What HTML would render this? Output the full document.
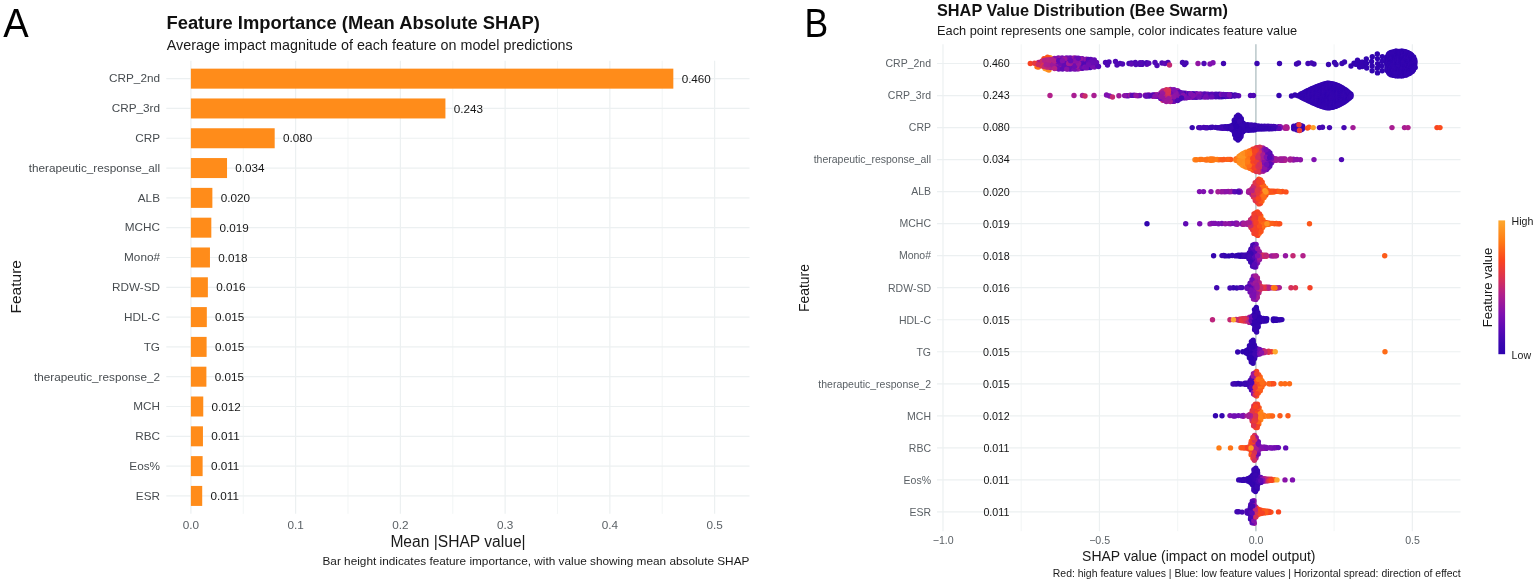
<!DOCTYPE html>
<html lang="en"><head><meta charset="utf-8"><title>SHAP feature importance</title>
<style>
html,body{margin:0;padding:0;background:#fff;}
body{width:1535px;height:583px;overflow:hidden;}
svg{display:block;font-family:"Liberation Sans", sans-serif;filter:blur(0.5px);}
</style></head><body>
<svg width="1535" height="583" viewBox="0 0 1535 583">
<rect width="1535" height="583" fill="#ffffff"/>
<g id="panelA">
<line x1="190.90" y1="60.77" x2="190.90" y2="513.80" stroke="#ecf0f1" stroke-width="1.2"/>
<line x1="243.27" y1="60.77" x2="243.27" y2="513.80" stroke="#ecf0f1" stroke-width="0.7"/>
<line x1="295.64" y1="60.77" x2="295.64" y2="513.80" stroke="#ecf0f1" stroke-width="1.2"/>
<line x1="348.01" y1="60.77" x2="348.01" y2="513.80" stroke="#ecf0f1" stroke-width="0.7"/>
<line x1="400.38" y1="60.77" x2="400.38" y2="513.80" stroke="#ecf0f1" stroke-width="1.2"/>
<line x1="452.75" y1="60.77" x2="452.75" y2="513.80" stroke="#ecf0f1" stroke-width="0.7"/>
<line x1="505.12" y1="60.77" x2="505.12" y2="513.80" stroke="#ecf0f1" stroke-width="1.2"/>
<line x1="557.49" y1="60.77" x2="557.49" y2="513.80" stroke="#ecf0f1" stroke-width="0.7"/>
<line x1="609.86" y1="60.77" x2="609.86" y2="513.80" stroke="#ecf0f1" stroke-width="1.2"/>
<line x1="662.23" y1="60.77" x2="662.23" y2="513.80" stroke="#ecf0f1" stroke-width="0.7"/>
<line x1="714.60" y1="60.77" x2="714.60" y2="513.80" stroke="#ecf0f1" stroke-width="1.2"/>
<line x1="166.3" y1="78.65" x2="749.5" y2="78.65" stroke="#ecf0f1" stroke-width="1.2"/>
<line x1="166.3" y1="108.46" x2="749.5" y2="108.46" stroke="#ecf0f1" stroke-width="1.2"/>
<line x1="166.3" y1="138.26" x2="749.5" y2="138.26" stroke="#ecf0f1" stroke-width="1.2"/>
<line x1="166.3" y1="168.06" x2="749.5" y2="168.06" stroke="#ecf0f1" stroke-width="1.2"/>
<line x1="166.3" y1="197.87" x2="749.5" y2="197.87" stroke="#ecf0f1" stroke-width="1.2"/>
<line x1="166.3" y1="227.68" x2="749.5" y2="227.68" stroke="#ecf0f1" stroke-width="1.2"/>
<line x1="166.3" y1="257.48" x2="749.5" y2="257.48" stroke="#ecf0f1" stroke-width="1.2"/>
<line x1="166.3" y1="287.28" x2="749.5" y2="287.28" stroke="#ecf0f1" stroke-width="1.2"/>
<line x1="166.3" y1="317.09" x2="749.5" y2="317.09" stroke="#ecf0f1" stroke-width="1.2"/>
<line x1="166.3" y1="346.89" x2="749.5" y2="346.89" stroke="#ecf0f1" stroke-width="1.2"/>
<line x1="166.3" y1="376.70" x2="749.5" y2="376.70" stroke="#ecf0f1" stroke-width="1.2"/>
<line x1="166.3" y1="406.50" x2="749.5" y2="406.50" stroke="#ecf0f1" stroke-width="1.2"/>
<line x1="166.3" y1="436.31" x2="749.5" y2="436.31" stroke="#ecf0f1" stroke-width="1.2"/>
<line x1="166.3" y1="466.12" x2="749.5" y2="466.12" stroke="#ecf0f1" stroke-width="1.2"/>
<line x1="166.3" y1="495.92" x2="749.5" y2="495.92" stroke="#ecf0f1" stroke-width="1.2"/>
<rect x="190.90" y="68.65" width="482.43" height="20.0" fill="#ff8c1a"/>
<text x="681.63" y="82.75" font-size="11.7" fill="#151515" text-anchor="start" font-weight="normal" >0.460</text>
<text x="160.0" y="82.45" font-size="11.75" fill="#474c50" text-anchor="end" font-weight="normal" >CRP_2nd</text>
<rect x="190.90" y="98.46" width="254.52" height="20.0" fill="#ff8c1a"/>
<text x="453.72" y="112.56" font-size="11.7" fill="#151515" text-anchor="start" font-weight="normal" >0.243</text>
<text x="160.0" y="112.26" font-size="11.75" fill="#474c50" text-anchor="end" font-weight="normal" >CRP_3rd</text>
<rect x="190.90" y="128.26" width="83.79" height="20.0" fill="#ff8c1a"/>
<text x="282.99" y="142.36" font-size="11.7" fill="#151515" text-anchor="start" font-weight="normal" >0.080</text>
<text x="160.0" y="142.06" font-size="11.75" fill="#474c50" text-anchor="end" font-weight="normal" >CRP</text>
<rect x="190.90" y="158.06" width="36.14" height="20.0" fill="#ff8c1a"/>
<text x="235.34" y="172.16" font-size="11.7" fill="#151515" text-anchor="start" font-weight="normal" >0.034</text>
<text x="160.0" y="171.87" font-size="11.75" fill="#474c50" text-anchor="end" font-weight="normal" >therapeutic_response_all</text>
<rect x="190.90" y="187.87" width="21.47" height="20.0" fill="#ff8c1a"/>
<text x="220.67" y="201.97" font-size="11.7" fill="#151515" text-anchor="start" font-weight="normal" >0.020</text>
<text x="160.0" y="201.67" font-size="11.75" fill="#474c50" text-anchor="end" font-weight="normal" >ALB</text>
<rect x="190.90" y="217.68" width="20.42" height="20.0" fill="#ff8c1a"/>
<text x="219.62" y="231.78" font-size="11.7" fill="#151515" text-anchor="start" font-weight="normal" >0.019</text>
<text x="160.0" y="231.48" font-size="11.75" fill="#474c50" text-anchor="end" font-weight="normal" >MCHC</text>
<rect x="190.90" y="247.48" width="19.06" height="20.0" fill="#ff8c1a"/>
<text x="218.26" y="261.58" font-size="11.7" fill="#151515" text-anchor="start" font-weight="normal" >0.018</text>
<text x="160.0" y="261.28" font-size="11.75" fill="#474c50" text-anchor="end" font-weight="normal" >Mono#</text>
<rect x="190.90" y="277.28" width="16.97" height="20.0" fill="#ff8c1a"/>
<text x="216.17" y="291.38" font-size="11.7" fill="#151515" text-anchor="start" font-weight="normal" >0.016</text>
<text x="160.0" y="291.08" font-size="11.75" fill="#474c50" text-anchor="end" font-weight="normal" >RDW-SD</text>
<rect x="190.90" y="307.09" width="15.92" height="20.0" fill="#ff8c1a"/>
<text x="215.12" y="321.19" font-size="11.7" fill="#151515" text-anchor="start" font-weight="normal" >0.015</text>
<text x="160.0" y="320.89" font-size="11.75" fill="#474c50" text-anchor="end" font-weight="normal" >HDL-C</text>
<rect x="190.90" y="336.89" width="15.71" height="20.0" fill="#ff8c1a"/>
<text x="214.91" y="351.00" font-size="11.7" fill="#151515" text-anchor="start" font-weight="normal" >0.015</text>
<text x="160.0" y="350.69" font-size="11.75" fill="#474c50" text-anchor="end" font-weight="normal" >TG</text>
<rect x="190.90" y="366.70" width="15.50" height="20.0" fill="#ff8c1a"/>
<text x="214.70" y="380.80" font-size="11.7" fill="#151515" text-anchor="start" font-weight="normal" >0.015</text>
<text x="160.0" y="380.50" font-size="11.75" fill="#474c50" text-anchor="end" font-weight="normal" >therapeutic_response_2</text>
<rect x="190.90" y="396.50" width="12.36" height="20.0" fill="#ff8c1a"/>
<text x="211.56" y="410.61" font-size="11.7" fill="#151515" text-anchor="start" font-weight="normal" >0.012</text>
<text x="160.0" y="410.31" font-size="11.75" fill="#474c50" text-anchor="end" font-weight="normal" >MCH</text>
<rect x="190.90" y="426.31" width="12.05" height="20.0" fill="#ff8c1a"/>
<text x="211.25" y="440.41" font-size="11.7" fill="#151515" text-anchor="start" font-weight="normal" >0.011</text>
<text x="160.0" y="440.11" font-size="11.75" fill="#474c50" text-anchor="end" font-weight="normal" >RBC</text>
<rect x="190.90" y="456.12" width="11.73" height="20.0" fill="#ff8c1a"/>
<text x="210.93" y="470.22" font-size="11.7" fill="#151515" text-anchor="start" font-weight="normal" >0.011</text>
<text x="160.0" y="469.92" font-size="11.75" fill="#474c50" text-anchor="end" font-weight="normal" >Eos%</text>
<rect x="190.90" y="485.92" width="11.31" height="20.0" fill="#ff8c1a"/>
<text x="210.51" y="500.02" font-size="11.7" fill="#151515" text-anchor="start" font-weight="normal" >0.011</text>
<text x="160.0" y="499.72" font-size="11.75" fill="#474c50" text-anchor="end" font-weight="normal" >ESR</text>
<text x="190.90" y="528.6" font-size="11.75" fill="#5b6166" text-anchor="middle" font-weight="normal" >0.0</text>
<text x="295.64" y="528.6" font-size="11.75" fill="#5b6166" text-anchor="middle" font-weight="normal" >0.1</text>
<text x="400.38" y="528.6" font-size="11.75" fill="#5b6166" text-anchor="middle" font-weight="normal" >0.2</text>
<text x="505.12" y="528.6" font-size="11.75" fill="#5b6166" text-anchor="middle" font-weight="normal" >0.3</text>
<text x="609.86" y="528.6" font-size="11.75" fill="#5b6166" text-anchor="middle" font-weight="normal" >0.4</text>
<text x="714.60" y="528.6" font-size="11.75" fill="#5b6166" text-anchor="middle" font-weight="normal" >0.5</text>
<text x="458.0" y="546.5" font-size="15.6" fill="#1a1a1a" text-anchor="middle" font-weight="normal" >Mean |SHAP value|</text>
<text x="749.4" y="564.8" font-size="11.8" fill="#1a1a1a" text-anchor="end" font-weight="normal" >Bar height indicates feature importance, with value showing mean absolute SHAP</text>
<text x="166.5" y="28.6" font-size="18.35" fill="#111" text-anchor="start" font-weight="bold" >Feature Importance (Mean Absolute SHAP)</text>
<text x="166.8" y="50.4" font-size="14.33" fill="#1a1a1a" text-anchor="start" font-weight="normal" >Average impact magnitude of each feature on model predictions</text>
<text transform="translate(21.4,286.8) rotate(-90)" font-size="15.5" fill="#1a1a1a" text-anchor="middle">Feature</text>
<text transform="translate(3.3,36.7) scale(0.92,1)" font-size="41.5" fill="#000">A</text>
</g>
<g id="panelB">
<line x1="943.00" y1="44.28" x2="943.00" y2="531.14" stroke="#ecf0f1" stroke-width="1.2"/>
<line x1="1021.23" y1="44.28" x2="1021.23" y2="531.14" stroke="#ecf0f1" stroke-width="0.7"/>
<line x1="1099.45" y1="44.28" x2="1099.45" y2="531.14" stroke="#ecf0f1" stroke-width="1.2"/>
<line x1="1177.68" y1="44.28" x2="1177.68" y2="531.14" stroke="#ecf0f1" stroke-width="0.7"/>
<line x1="1255.90" y1="44.28" x2="1255.90" y2="531.14" stroke="#ecf0f1" stroke-width="1.2"/>
<line x1="1334.12" y1="44.28" x2="1334.12" y2="531.14" stroke="#ecf0f1" stroke-width="0.7"/>
<line x1="1412.35" y1="44.28" x2="1412.35" y2="531.14" stroke="#ecf0f1" stroke-width="1.2"/>
<line x1="937" y1="63.50" x2="1460.5" y2="63.50" stroke="#ecf0f1" stroke-width="1.2"/>
<line x1="937" y1="95.53" x2="1460.5" y2="95.53" stroke="#ecf0f1" stroke-width="1.2"/>
<line x1="937" y1="127.56" x2="1460.5" y2="127.56" stroke="#ecf0f1" stroke-width="1.2"/>
<line x1="937" y1="159.59" x2="1460.5" y2="159.59" stroke="#ecf0f1" stroke-width="1.2"/>
<line x1="937" y1="191.62" x2="1460.5" y2="191.62" stroke="#ecf0f1" stroke-width="1.2"/>
<line x1="937" y1="223.65" x2="1460.5" y2="223.65" stroke="#ecf0f1" stroke-width="1.2"/>
<line x1="937" y1="255.68" x2="1460.5" y2="255.68" stroke="#ecf0f1" stroke-width="1.2"/>
<line x1="937" y1="287.71" x2="1460.5" y2="287.71" stroke="#ecf0f1" stroke-width="1.2"/>
<line x1="937" y1="319.74" x2="1460.5" y2="319.74" stroke="#ecf0f1" stroke-width="1.2"/>
<line x1="937" y1="351.77" x2="1460.5" y2="351.77" stroke="#ecf0f1" stroke-width="1.2"/>
<line x1="937" y1="383.80" x2="1460.5" y2="383.80" stroke="#ecf0f1" stroke-width="1.2"/>
<line x1="937" y1="415.83" x2="1460.5" y2="415.83" stroke="#ecf0f1" stroke-width="1.2"/>
<line x1="937" y1="447.86" x2="1460.5" y2="447.86" stroke="#ecf0f1" stroke-width="1.2"/>
<line x1="937" y1="479.89" x2="1460.5" y2="479.89" stroke="#ecf0f1" stroke-width="1.2"/>
<line x1="937" y1="511.92" x2="1460.5" y2="511.92" stroke="#ecf0f1" stroke-width="1.2"/>
<line x1="1255.90" y1="44.28" x2="1255.90" y2="531.14" stroke="#adbcc0" stroke-width="1.15"/>
<text x="931.0" y="67.30" font-size="10.5" fill="#5b6166" text-anchor="end" font-weight="normal" >CRP_2nd</text>
<text x="996.4" y="67.40" font-size="10.7" fill="#151515" text-anchor="middle" font-weight="normal" >0.460</text>
<text x="931.0" y="99.33" font-size="10.5" fill="#5b6166" text-anchor="end" font-weight="normal" >CRP_3rd</text>
<text x="996.4" y="99.43" font-size="10.7" fill="#151515" text-anchor="middle" font-weight="normal" >0.243</text>
<text x="931.0" y="131.36" font-size="10.5" fill="#5b6166" text-anchor="end" font-weight="normal" >CRP</text>
<text x="996.4" y="131.46" font-size="10.7" fill="#151515" text-anchor="middle" font-weight="normal" >0.080</text>
<text x="931.0" y="163.39" font-size="10.5" fill="#5b6166" text-anchor="end" font-weight="normal" >therapeutic_response_all</text>
<text x="996.4" y="163.49" font-size="10.7" fill="#151515" text-anchor="middle" font-weight="normal" >0.034</text>
<text x="931.0" y="195.42" font-size="10.5" fill="#5b6166" text-anchor="end" font-weight="normal" >ALB</text>
<text x="996.4" y="195.52" font-size="10.7" fill="#151515" text-anchor="middle" font-weight="normal" >0.020</text>
<text x="931.0" y="227.45" font-size="10.5" fill="#5b6166" text-anchor="end" font-weight="normal" >MCHC</text>
<text x="996.4" y="227.55" font-size="10.7" fill="#151515" text-anchor="middle" font-weight="normal" >0.019</text>
<text x="931.0" y="259.48" font-size="10.5" fill="#5b6166" text-anchor="end" font-weight="normal" >Mono#</text>
<text x="996.4" y="259.58" font-size="10.7" fill="#151515" text-anchor="middle" font-weight="normal" >0.018</text>
<text x="931.0" y="291.51" font-size="10.5" fill="#5b6166" text-anchor="end" font-weight="normal" >RDW-SD</text>
<text x="996.4" y="291.61" font-size="10.7" fill="#151515" text-anchor="middle" font-weight="normal" >0.016</text>
<text x="931.0" y="323.54" font-size="10.5" fill="#5b6166" text-anchor="end" font-weight="normal" >HDL-C</text>
<text x="996.4" y="323.64" font-size="10.7" fill="#151515" text-anchor="middle" font-weight="normal" >0.015</text>
<text x="931.0" y="355.57" font-size="10.5" fill="#5b6166" text-anchor="end" font-weight="normal" >TG</text>
<text x="996.4" y="355.67" font-size="10.7" fill="#151515" text-anchor="middle" font-weight="normal" >0.015</text>
<text x="931.0" y="387.60" font-size="10.5" fill="#5b6166" text-anchor="end" font-weight="normal" >therapeutic_response_2</text>
<text x="996.4" y="387.70" font-size="10.7" fill="#151515" text-anchor="middle" font-weight="normal" >0.015</text>
<text x="931.0" y="419.63" font-size="10.5" fill="#5b6166" text-anchor="end" font-weight="normal" >MCH</text>
<text x="996.4" y="419.73" font-size="10.7" fill="#151515" text-anchor="middle" font-weight="normal" >0.012</text>
<text x="931.0" y="451.66" font-size="10.5" fill="#5b6166" text-anchor="end" font-weight="normal" >RBC</text>
<text x="996.4" y="451.76" font-size="10.7" fill="#151515" text-anchor="middle" font-weight="normal" >0.011</text>
<text x="931.0" y="483.69" font-size="10.5" fill="#5b6166" text-anchor="end" font-weight="normal" >Eos%</text>
<text x="996.4" y="483.79" font-size="10.7" fill="#151515" text-anchor="middle" font-weight="normal" >0.011</text>
<text x="931.0" y="515.72" font-size="10.5" fill="#5b6166" text-anchor="end" font-weight="normal" >ESR</text>
<text x="996.4" y="515.82" font-size="10.7" fill="#151515" text-anchor="middle" font-weight="normal" >0.011</text>
<text x="943.20" y="544.4" font-size="10.6" fill="#5b6166" text-anchor="middle" font-weight="normal" >−1.0</text>
<text x="1099.65" y="544.4" font-size="10.6" fill="#5b6166" text-anchor="middle" font-weight="normal" >−0.5</text>
<text x="1256.10" y="544.4" font-size="10.6" fill="#5b6166" text-anchor="middle" font-weight="normal" >0.0</text>
<text x="1412.55" y="544.4" font-size="10.6" fill="#5b6166" text-anchor="middle" font-weight="normal" >0.5</text>
<text x="1198.8" y="560.5" font-size="13.98" fill="#1a1a1a" text-anchor="middle" font-weight="normal" >SHAP value (impact on model output)</text>
<text x="1460.7" y="577.1" font-size="10.45" fill="#1a1a1a" text-anchor="end" font-weight="normal" >Red: high feature values | Blue: low feature values | Horizontal spread: direction of effect</text>
<text x="937" y="16.4" font-size="16.3" fill="#111" text-anchor="start" font-weight="bold" >SHAP Value Distribution (Bee Swarm)</text>
<text x="937" y="35.4" font-size="12.79" fill="#1a1a1a" text-anchor="start" font-weight="normal" >Each point represents one sample, color indicates feature value</text>
<text transform="translate(809.2,288.0) rotate(-90)" font-size="13.9" fill="#1a1a1a" text-anchor="middle">Feature</text>
<text transform="translate(804.6,36.5) scale(0.855,1)" font-size="41.5" fill="#000">B</text>
<circle cx="1030.3" cy="63.5" r="2.7" fill="#f84322"/>
<circle cx="1037.0" cy="66.7" r="2.7" fill="#fe6b17"/>
<circle cx="1038.5" cy="67.1" r="2.7" fill="#fe7215"/>
<circle cx="1045.0" cy="68.5" r="2.7" fill="#fe9a26"/>
<circle cx="1047.5" cy="69.5" r="2.7" fill="#fe9a26"/>
<circle cx="1050.0" cy="57.7" r="2.7" fill="#fe8b1e"/>
<circle cx="1052.5" cy="59.0" r="2.7" fill="#fe9121"/>
<circle cx="1053.5" cy="62.5" r="2.7" fill="#fe8b1e"/>
<circle cx="1053.0" cy="66.0" r="2.7" fill="#fe861b"/>
<circle cx="1049.0" cy="70.1" r="2.7" fill="#fe8b1e"/>
<circle cx="1044.0" cy="58.7" r="2.7" fill="#fa441e"/>
<circle cx="1047.5" cy="57.1" r="2.7" fill="#fc571a"/>
<circle cx="1068.4" cy="58.1" r="2.7" fill="#760eb1"/>
<circle cx="1076.8" cy="68.9" r="2.7" fill="#750eb1"/>
<circle cx="1082.4" cy="58.7" r="2.7" fill="#6e0db2"/>
<circle cx="1090.8" cy="59.4" r="2.7" fill="#680cb3"/>
<circle cx="1072.4" cy="63.5" r="2.7" fill="#6a0cb3"/>
<circle cx="1074.7" cy="63.5" r="2.7" fill="#9517a0"/>
<circle cx="1050.4" cy="62.1" r="2.7" fill="#d63057"/>
<circle cx="1038.5" cy="62.4" r="2.7" fill="#c22774"/>
<circle cx="1050.3" cy="64.9" r="2.7" fill="#b1208b"/>
<circle cx="1080.7" cy="61.0" r="2.7" fill="#8813aa"/>
<circle cx="1058.3" cy="58.0" r="2.7" fill="#790fb1"/>
<circle cx="1050.7" cy="59.4" r="2.7" fill="#c6296e"/>
<circle cx="1070.5" cy="69.1" r="2.7" fill="#600ab4"/>
<circle cx="1058.5" cy="63.5" r="2.7" fill="#8311ad"/>
<circle cx="1078.6" cy="68.7" r="2.7" fill="#8e15a5"/>
<circle cx="1046.6" cy="59.9" r="2.7" fill="#b72283"/>
<circle cx="1044.3" cy="62.5" r="2.7" fill="#a91d91"/>
<circle cx="1054.5" cy="58.5" r="2.7" fill="#9115a3"/>
<circle cx="1078.3" cy="60.9" r="2.7" fill="#670cb3"/>
<circle cx="1056.6" cy="61.2" r="2.7" fill="#690cb3"/>
<circle cx="1052.7" cy="62.2" r="2.7" fill="#ac1e8f"/>
<circle cx="1050.7" cy="67.6" r="2.7" fill="#9f1a98"/>
<circle cx="1076.8" cy="63.5" r="2.7" fill="#7a0fb1"/>
<circle cx="1080.7" cy="68.4" r="2.7" fill="#97179f"/>
<circle cx="1094.5" cy="67.0" r="2.7" fill="#730eb2"/>
<circle cx="1062.5" cy="66.3" r="2.7" fill="#8813aa"/>
<circle cx="1060.4" cy="58.4" r="2.7" fill="#9a189d"/>
<circle cx="1072.7" cy="68.5" r="2.7" fill="#750eb1"/>
<circle cx="1082.8" cy="61.1" r="2.7" fill="#8311ae"/>
<circle cx="1034.5" cy="63.3" r="2.7" fill="#e7393d"/>
<circle cx="1084.4" cy="62.3" r="2.7" fill="#740eb1"/>
<circle cx="1072.6" cy="61.0" r="2.7" fill="#700db2"/>
<circle cx="1040.3" cy="63.5" r="2.7" fill="#be257a"/>
<circle cx="1060.3" cy="66.0" r="2.7" fill="#7f10b0"/>
<circle cx="1074.8" cy="60.7" r="2.7" fill="#98189e"/>
<circle cx="1040.5" cy="62.1" r="2.7" fill="#a61c93"/>
<circle cx="1066.2" cy="60.7" r="2.7" fill="#5f0ab4"/>
<circle cx="1066.3" cy="63.5" r="2.7" fill="#650bb3"/>
<circle cx="1074.5" cy="69.1" r="2.7" fill="#760eb1"/>
<circle cx="1054.5" cy="63.5" r="2.7" fill="#9f1a98"/>
<circle cx="1056.5" cy="63.5" r="2.7" fill="#720eb2"/>
<circle cx="1078.7" cy="66.1" r="2.7" fill="#790fb1"/>
<circle cx="1056.4" cy="58.9" r="2.7" fill="#8110af"/>
<circle cx="1082.7" cy="68.3" r="2.7" fill="#5d0ab4"/>
<circle cx="1072.7" cy="66.0" r="2.7" fill="#8211ae"/>
<circle cx="1080.5" cy="63.5" r="2.7" fill="#620bb4"/>
<circle cx="1090.2" cy="64.9" r="2.7" fill="#640bb4"/>
<circle cx="1082.3" cy="65.9" r="2.7" fill="#8f15a4"/>
<circle cx="1094.7" cy="64.7" r="2.7" fill="#630bb4"/>
<circle cx="1060.6" cy="68.6" r="2.7" fill="#700db2"/>
<circle cx="1084.8" cy="59.9" r="2.7" fill="#7c0fb1"/>
<circle cx="1072.8" cy="58.5" r="2.7" fill="#98189e"/>
<circle cx="1094.3" cy="60.0" r="2.7" fill="#660bb3"/>
<circle cx="1068.5" cy="66.2" r="2.7" fill="#7f10b0"/>
<circle cx="1080.7" cy="66.0" r="2.7" fill="#6c0db2"/>
<circle cx="1046.6" cy="67.1" r="2.7" fill="#bb247e"/>
<circle cx="1040.7" cy="64.9" r="2.7" fill="#aa1d90"/>
<circle cx="1042.3" cy="60.9" r="2.7" fill="#cb2b67"/>
<circle cx="1068.3" cy="68.9" r="2.7" fill="#650bb3"/>
<circle cx="1046.5" cy="62.3" r="2.7" fill="#a21b96"/>
<circle cx="1076.8" cy="66.2" r="2.7" fill="#9e1a99"/>
<circle cx="1070.4" cy="57.9" r="2.7" fill="#700db2"/>
<circle cx="1042.8" cy="63.5" r="2.7" fill="#c82a6b"/>
<circle cx="1042.4" cy="66.1" r="2.7" fill="#e03548"/>
<circle cx="1056.3" cy="65.8" r="2.7" fill="#6b0cb3"/>
<circle cx="1058.7" cy="66.3" r="2.7" fill="#9517a0"/>
<circle cx="1062.2" cy="58.0" r="2.7" fill="#7b0fb1"/>
<circle cx="1070.5" cy="66.3" r="2.7" fill="#680cb3"/>
<circle cx="1086.5" cy="61.3" r="2.7" fill="#8712ab"/>
<circle cx="1064.2" cy="68.1" r="2.7" fill="#6d0db2"/>
<circle cx="1096.5" cy="64.6" r="2.7" fill="#600ab4"/>
<circle cx="1074.3" cy="57.9" r="2.7" fill="#9517a0"/>
<circle cx="1038.2" cy="64.6" r="2.7" fill="#cb2b66"/>
<circle cx="1080.6" cy="58.6" r="2.7" fill="#9316a2"/>
<circle cx="1044.4" cy="64.5" r="2.7" fill="#d83155"/>
<circle cx="1086.5" cy="59.1" r="2.7" fill="#8b13a8"/>
<circle cx="1060.8" cy="61.0" r="2.7" fill="#690cb3"/>
<circle cx="1088.7" cy="67.5" r="2.7" fill="#660bb3"/>
<circle cx="1092.4" cy="64.5" r="2.7" fill="#660bb3"/>
<circle cx="1058.7" cy="69.0" r="2.7" fill="#710db2"/>
<circle cx="1062.8" cy="63.5" r="2.7" fill="#8d14a6"/>
<circle cx="1068.4" cy="60.8" r="2.7" fill="#670cb3"/>
<circle cx="1064.7" cy="61.2" r="2.7" fill="#790fb1"/>
<circle cx="1082.3" cy="63.5" r="2.7" fill="#5b0ab5"/>
<circle cx="1094.3" cy="62.3" r="2.7" fill="#5409b4"/>
<circle cx="1048.5" cy="67.0" r="2.7" fill="#bd257b"/>
<circle cx="1066.4" cy="66.3" r="2.7" fill="#600ab4"/>
<circle cx="1086.7" cy="63.5" r="2.7" fill="#5b09b5"/>
<circle cx="1044.3" cy="66.6" r="2.7" fill="#c82a6b"/>
<circle cx="1052.6" cy="67.4" r="2.7" fill="#ad1f8e"/>
<circle cx="1066.3" cy="57.9" r="2.7" fill="#750eb1"/>
<circle cx="1088.5" cy="59.5" r="2.7" fill="#5309b4"/>
<circle cx="1054.2" cy="66.0" r="2.7" fill="#a11b97"/>
<circle cx="1048.4" cy="62.3" r="2.7" fill="#cf2d62"/>
<circle cx="1060.3" cy="63.5" r="2.7" fill="#6e0db2"/>
<circle cx="1076.2" cy="58.1" r="2.7" fill="#6f0db2"/>
<circle cx="1074.6" cy="66.3" r="2.7" fill="#6e0db2"/>
<circle cx="1078.6" cy="63.5" r="2.7" fill="#9517a0"/>
<circle cx="1048.6" cy="64.7" r="2.7" fill="#aa1d90"/>
<circle cx="1086.4" cy="65.7" r="2.7" fill="#600ab4"/>
<circle cx="1056.7" cy="68.1" r="2.7" fill="#700db2"/>
<circle cx="1084.3" cy="64.7" r="2.7" fill="#5109b4"/>
<circle cx="1052.7" cy="64.8" r="2.7" fill="#9b199c"/>
<circle cx="1096.5" cy="62.4" r="2.7" fill="#670cb3"/>
<circle cx="1064.7" cy="58.9" r="2.7" fill="#99189d"/>
<circle cx="1054.7" cy="61.0" r="2.7" fill="#b2208a"/>
<circle cx="1076.4" cy="60.8" r="2.7" fill="#8a13a8"/>
<circle cx="1044.7" cy="60.4" r="2.7" fill="#b52186"/>
<circle cx="1058.7" cy="60.7" r="2.7" fill="#640bb3"/>
<circle cx="1064.4" cy="63.5" r="2.7" fill="#660bb3"/>
<circle cx="1062.4" cy="60.7" r="2.7" fill="#8411ad"/>
<circle cx="1046.2" cy="64.7" r="2.7" fill="#ac1e8f"/>
<circle cx="1062.6" cy="69.0" r="2.7" fill="#620bb4"/>
<circle cx="1048.6" cy="60.0" r="2.7" fill="#b82382"/>
<circle cx="1064.6" cy="65.8" r="2.7" fill="#630bb4"/>
<circle cx="1084.8" cy="67.1" r="2.7" fill="#7b0fb1"/>
<circle cx="1052.2" cy="59.6" r="2.7" fill="#b2208a"/>
<circle cx="1088.7" cy="62.2" r="2.7" fill="#610bb4"/>
<circle cx="1070.2" cy="63.5" r="2.7" fill="#9e1a99"/>
<circle cx="1092.3" cy="60.4" r="2.7" fill="#630bb4"/>
<circle cx="1054.6" cy="68.5" r="2.7" fill="#b52186"/>
<circle cx="1090.5" cy="62.1" r="2.7" fill="#690cb3"/>
<circle cx="1090.3" cy="67.6" r="2.7" fill="#4808b2"/>
<circle cx="1092.5" cy="66.6" r="2.7" fill="#780fb1"/>
<circle cx="1086.3" cy="67.9" r="2.7" fill="#740eb2"/>
<circle cx="1068.7" cy="63.5" r="2.7" fill="#a11b97"/>
<circle cx="1078.3" cy="58.3" r="2.7" fill="#680cb3"/>
<circle cx="1066.7" cy="69.1" r="2.7" fill="#8812aa"/>
<circle cx="1092.6" cy="62.5" r="2.7" fill="#680cb3"/>
<circle cx="1088.5" cy="64.8" r="2.7" fill="#700db2"/>
<circle cx="1070.7" cy="60.7" r="2.7" fill="#690cb3"/>
<circle cx="1098.5" cy="66.5" r="2.7" fill="#5809b5"/>
<circle cx="1105.5" cy="62.5" r="2.7" fill="#4f08b4"/>
<circle cx="1107.5" cy="65.0" r="2.7" fill="#4f08b4"/>
<circle cx="1109.0" cy="62.0" r="2.7" fill="#4f08b4"/>
<circle cx="1115.5" cy="61.5" r="2.7" fill="#4f08b4"/>
<circle cx="1117.0" cy="65.0" r="2.7" fill="#4f08b4"/>
<circle cx="1120.0" cy="63.5" r="2.7" fill="#4f08b4"/>
<circle cx="1122.5" cy="64.0" r="2.7" fill="#4f08b4"/>
<circle cx="1142.5" cy="62.6" r="2.7" fill="#4d08b3"/>
<circle cx="1142.0" cy="64.4" r="2.7" fill="#4b08b3"/>
<circle cx="1146.9" cy="64.2" r="2.7" fill="#640bb4"/>
<circle cx="1146.7" cy="62.8" r="2.7" fill="#4908b3"/>
<circle cx="1148.8" cy="63.2" r="2.7" fill="#5809b5"/>
<circle cx="1135.3" cy="62.5" r="2.7" fill="#5109b4"/>
<circle cx="1140.1" cy="62.6" r="2.7" fill="#5709b5"/>
<circle cx="1131.3" cy="62.9" r="2.7" fill="#4908b2"/>
<circle cx="1129.0" cy="63.5" r="2.7" fill="#4608b2"/>
<circle cx="1131.4" cy="64.1" r="2.7" fill="#5f0ab4"/>
<circle cx="1140.1" cy="64.4" r="2.7" fill="#5409b4"/>
<circle cx="1135.9" cy="64.5" r="2.7" fill="#5109b4"/>
<circle cx="1155.0" cy="62.5" r="2.7" fill="#4f08b4"/>
<circle cx="1157.0" cy="65.5" r="2.7" fill="#4f08b4"/>
<circle cx="1162.0" cy="63.0" r="2.7" fill="#4f08b4"/>
<circle cx="1165.0" cy="63.5" r="2.7" fill="#5f0ab4"/>
<circle cx="1168.0" cy="62.5" r="2.7" fill="#4f08b4"/>
<circle cx="1169.5" cy="65.0" r="2.7" fill="#c32873"/>
<circle cx="1182.5" cy="62.5" r="2.7" fill="#4608b2"/>
<circle cx="1184.5" cy="64.5" r="2.7" fill="#4608b2"/>
<circle cx="1186.0" cy="63.0" r="2.7" fill="#4608b2"/>
<circle cx="1198.0" cy="63.5" r="2.7" fill="#9115a3"/>
<circle cx="1204.0" cy="63.5" r="2.7" fill="#4f08b4"/>
<circle cx="1210.0" cy="64.0" r="2.7" fill="#8010b0"/>
<circle cx="1213.0" cy="62.7" r="2.7" fill="#8010b0"/>
<circle cx="1223.5" cy="63.5" r="2.7" fill="#4007b1"/>
<circle cx="1257.0" cy="63.5" r="2.7" fill="#3a07b0"/>
<circle cx="1279.5" cy="63.5" r="2.7" fill="#3a07b0"/>
<circle cx="1296.5" cy="64.0" r="2.7" fill="#4007b1"/>
<circle cx="1298.5" cy="63.0" r="2.7" fill="#4007b1"/>
<circle cx="1308.0" cy="63.5" r="2.7" fill="#4007b1"/>
<circle cx="1311.5" cy="63.0" r="2.7" fill="#4608b2"/>
<circle cx="1314.0" cy="64.0" r="2.7" fill="#4007b1"/>
<circle cx="1328.5" cy="64.5" r="2.7" fill="#3a07b0"/>
<circle cx="1334.5" cy="62.5" r="2.7" fill="#3a07b0"/>
<circle cx="1336.0" cy="64.5" r="2.7" fill="#3a07b0"/>
<circle cx="1342.0" cy="63.5" r="2.7" fill="#3a07b0"/>
<circle cx="1344.5" cy="62.0" r="2.7" fill="#3a07b0"/>
<circle cx="1351.0" cy="66.0" r="2.7" fill="#3605af"/>
<circle cx="1358.3" cy="64.7" r="2.7" fill="#3a07b0"/>
<circle cx="1360.3" cy="62.4" r="2.7" fill="#3907b0"/>
<circle cx="1362.7" cy="64.6" r="2.7" fill="#3706af"/>
<circle cx="1362.7" cy="62.4" r="2.7" fill="#3204af"/>
<circle cx="1354.0" cy="63.2" r="2.7" fill="#3304af"/>
<circle cx="1360.4" cy="64.6" r="2.7" fill="#3304af"/>
<circle cx="1358.1" cy="62.3" r="2.7" fill="#3405af"/>
<circle cx="1357.5" cy="60.3" r="2.7" fill="#3404af"/>
<circle cx="1359.6" cy="67.1" r="2.7" fill="#3404af"/>
<circle cx="1362.0" cy="62.3" r="2.7" fill="#3404af"/>
<circle cx="1362.4" cy="66.5" r="2.7" fill="#3404af"/>
<circle cx="1355.6" cy="64.3" r="2.7" fill="#3404af"/>
<circle cx="1366.3" cy="58.9" r="2.7" fill="#3204af"/>
<circle cx="1366.5" cy="63.4" r="2.7" fill="#3204af"/>
<circle cx="1366.7" cy="68.0" r="2.7" fill="#3204af"/>
<circle cx="1372.3" cy="56.7" r="2.7" fill="#3204af"/>
<circle cx="1371.6" cy="61.4" r="2.7" fill="#3204af"/>
<circle cx="1372.1" cy="65.9" r="2.7" fill="#3204af"/>
<circle cx="1372.1" cy="70.7" r="2.7" fill="#3204af"/>
<circle cx="1377.3" cy="54.0" r="2.7" fill="#3204af"/>
<circle cx="1377.4" cy="58.6" r="2.7" fill="#3204af"/>
<circle cx="1377.6" cy="63.6" r="2.7" fill="#3204af"/>
<circle cx="1377.3" cy="68.2" r="2.7" fill="#3204af"/>
<circle cx="1377.5" cy="72.9" r="2.7" fill="#3204af"/>
<circle cx="1382.3" cy="56.6" r="2.7" fill="#3204af"/>
<circle cx="1382.1" cy="61.3" r="2.7" fill="#3204af"/>
<circle cx="1381.6" cy="66.0" r="2.7" fill="#3204af"/>
<circle cx="1382.2" cy="70.7" r="2.7" fill="#3204af"/>
<circle cx="1387.2" cy="56.6" r="2.7" fill="#3003ae"/>
<circle cx="1386.6" cy="58.5" r="2.7" fill="#3404af"/>
<circle cx="1386.8" cy="60.5" r="2.7" fill="#3003ae"/>
<circle cx="1386.6" cy="62.5" r="2.7" fill="#3103ae"/>
<circle cx="1386.8" cy="64.5" r="2.7" fill="#3003ae"/>
<circle cx="1387.2" cy="66.4" r="2.7" fill="#3003ae"/>
<circle cx="1386.9" cy="68.4" r="2.7" fill="#3204af"/>
<circle cx="1387.1" cy="70.4" r="2.7" fill="#3103ae"/>
<circle cx="1388.5" cy="54.3" r="2.7" fill="#3204af"/>
<circle cx="1388.3" cy="56.6" r="2.7" fill="#3003ae"/>
<circle cx="1388.5" cy="58.4" r="2.7" fill="#3003ae"/>
<circle cx="1388.4" cy="60.4" r="2.7" fill="#3204af"/>
<circle cx="1388.2" cy="62.5" r="2.7" fill="#3304af"/>
<circle cx="1388.4" cy="64.5" r="2.7" fill="#3204af"/>
<circle cx="1388.3" cy="66.4" r="2.7" fill="#3003ae"/>
<circle cx="1388.1" cy="68.5" r="2.7" fill="#3304af"/>
<circle cx="1388.2" cy="70.6" r="2.7" fill="#3304af"/>
<circle cx="1388.6" cy="72.5" r="2.7" fill="#3103ae"/>
<circle cx="1389.5" cy="53.3" r="2.7" fill="#3103ae"/>
<circle cx="1389.4" cy="55.3" r="2.7" fill="#3404af"/>
<circle cx="1390.0" cy="57.3" r="2.7" fill="#3404af"/>
<circle cx="1390.0" cy="59.3" r="2.7" fill="#3003ae"/>
<circle cx="1389.8" cy="61.4" r="2.7" fill="#3103af"/>
<circle cx="1389.8" cy="63.5" r="2.7" fill="#3103ae"/>
<circle cx="1389.5" cy="65.6" r="2.7" fill="#3204af"/>
<circle cx="1389.9" cy="67.6" r="2.7" fill="#3003ae"/>
<circle cx="1390.0" cy="69.6" r="2.7" fill="#3103af"/>
<circle cx="1389.8" cy="71.7" r="2.7" fill="#3103af"/>
<circle cx="1389.5" cy="73.8" r="2.7" fill="#3103ae"/>
<circle cx="1391.0" cy="52.5" r="2.7" fill="#3404af"/>
<circle cx="1390.9" cy="54.5" r="2.7" fill="#3304af"/>
<circle cx="1391.0" cy="56.8" r="2.7" fill="#3103af"/>
<circle cx="1391.3" cy="59.0" r="2.7" fill="#3404af"/>
<circle cx="1391.3" cy="61.4" r="2.7" fill="#3103ae"/>
<circle cx="1390.8" cy="63.5" r="2.7" fill="#3204af"/>
<circle cx="1390.9" cy="65.6" r="2.7" fill="#3103af"/>
<circle cx="1391.0" cy="67.8" r="2.7" fill="#3304af"/>
<circle cx="1391.1" cy="70.2" r="2.7" fill="#3304af"/>
<circle cx="1391.0" cy="72.1" r="2.7" fill="#3204af"/>
<circle cx="1390.9" cy="74.7" r="2.7" fill="#3404af"/>
<circle cx="1392.4" cy="52.1" r="2.7" fill="#3003ae"/>
<circle cx="1392.7" cy="54.1" r="2.7" fill="#3404af"/>
<circle cx="1392.5" cy="56.1" r="2.7" fill="#3103af"/>
<circle cx="1392.4" cy="58.2" r="2.7" fill="#3304af"/>
<circle cx="1392.6" cy="60.4" r="2.7" fill="#3103ae"/>
<circle cx="1392.5" cy="62.5" r="2.7" fill="#3003ae"/>
<circle cx="1392.6" cy="64.6" r="2.7" fill="#3204af"/>
<circle cx="1392.7" cy="66.6" r="2.7" fill="#3203af"/>
<circle cx="1392.4" cy="68.6" r="2.7" fill="#3103af"/>
<circle cx="1392.5" cy="70.9" r="2.7" fill="#3003ae"/>
<circle cx="1392.5" cy="72.9" r="2.7" fill="#3103af"/>
<circle cx="1392.7" cy="75.1" r="2.7" fill="#3003ae"/>
<circle cx="1394.1" cy="51.7" r="2.7" fill="#3304af"/>
<circle cx="1393.7" cy="53.8" r="2.7" fill="#3304af"/>
<circle cx="1393.9" cy="56.0" r="2.7" fill="#3103af"/>
<circle cx="1394.0" cy="58.2" r="2.7" fill="#3304af"/>
<circle cx="1394.1" cy="60.2" r="2.7" fill="#3404af"/>
<circle cx="1393.8" cy="62.4" r="2.7" fill="#3103af"/>
<circle cx="1393.8" cy="64.6" r="2.7" fill="#3404af"/>
<circle cx="1393.7" cy="66.7" r="2.7" fill="#3304af"/>
<circle cx="1394.1" cy="68.7" r="2.7" fill="#3204af"/>
<circle cx="1393.6" cy="70.8" r="2.7" fill="#3404af"/>
<circle cx="1393.9" cy="73.1" r="2.7" fill="#3203af"/>
<circle cx="1394.1" cy="75.4" r="2.7" fill="#3003ae"/>
<circle cx="1395.6" cy="51.3" r="2.7" fill="#3304af"/>
<circle cx="1395.4" cy="53.9" r="2.7" fill="#3404af"/>
<circle cx="1395.1" cy="56.0" r="2.7" fill="#3003ae"/>
<circle cx="1395.1" cy="58.1" r="2.7" fill="#3003ae"/>
<circle cx="1395.4" cy="60.3" r="2.7" fill="#3204af"/>
<circle cx="1395.3" cy="62.4" r="2.7" fill="#3304af"/>
<circle cx="1395.1" cy="64.6" r="2.7" fill="#3404af"/>
<circle cx="1395.1" cy="66.8" r="2.7" fill="#3304af"/>
<circle cx="1395.0" cy="68.9" r="2.7" fill="#3404af"/>
<circle cx="1395.2" cy="71.2" r="2.7" fill="#3304af"/>
<circle cx="1395.1" cy="73.3" r="2.7" fill="#3204af"/>
<circle cx="1395.0" cy="75.5" r="2.7" fill="#3204af"/>
<circle cx="1396.4" cy="51.2" r="2.7" fill="#3304af"/>
<circle cx="1396.8" cy="53.4" r="2.7" fill="#3103ae"/>
<circle cx="1396.7" cy="55.7" r="2.7" fill="#3204af"/>
<circle cx="1396.8" cy="58.1" r="2.7" fill="#3103af"/>
<circle cx="1396.6" cy="60.1" r="2.7" fill="#3103ae"/>
<circle cx="1396.9" cy="62.4" r="2.7" fill="#3204af"/>
<circle cx="1396.5" cy="64.6" r="2.7" fill="#3003ae"/>
<circle cx="1396.7" cy="66.8" r="2.7" fill="#3404af"/>
<circle cx="1396.5" cy="69.0" r="2.7" fill="#3204af"/>
<circle cx="1396.9" cy="71.2" r="2.7" fill="#3404af"/>
<circle cx="1396.4" cy="73.4" r="2.7" fill="#3404af"/>
<circle cx="1396.4" cy="75.9" r="2.7" fill="#3204af"/>
<circle cx="1398.0" cy="51.5" r="2.7" fill="#3003ae"/>
<circle cx="1398.1" cy="53.7" r="2.7" fill="#3103ae"/>
<circle cx="1397.9" cy="55.6" r="2.7" fill="#3003ae"/>
<circle cx="1397.9" cy="58.0" r="2.7" fill="#3204af"/>
<circle cx="1398.1" cy="60.2" r="2.7" fill="#3304af"/>
<circle cx="1398.3" cy="62.4" r="2.7" fill="#3103af"/>
<circle cx="1397.9" cy="64.6" r="2.7" fill="#3003ae"/>
<circle cx="1398.1" cy="66.8" r="2.7" fill="#3204af"/>
<circle cx="1398.3" cy="69.1" r="2.7" fill="#3304af"/>
<circle cx="1398.0" cy="71.1" r="2.7" fill="#3003ae"/>
<circle cx="1398.2" cy="73.6" r="2.7" fill="#3204af"/>
<circle cx="1398.1" cy="75.8" r="2.7" fill="#3304af"/>
<circle cx="1399.5" cy="51.4" r="2.7" fill="#3103ae"/>
<circle cx="1399.6" cy="53.5" r="2.7" fill="#3103af"/>
<circle cx="1399.5" cy="55.9" r="2.7" fill="#3003ae"/>
<circle cx="1399.3" cy="57.8" r="2.7" fill="#3204af"/>
<circle cx="1399.4" cy="60.1" r="2.7" fill="#3404af"/>
<circle cx="1399.2" cy="62.4" r="2.7" fill="#3304af"/>
<circle cx="1399.8" cy="64.6" r="2.7" fill="#3304af"/>
<circle cx="1399.6" cy="66.8" r="2.7" fill="#3404af"/>
<circle cx="1399.2" cy="68.9" r="2.7" fill="#3003ae"/>
<circle cx="1399.6" cy="71.3" r="2.7" fill="#3304af"/>
<circle cx="1399.7" cy="73.3" r="2.7" fill="#3304af"/>
<circle cx="1399.3" cy="75.7" r="2.7" fill="#3003ae"/>
<circle cx="1401.2" cy="51.2" r="2.7" fill="#3304af"/>
<circle cx="1400.7" cy="53.4" r="2.7" fill="#3304af"/>
<circle cx="1400.9" cy="55.9" r="2.7" fill="#3204af"/>
<circle cx="1400.9" cy="57.9" r="2.7" fill="#3003ae"/>
<circle cx="1400.8" cy="60.2" r="2.7" fill="#3204af"/>
<circle cx="1400.9" cy="62.4" r="2.7" fill="#3103af"/>
<circle cx="1400.7" cy="64.6" r="2.7" fill="#3204af"/>
<circle cx="1400.7" cy="66.8" r="2.7" fill="#3404af"/>
<circle cx="1401.2" cy="69.1" r="2.7" fill="#3003ae"/>
<circle cx="1400.9" cy="71.1" r="2.7" fill="#3103ae"/>
<circle cx="1400.9" cy="73.3" r="2.7" fill="#3304af"/>
<circle cx="1401.1" cy="75.8" r="2.7" fill="#3103ae"/>
<circle cx="1402.2" cy="51.2" r="2.7" fill="#3103ae"/>
<circle cx="1402.3" cy="53.4" r="2.7" fill="#3103ae"/>
<circle cx="1402.2" cy="55.9" r="2.7" fill="#3003ae"/>
<circle cx="1402.0" cy="57.9" r="2.7" fill="#3103ae"/>
<circle cx="1402.3" cy="60.2" r="2.7" fill="#3003ae"/>
<circle cx="1402.3" cy="62.4" r="2.7" fill="#3003ae"/>
<circle cx="1402.5" cy="64.6" r="2.7" fill="#3203af"/>
<circle cx="1402.2" cy="66.7" r="2.7" fill="#3103ae"/>
<circle cx="1402.0" cy="69.0" r="2.7" fill="#3304af"/>
<circle cx="1402.1" cy="71.4" r="2.7" fill="#3204af"/>
<circle cx="1402.1" cy="73.4" r="2.7" fill="#3304af"/>
<circle cx="1402.4" cy="75.9" r="2.7" fill="#3204af"/>
<circle cx="1403.8" cy="51.4" r="2.7" fill="#3003ae"/>
<circle cx="1403.6" cy="53.5" r="2.7" fill="#3404af"/>
<circle cx="1403.4" cy="56.0" r="2.7" fill="#3404af"/>
<circle cx="1403.9" cy="58.1" r="2.7" fill="#3103af"/>
<circle cx="1403.6" cy="60.3" r="2.7" fill="#3003ae"/>
<circle cx="1403.4" cy="62.4" r="2.7" fill="#3204af"/>
<circle cx="1403.6" cy="64.6" r="2.7" fill="#3204af"/>
<circle cx="1403.5" cy="66.8" r="2.7" fill="#3204af"/>
<circle cx="1403.6" cy="69.0" r="2.7" fill="#3404af"/>
<circle cx="1403.8" cy="71.2" r="2.7" fill="#3003ae"/>
<circle cx="1403.8" cy="73.1" r="2.7" fill="#3103af"/>
<circle cx="1403.4" cy="75.3" r="2.7" fill="#3304af"/>
<circle cx="1405.2" cy="51.7" r="2.7" fill="#3103af"/>
<circle cx="1405.4" cy="53.9" r="2.7" fill="#3003ae"/>
<circle cx="1404.9" cy="55.9" r="2.7" fill="#3204af"/>
<circle cx="1405.0" cy="58.3" r="2.7" fill="#3003ae"/>
<circle cx="1404.8" cy="60.2" r="2.7" fill="#3304af"/>
<circle cx="1405.0" cy="62.4" r="2.7" fill="#3404af"/>
<circle cx="1405.2" cy="64.6" r="2.7" fill="#3103af"/>
<circle cx="1404.9" cy="66.7" r="2.7" fill="#3003ae"/>
<circle cx="1405.0" cy="68.8" r="2.7" fill="#3304af"/>
<circle cx="1405.3" cy="71.0" r="2.7" fill="#3304af"/>
<circle cx="1404.8" cy="72.9" r="2.7" fill="#3103ae"/>
<circle cx="1405.2" cy="75.1" r="2.7" fill="#3003ae"/>
<circle cx="1406.6" cy="52.3" r="2.7" fill="#3404af"/>
<circle cx="1406.6" cy="54.4" r="2.7" fill="#3204af"/>
<circle cx="1406.6" cy="56.2" r="2.7" fill="#3204af"/>
<circle cx="1406.5" cy="58.2" r="2.7" fill="#3404af"/>
<circle cx="1406.3" cy="60.4" r="2.7" fill="#3003ae"/>
<circle cx="1406.8" cy="62.5" r="2.7" fill="#3003ae"/>
<circle cx="1406.7" cy="64.5" r="2.7" fill="#3304af"/>
<circle cx="1406.6" cy="66.6" r="2.7" fill="#3103af"/>
<circle cx="1406.5" cy="68.6" r="2.7" fill="#3304af"/>
<circle cx="1406.6" cy="70.8" r="2.7" fill="#3103ae"/>
<circle cx="1406.4" cy="72.8" r="2.7" fill="#3204af"/>
<circle cx="1406.3" cy="75.1" r="2.7" fill="#3404af"/>
<circle cx="1407.9" cy="52.7" r="2.7" fill="#3204af"/>
<circle cx="1408.1" cy="55.0" r="2.7" fill="#3304af"/>
<circle cx="1407.8" cy="56.9" r="2.7" fill="#3103af"/>
<circle cx="1407.8" cy="59.2" r="2.7" fill="#3204af"/>
<circle cx="1408.0" cy="61.3" r="2.7" fill="#3003ae"/>
<circle cx="1408.2" cy="63.5" r="2.7" fill="#3304af"/>
<circle cx="1407.6" cy="65.6" r="2.7" fill="#3404af"/>
<circle cx="1408.0" cy="67.8" r="2.7" fill="#3003ae"/>
<circle cx="1407.6" cy="69.9" r="2.7" fill="#3304af"/>
<circle cx="1407.7" cy="72.3" r="2.7" fill="#3304af"/>
<circle cx="1407.8" cy="74.1" r="2.7" fill="#3304af"/>
<circle cx="1409.4" cy="53.5" r="2.7" fill="#3003ae"/>
<circle cx="1409.5" cy="55.4" r="2.7" fill="#3103ae"/>
<circle cx="1409.2" cy="57.5" r="2.7" fill="#3404af"/>
<circle cx="1409.3" cy="59.4" r="2.7" fill="#3404af"/>
<circle cx="1409.3" cy="61.5" r="2.7" fill="#3204af"/>
<circle cx="1409.1" cy="63.5" r="2.7" fill="#3003ae"/>
<circle cx="1409.2" cy="65.5" r="2.7" fill="#3103ae"/>
<circle cx="1409.2" cy="67.6" r="2.7" fill="#3304af"/>
<circle cx="1409.2" cy="69.5" r="2.7" fill="#3003ae"/>
<circle cx="1409.5" cy="71.4" r="2.7" fill="#3203af"/>
<circle cx="1409.3" cy="73.5" r="2.7" fill="#3404af"/>
<circle cx="1410.6" cy="54.3" r="2.7" fill="#3304af"/>
<circle cx="1410.8" cy="56.3" r="2.7" fill="#3103af"/>
<circle cx="1410.6" cy="58.3" r="2.7" fill="#3103ae"/>
<circle cx="1410.4" cy="60.4" r="2.7" fill="#3204af"/>
<circle cx="1411.0" cy="62.5" r="2.7" fill="#3204af"/>
<circle cx="1410.6" cy="64.5" r="2.7" fill="#3304af"/>
<circle cx="1411.0" cy="66.5" r="2.7" fill="#3304af"/>
<circle cx="1410.8" cy="68.7" r="2.7" fill="#3103ae"/>
<circle cx="1410.8" cy="70.7" r="2.7" fill="#3103af"/>
<circle cx="1410.4" cy="72.8" r="2.7" fill="#3204af"/>
<circle cx="1411.8" cy="55.2" r="2.7" fill="#3204af"/>
<circle cx="1412.0" cy="57.4" r="2.7" fill="#3204af"/>
<circle cx="1412.0" cy="59.4" r="2.7" fill="#3003ae"/>
<circle cx="1412.0" cy="61.5" r="2.7" fill="#3003ae"/>
<circle cx="1411.8" cy="63.5" r="2.7" fill="#3304af"/>
<circle cx="1412.1" cy="65.6" r="2.7" fill="#3003ae"/>
<circle cx="1412.2" cy="67.6" r="2.7" fill="#3304af"/>
<circle cx="1412.4" cy="69.7" r="2.7" fill="#3304af"/>
<circle cx="1412.3" cy="71.6" r="2.7" fill="#3204af"/>
<circle cx="1413.6" cy="57.0" r="2.7" fill="#3204af"/>
<circle cx="1413.3" cy="59.0" r="2.7" fill="#3003ae"/>
<circle cx="1413.2" cy="61.3" r="2.7" fill="#3003ae"/>
<circle cx="1413.7" cy="63.5" r="2.7" fill="#3204af"/>
<circle cx="1413.6" cy="65.7" r="2.7" fill="#3103af"/>
<circle cx="1413.5" cy="67.8" r="2.7" fill="#3204af"/>
<circle cx="1413.4" cy="70.0" r="2.7" fill="#3204af"/>
<circle cx="1414.6" cy="59.4" r="2.7" fill="#3404af"/>
<circle cx="1415.0" cy="61.4" r="2.7" fill="#3204af"/>
<circle cx="1414.8" cy="63.5" r="2.7" fill="#3404af"/>
<circle cx="1414.6" cy="65.5" r="2.7" fill="#3003ae"/>
<circle cx="1415.2" cy="67.6" r="2.7" fill="#3204af"/>
<circle cx="1050.0" cy="95.5" r="2.7" fill="#b2208a"/>
<circle cx="1074.0" cy="95.5" r="2.7" fill="#a81d92"/>
<circle cx="1082.5" cy="95.5" r="2.7" fill="#a81d92"/>
<circle cx="1085.0" cy="96.0" r="2.7" fill="#c92b69"/>
<circle cx="1094.0" cy="95.5" r="2.7" fill="#a81d92"/>
<circle cx="1106.5" cy="95.0" r="2.7" fill="#8010b0"/>
<circle cx="1109.5" cy="96.0" r="2.7" fill="#8010b0"/>
<circle cx="1112.5" cy="97.0" r="2.7" fill="#c32873"/>
<circle cx="1196.6" cy="93.8" r="2.7" fill="#5f0ab4"/>
<circle cx="1161.0" cy="92.6" r="2.7" fill="#ac1e8f"/>
<circle cx="1172.4" cy="94.4" r="2.7" fill="#97179e"/>
<circle cx="1189.0" cy="97.4" r="2.7" fill="#8110af"/>
<circle cx="1196.5" cy="95.5" r="2.7" fill="#780fb1"/>
<circle cx="1156.8" cy="96.4" r="2.7" fill="#680cb3"/>
<circle cx="1212.0" cy="95.5" r="2.7" fill="#700db2"/>
<circle cx="1152.8" cy="96.2" r="2.7" fill="#9517a0"/>
<circle cx="1173.9" cy="101.4" r="2.7" fill="#8b14a7"/>
<circle cx="1174.0" cy="94.4" r="2.7" fill="#720eb2"/>
<circle cx="1164.7" cy="95.5" r="2.7" fill="#9115a3"/>
<circle cx="1174.2" cy="92.0" r="2.7" fill="#7c0fb0"/>
<circle cx="1231.1" cy="94.8" r="2.7" fill="#4408b2"/>
<circle cx="1162.8" cy="100.2" r="2.7" fill="#c92a69"/>
<circle cx="1170.5" cy="91.9" r="2.7" fill="#a21b96"/>
<circle cx="1164.6" cy="90.7" r="2.7" fill="#b42187"/>
<circle cx="1149.1" cy="95.0" r="2.7" fill="#9a189c"/>
<circle cx="1225.5" cy="96.5" r="2.7" fill="#3e07b1"/>
<circle cx="1162.5" cy="95.5" r="2.7" fill="#9d199a"/>
<circle cx="1128.4" cy="95.8" r="2.7" fill="#5809b5"/>
<circle cx="1200.3" cy="97.1" r="2.7" fill="#3f07b1"/>
<circle cx="1198.5" cy="95.5" r="2.7" fill="#610ab4"/>
<circle cx="1160.7" cy="98.4" r="2.7" fill="#6e0db2"/>
<circle cx="1185.6" cy="97.9" r="2.7" fill="#720eb2"/>
<circle cx="1231.0" cy="96.3" r="2.7" fill="#3e07b1"/>
<circle cx="1212.1" cy="94.2" r="2.7" fill="#700db2"/>
<circle cx="1157.1" cy="94.7" r="2.7" fill="#8d14a6"/>
<circle cx="1154.8" cy="94.8" r="2.7" fill="#9f1a99"/>
<circle cx="1213.9" cy="96.6" r="2.7" fill="#710db2"/>
<circle cx="1187.1" cy="93.6" r="2.7" fill="#4e08b3"/>
<circle cx="1145.3" cy="95.1" r="2.7" fill="#8f15a5"/>
<circle cx="1234.9" cy="95.0" r="2.7" fill="#3806b0"/>
<circle cx="1202.6" cy="94.4" r="2.7" fill="#6c0cb3"/>
<circle cx="1172.4" cy="96.7" r="2.7" fill="#6f0db2"/>
<circle cx="1192.8" cy="97.3" r="2.7" fill="#5008b4"/>
<circle cx="1187.1" cy="95.5" r="2.7" fill="#610bb4"/>
<circle cx="1164.5" cy="100.3" r="2.7" fill="#9216a2"/>
<circle cx="1221.5" cy="96.7" r="2.7" fill="#4b08b3"/>
<circle cx="1137.9" cy="95.8" r="2.7" fill="#8f15a5"/>
<circle cx="1160.9" cy="94.6" r="2.7" fill="#6a0cb3"/>
<circle cx="1228.9" cy="96.3" r="2.7" fill="#730eb2"/>
<circle cx="1204.7" cy="95.5" r="2.7" fill="#8311ae"/>
<circle cx="1214.2" cy="94.5" r="2.7" fill="#670cb3"/>
<circle cx="1170.4" cy="99.1" r="2.7" fill="#b1208b"/>
<circle cx="1168.1" cy="100.7" r="2.7" fill="#d73057"/>
<circle cx="1177.7" cy="93.1" r="2.7" fill="#9015a4"/>
<circle cx="1177.9" cy="98.0" r="2.7" fill="#5409b4"/>
<circle cx="1208.0" cy="97.0" r="2.7" fill="#690cb3"/>
<circle cx="1170.0" cy="94.3" r="2.7" fill="#8f15a4"/>
<circle cx="1162.9" cy="97.8" r="2.7" fill="#8411ad"/>
<circle cx="1175.9" cy="90.9" r="2.7" fill="#610bb4"/>
<circle cx="1185.5" cy="95.5" r="2.7" fill="#730eb2"/>
<circle cx="1126.5" cy="95.8" r="2.7" fill="#6a0cb3"/>
<circle cx="1179.5" cy="94.4" r="2.7" fill="#8b14a7"/>
<circle cx="1176.0" cy="95.5" r="2.7" fill="#8512ac"/>
<circle cx="1172.2" cy="101.2" r="2.7" fill="#670cb3"/>
<circle cx="1177.6" cy="90.6" r="2.7" fill="#9015a4"/>
<circle cx="1172.2" cy="98.9" r="2.7" fill="#9c199b"/>
<circle cx="1219.4" cy="96.7" r="2.7" fill="#5c0ab5"/>
<circle cx="1196.7" cy="97.2" r="2.7" fill="#5409b4"/>
<circle cx="1183.6" cy="97.8" r="2.7" fill="#6f0db2"/>
<circle cx="1139.8" cy="95.5" r="2.7" fill="#750eb1"/>
<circle cx="1166.4" cy="96.7" r="2.7" fill="#af1f8c"/>
<circle cx="1170.4" cy="89.5" r="2.7" fill="#9d199a"/>
<circle cx="1189.1" cy="95.5" r="2.7" fill="#760eb1"/>
<circle cx="1219.5" cy="94.3" r="2.7" fill="#4e08b3"/>
<circle cx="1202.5" cy="96.7" r="2.7" fill="#4107b1"/>
<circle cx="1185.5" cy="93.2" r="2.7" fill="#8311ae"/>
<circle cx="1179.7" cy="99.0" r="2.7" fill="#4508b2"/>
<circle cx="1118.9" cy="95.8" r="2.7" fill="#a21b96"/>
<circle cx="1147.1" cy="96.0" r="2.7" fill="#5309b4"/>
<circle cx="1204.7" cy="97.1" r="2.7" fill="#8211af"/>
<circle cx="1179.6" cy="92.1" r="2.7" fill="#5809b5"/>
<circle cx="1194.7" cy="95.5" r="2.7" fill="#5609b5"/>
<circle cx="1178.1" cy="95.5" r="2.7" fill="#5109b4"/>
<circle cx="1176.2" cy="97.8" r="2.7" fill="#8512ac"/>
<circle cx="1179.6" cy="96.7" r="2.7" fill="#8913a9"/>
<circle cx="1195.1" cy="97.2" r="2.7" fill="#5e0ab4"/>
<circle cx="1191.3" cy="97.1" r="2.7" fill="#8311ad"/>
<circle cx="1217.9" cy="96.6" r="2.7" fill="#3e07b1"/>
<circle cx="1217.8" cy="94.5" r="2.7" fill="#3a07b0"/>
<circle cx="1181.4" cy="95.5" r="2.7" fill="#9015a4"/>
<circle cx="1227.4" cy="94.6" r="2.7" fill="#3f07b1"/>
<circle cx="1208.3" cy="95.5" r="2.7" fill="#740eb1"/>
<circle cx="1166.3" cy="94.3" r="2.7" fill="#bb247e"/>
<circle cx="1166.6" cy="99.1" r="2.7" fill="#9c199b"/>
<circle cx="1216.0" cy="94.3" r="2.7" fill="#4e08b3"/>
<circle cx="1191.1" cy="95.5" r="2.7" fill="#710db2"/>
<circle cx="1149.4" cy="96.0" r="2.7" fill="#5008b4"/>
<circle cx="1206.1" cy="94.2" r="2.7" fill="#7e10b0"/>
<circle cx="1183.6" cy="93.3" r="2.7" fill="#4308b2"/>
<circle cx="1223.2" cy="96.6" r="2.7" fill="#3806b0"/>
<circle cx="1168.3" cy="94.5" r="2.7" fill="#ba237f"/>
<circle cx="1225.4" cy="94.6" r="2.7" fill="#5a09b5"/>
<circle cx="1164.5" cy="97.9" r="2.7" fill="#96179f"/>
<circle cx="1173.9" cy="99.0" r="2.7" fill="#6a0cb3"/>
<circle cx="1234.6" cy="96.1" r="2.7" fill="#4b08b3"/>
<circle cx="1170.0" cy="96.7" r="2.7" fill="#c02677"/>
<circle cx="1238.6" cy="95.8" r="2.7" fill="#5f0ab4"/>
<circle cx="1168.1" cy="96.6" r="2.7" fill="#cd2c65"/>
<circle cx="1195.0" cy="93.9" r="2.7" fill="#8612ac"/>
<circle cx="1166.6" cy="92.0" r="2.7" fill="#c6296f"/>
<circle cx="1134.1" cy="95.3" r="2.7" fill="#6d0db2"/>
<circle cx="1200.5" cy="95.5" r="2.7" fill="#5509b5"/>
<circle cx="1164.4" cy="93.1" r="2.7" fill="#ca2b69"/>
<circle cx="1172.0" cy="89.9" r="2.7" fill="#8712ab"/>
<circle cx="1204.3" cy="94.0" r="2.7" fill="#5509b5"/>
<circle cx="1172.1" cy="92.1" r="2.7" fill="#720eb2"/>
<circle cx="1227.1" cy="96.4" r="2.7" fill="#5609b5"/>
<circle cx="1162.8" cy="90.9" r="2.7" fill="#b42187"/>
<circle cx="1192.9" cy="93.7" r="2.7" fill="#3e07b1"/>
<circle cx="1176.0" cy="100.2" r="2.7" fill="#670cb3"/>
<circle cx="1176.1" cy="93.2" r="2.7" fill="#8d14a6"/>
<circle cx="1193.2" cy="95.5" r="2.7" fill="#8311ad"/>
<circle cx="1174.0" cy="89.7" r="2.7" fill="#8211af"/>
<circle cx="1208.0" cy="94.1" r="2.7" fill="#670cb3"/>
<circle cx="1221.4" cy="94.4" r="2.7" fill="#790fb1"/>
<circle cx="1215.9" cy="96.8" r="2.7" fill="#4b08b3"/>
<circle cx="1200.7" cy="93.9" r="2.7" fill="#690cb3"/>
<circle cx="1147.4" cy="95.1" r="2.7" fill="#5809b5"/>
<circle cx="1168.4" cy="92.4" r="2.7" fill="#d83155"/>
<circle cx="1152.8" cy="94.9" r="2.7" fill="#5609b5"/>
<circle cx="1181.8" cy="93.0" r="2.7" fill="#640bb3"/>
<circle cx="1170.2" cy="101.6" r="2.7" fill="#a91d91"/>
<circle cx="1187.2" cy="97.5" r="2.7" fill="#760eb1"/>
<circle cx="1162.5" cy="93.2" r="2.7" fill="#9b199b"/>
<circle cx="1130.3" cy="95.3" r="2.7" fill="#98189d"/>
<circle cx="1166.4" cy="89.6" r="2.7" fill="#d12e5f"/>
<circle cx="1210.4" cy="96.6" r="2.7" fill="#6f0db2"/>
<circle cx="1210.3" cy="94.4" r="2.7" fill="#5409b4"/>
<circle cx="1160.9" cy="96.5" r="2.7" fill="#9517a0"/>
<circle cx="1183.3" cy="95.5" r="2.7" fill="#8411ad"/>
<circle cx="1145.7" cy="96.0" r="2.7" fill="#670cb3"/>
<circle cx="1132.2" cy="95.4" r="2.7" fill="#5c0ab5"/>
<circle cx="1136.0" cy="95.5" r="2.7" fill="#9115a3"/>
<circle cx="1189.4" cy="93.6" r="2.7" fill="#5109b4"/>
<circle cx="1168.6" cy="98.7" r="2.7" fill="#9e1a99"/>
<circle cx="1155.0" cy="96.3" r="2.7" fill="#8812aa"/>
<circle cx="1198.7" cy="94.2" r="2.7" fill="#8712ab"/>
<circle cx="1199.0" cy="96.8" r="2.7" fill="#720eb2"/>
<circle cx="1190.8" cy="93.9" r="2.7" fill="#8110b0"/>
<circle cx="1229.2" cy="94.7" r="2.7" fill="#790fb1"/>
<circle cx="1177.6" cy="100.5" r="2.7" fill="#5008b4"/>
<circle cx="1236.7" cy="95.5" r="2.7" fill="#5409b4"/>
<circle cx="1206.0" cy="96.8" r="2.7" fill="#740eb2"/>
<circle cx="1181.5" cy="98.0" r="2.7" fill="#4508b2"/>
<circle cx="1166.3" cy="101.5" r="2.7" fill="#9f1a98"/>
<circle cx="1124.6" cy="95.6" r="2.7" fill="#8a13a8"/>
<circle cx="1223.4" cy="94.5" r="2.7" fill="#620bb4"/>
<circle cx="1168.5" cy="90.3" r="2.7" fill="#d93154"/>
<circle cx="1211.8" cy="96.9" r="2.7" fill="#6a0cb3"/>
<circle cx="1174.0" cy="96.7" r="2.7" fill="#8f15a5"/>
<circle cx="1250.5" cy="95.5" r="2.7" fill="#4f08b4"/>
<circle cx="1253.5" cy="95.5" r="2.7" fill="#4f08b4"/>
<circle cx="1279.0" cy="95.5" r="2.7" fill="#3605af"/>
<circle cx="1291.5" cy="96.0" r="2.7" fill="#3605af"/>
<circle cx="1295.0" cy="95.0" r="2.7" fill="#3605af"/>
<circle cx="1298.0" cy="95.8" r="2.7" fill="#3605af"/>
<circle cx="1300.5" cy="94.3" r="2.7" fill="#3404af"/>
<circle cx="1300.5" cy="95.5" r="2.7" fill="#3304af"/>
<circle cx="1300.5" cy="96.8" r="2.7" fill="#3103af"/>
<circle cx="1301.9" cy="93.6" r="2.7" fill="#3405af"/>
<circle cx="1301.9" cy="95.5" r="2.7" fill="#3505af"/>
<circle cx="1301.9" cy="97.5" r="2.7" fill="#3505af"/>
<circle cx="1303.3" cy="92.9" r="2.7" fill="#3204af"/>
<circle cx="1303.3" cy="94.6" r="2.7" fill="#3203af"/>
<circle cx="1303.3" cy="96.4" r="2.7" fill="#3304af"/>
<circle cx="1303.3" cy="98.2" r="2.7" fill="#3204af"/>
<circle cx="1304.7" cy="92.2" r="2.7" fill="#3404af"/>
<circle cx="1304.7" cy="94.4" r="2.7" fill="#3304af"/>
<circle cx="1304.7" cy="96.6" r="2.7" fill="#3405af"/>
<circle cx="1304.7" cy="98.9" r="2.7" fill="#3505af"/>
<circle cx="1306.1" cy="91.5" r="2.7" fill="#3304af"/>
<circle cx="1306.1" cy="93.5" r="2.7" fill="#3405af"/>
<circle cx="1306.1" cy="95.5" r="2.7" fill="#3405af"/>
<circle cx="1306.1" cy="97.5" r="2.7" fill="#3204af"/>
<circle cx="1306.1" cy="99.6" r="2.7" fill="#3405af"/>
<circle cx="1307.5" cy="90.8" r="2.7" fill="#3204af"/>
<circle cx="1307.5" cy="92.7" r="2.7" fill="#3404af"/>
<circle cx="1307.5" cy="94.6" r="2.7" fill="#3304af"/>
<circle cx="1307.5" cy="96.5" r="2.7" fill="#3405af"/>
<circle cx="1307.5" cy="98.4" r="2.7" fill="#3505af"/>
<circle cx="1307.5" cy="100.3" r="2.7" fill="#3505af"/>
<circle cx="1308.9" cy="90.1" r="2.7" fill="#3103af"/>
<circle cx="1308.9" cy="92.3" r="2.7" fill="#3103af"/>
<circle cx="1308.9" cy="94.4" r="2.7" fill="#3103af"/>
<circle cx="1308.9" cy="96.6" r="2.7" fill="#3505af"/>
<circle cx="1308.9" cy="98.8" r="2.7" fill="#3405af"/>
<circle cx="1308.9" cy="100.9" r="2.7" fill="#3404af"/>
<circle cx="1310.3" cy="89.5" r="2.7" fill="#3304af"/>
<circle cx="1310.3" cy="91.5" r="2.7" fill="#3204af"/>
<circle cx="1310.3" cy="93.5" r="2.7" fill="#3404af"/>
<circle cx="1310.3" cy="95.5" r="2.7" fill="#3505af"/>
<circle cx="1310.3" cy="97.6" r="2.7" fill="#3505af"/>
<circle cx="1310.3" cy="99.6" r="2.7" fill="#3404af"/>
<circle cx="1310.3" cy="101.6" r="2.7" fill="#3204af"/>
<circle cx="1311.7" cy="88.8" r="2.7" fill="#3505af"/>
<circle cx="1311.7" cy="91.0" r="2.7" fill="#3405af"/>
<circle cx="1311.7" cy="93.3" r="2.7" fill="#3304af"/>
<circle cx="1311.7" cy="95.5" r="2.7" fill="#3204af"/>
<circle cx="1311.7" cy="97.8" r="2.7" fill="#3505af"/>
<circle cx="1311.7" cy="100.0" r="2.7" fill="#3203af"/>
<circle cx="1311.7" cy="102.3" r="2.7" fill="#3505af"/>
<circle cx="1313.1" cy="88.2" r="2.7" fill="#3204af"/>
<circle cx="1313.1" cy="90.3" r="2.7" fill="#3505af"/>
<circle cx="1313.1" cy="92.4" r="2.7" fill="#3304af"/>
<circle cx="1313.1" cy="94.5" r="2.7" fill="#3505af"/>
<circle cx="1313.1" cy="96.6" r="2.7" fill="#3304af"/>
<circle cx="1313.1" cy="98.7" r="2.7" fill="#3204af"/>
<circle cx="1313.1" cy="100.8" r="2.7" fill="#3405af"/>
<circle cx="1313.1" cy="102.9" r="2.7" fill="#3304af"/>
<circle cx="1314.5" cy="87.6" r="2.7" fill="#3204af"/>
<circle cx="1314.5" cy="89.8" r="2.7" fill="#3404af"/>
<circle cx="1314.5" cy="92.1" r="2.7" fill="#3404af"/>
<circle cx="1314.5" cy="94.4" r="2.7" fill="#3505af"/>
<circle cx="1314.5" cy="96.7" r="2.7" fill="#3404af"/>
<circle cx="1314.5" cy="98.9" r="2.7" fill="#3505af"/>
<circle cx="1314.5" cy="101.2" r="2.7" fill="#3405af"/>
<circle cx="1314.5" cy="103.5" r="2.7" fill="#3103af"/>
<circle cx="1315.9" cy="87.0" r="2.7" fill="#3204af"/>
<circle cx="1315.9" cy="89.1" r="2.7" fill="#3505af"/>
<circle cx="1315.9" cy="91.3" r="2.7" fill="#3404af"/>
<circle cx="1315.9" cy="93.4" r="2.7" fill="#3505af"/>
<circle cx="1315.9" cy="95.5" r="2.7" fill="#3204af"/>
<circle cx="1315.9" cy="97.7" r="2.7" fill="#3304af"/>
<circle cx="1315.9" cy="99.8" r="2.7" fill="#3304af"/>
<circle cx="1315.9" cy="101.9" r="2.7" fill="#3405af"/>
<circle cx="1315.9" cy="104.1" r="2.7" fill="#3204af"/>
<circle cx="1317.3" cy="86.4" r="2.7" fill="#3304af"/>
<circle cx="1317.3" cy="88.7" r="2.7" fill="#3405af"/>
<circle cx="1317.3" cy="91.0" r="2.7" fill="#3204af"/>
<circle cx="1317.3" cy="93.2" r="2.7" fill="#3204af"/>
<circle cx="1317.3" cy="95.5" r="2.7" fill="#3204af"/>
<circle cx="1317.3" cy="97.8" r="2.7" fill="#3505af"/>
<circle cx="1317.3" cy="100.1" r="2.7" fill="#3405af"/>
<circle cx="1317.3" cy="102.4" r="2.7" fill="#3505af"/>
<circle cx="1317.3" cy="104.7" r="2.7" fill="#3204af"/>
<circle cx="1318.7" cy="85.9" r="2.7" fill="#3204af"/>
<circle cx="1318.7" cy="88.0" r="2.7" fill="#3505af"/>
<circle cx="1318.7" cy="90.2" r="2.7" fill="#3505af"/>
<circle cx="1318.7" cy="92.3" r="2.7" fill="#3204af"/>
<circle cx="1318.7" cy="94.5" r="2.7" fill="#3505af"/>
<circle cx="1318.7" cy="96.6" r="2.7" fill="#3505af"/>
<circle cx="1318.7" cy="98.8" r="2.7" fill="#3304af"/>
<circle cx="1318.7" cy="100.9" r="2.7" fill="#3405af"/>
<circle cx="1318.7" cy="103.0" r="2.7" fill="#3304af"/>
<circle cx="1318.7" cy="105.2" r="2.7" fill="#3304af"/>
<circle cx="1320.1" cy="85.4" r="2.7" fill="#3304af"/>
<circle cx="1320.1" cy="87.6" r="2.7" fill="#3304af"/>
<circle cx="1320.1" cy="89.9" r="2.7" fill="#3304af"/>
<circle cx="1320.1" cy="92.1" r="2.7" fill="#3505af"/>
<circle cx="1320.1" cy="94.4" r="2.7" fill="#3405af"/>
<circle cx="1320.1" cy="96.7" r="2.7" fill="#3505af"/>
<circle cx="1320.1" cy="98.9" r="2.7" fill="#3204af"/>
<circle cx="1320.1" cy="101.2" r="2.7" fill="#3103af"/>
<circle cx="1320.1" cy="103.4" r="2.7" fill="#3304af"/>
<circle cx="1320.1" cy="105.7" r="2.7" fill="#3405af"/>
<circle cx="1321.5" cy="84.9" r="2.7" fill="#3505af"/>
<circle cx="1321.5" cy="87.0" r="2.7" fill="#3404af"/>
<circle cx="1321.5" cy="89.1" r="2.7" fill="#3103af"/>
<circle cx="1321.5" cy="91.3" r="2.7" fill="#3304af"/>
<circle cx="1321.5" cy="93.4" r="2.7" fill="#3304af"/>
<circle cx="1321.5" cy="95.5" r="2.7" fill="#3304af"/>
<circle cx="1321.5" cy="97.7" r="2.7" fill="#3304af"/>
<circle cx="1321.5" cy="99.8" r="2.7" fill="#3103af"/>
<circle cx="1321.5" cy="101.9" r="2.7" fill="#3304af"/>
<circle cx="1321.5" cy="104.1" r="2.7" fill="#3304af"/>
<circle cx="1321.5" cy="106.2" r="2.7" fill="#3204af"/>
<circle cx="1322.9" cy="84.4" r="2.7" fill="#3505af"/>
<circle cx="1322.9" cy="86.6" r="2.7" fill="#3204af"/>
<circle cx="1322.9" cy="88.9" r="2.7" fill="#3304af"/>
<circle cx="1322.9" cy="91.1" r="2.7" fill="#3204af"/>
<circle cx="1322.9" cy="93.3" r="2.7" fill="#3204af"/>
<circle cx="1322.9" cy="95.5" r="2.7" fill="#3103af"/>
<circle cx="1322.9" cy="97.8" r="2.7" fill="#3505af"/>
<circle cx="1322.9" cy="100.0" r="2.7" fill="#3204af"/>
<circle cx="1322.9" cy="102.2" r="2.7" fill="#3404af"/>
<circle cx="1322.9" cy="104.4" r="2.7" fill="#3304af"/>
<circle cx="1322.9" cy="106.7" r="2.7" fill="#3505af"/>
<circle cx="1324.3" cy="84.0" r="2.7" fill="#3505af"/>
<circle cx="1324.3" cy="86.1" r="2.7" fill="#3204af"/>
<circle cx="1324.3" cy="88.2" r="2.7" fill="#3505af"/>
<circle cx="1324.3" cy="90.3" r="2.7" fill="#3304af"/>
<circle cx="1324.3" cy="92.4" r="2.7" fill="#3505af"/>
<circle cx="1324.3" cy="94.5" r="2.7" fill="#3304af"/>
<circle cx="1324.3" cy="96.6" r="2.7" fill="#3304af"/>
<circle cx="1324.3" cy="98.7" r="2.7" fill="#3103af"/>
<circle cx="1324.3" cy="100.8" r="2.7" fill="#3204af"/>
<circle cx="1324.3" cy="102.9" r="2.7" fill="#3103af"/>
<circle cx="1324.3" cy="105.0" r="2.7" fill="#3204af"/>
<circle cx="1324.3" cy="107.1" r="2.7" fill="#3404af"/>
<circle cx="1325.7" cy="83.6" r="2.7" fill="#3103af"/>
<circle cx="1325.7" cy="85.7" r="2.7" fill="#3204af"/>
<circle cx="1325.7" cy="87.9" r="2.7" fill="#3505af"/>
<circle cx="1325.7" cy="90.1" r="2.7" fill="#3404af"/>
<circle cx="1325.7" cy="92.3" r="2.7" fill="#3404af"/>
<circle cx="1325.7" cy="94.4" r="2.7" fill="#3204af"/>
<circle cx="1325.7" cy="96.6" r="2.7" fill="#3505af"/>
<circle cx="1325.7" cy="98.8" r="2.7" fill="#3204af"/>
<circle cx="1325.7" cy="101.0" r="2.7" fill="#3103af"/>
<circle cx="1325.7" cy="103.1" r="2.7" fill="#3304af"/>
<circle cx="1325.7" cy="105.3" r="2.7" fill="#3404af"/>
<circle cx="1325.7" cy="107.5" r="2.7" fill="#3404af"/>
<circle cx="1327.1" cy="83.2" r="2.7" fill="#3203af"/>
<circle cx="1327.1" cy="85.5" r="2.7" fill="#3505af"/>
<circle cx="1327.1" cy="87.7" r="2.7" fill="#3304af"/>
<circle cx="1327.1" cy="89.9" r="2.7" fill="#3505af"/>
<circle cx="1327.1" cy="92.2" r="2.7" fill="#3304af"/>
<circle cx="1327.1" cy="94.4" r="2.7" fill="#3103af"/>
<circle cx="1327.1" cy="96.6" r="2.7" fill="#3103af"/>
<circle cx="1327.1" cy="98.9" r="2.7" fill="#3304af"/>
<circle cx="1327.1" cy="101.1" r="2.7" fill="#3405af"/>
<circle cx="1327.1" cy="103.4" r="2.7" fill="#3304af"/>
<circle cx="1327.1" cy="105.6" r="2.7" fill="#3505af"/>
<circle cx="1327.1" cy="107.8" r="2.7" fill="#3505af"/>
<circle cx="1328.5" cy="83.3" r="2.7" fill="#3505af"/>
<circle cx="1328.5" cy="85.5" r="2.7" fill="#3404af"/>
<circle cx="1328.5" cy="87.7" r="2.7" fill="#3505af"/>
<circle cx="1328.5" cy="90.0" r="2.7" fill="#3405af"/>
<circle cx="1328.5" cy="92.2" r="2.7" fill="#3103af"/>
<circle cx="1328.5" cy="94.4" r="2.7" fill="#3204af"/>
<circle cx="1328.5" cy="96.6" r="2.7" fill="#3204af"/>
<circle cx="1328.5" cy="98.9" r="2.7" fill="#3103af"/>
<circle cx="1328.5" cy="101.1" r="2.7" fill="#3505af"/>
<circle cx="1328.5" cy="103.3" r="2.7" fill="#3304af"/>
<circle cx="1328.5" cy="105.6" r="2.7" fill="#3204af"/>
<circle cx="1328.5" cy="107.8" r="2.7" fill="#3505af"/>
<circle cx="1329.9" cy="83.4" r="2.7" fill="#3304af"/>
<circle cx="1329.9" cy="85.6" r="2.7" fill="#3204af"/>
<circle cx="1329.9" cy="87.8" r="2.7" fill="#3405af"/>
<circle cx="1329.9" cy="90.0" r="2.7" fill="#3204af"/>
<circle cx="1329.9" cy="92.2" r="2.7" fill="#3505af"/>
<circle cx="1329.9" cy="94.4" r="2.7" fill="#3505af"/>
<circle cx="1329.9" cy="96.6" r="2.7" fill="#3103af"/>
<circle cx="1329.9" cy="98.8" r="2.7" fill="#3304af"/>
<circle cx="1329.9" cy="101.0" r="2.7" fill="#3103af"/>
<circle cx="1329.9" cy="103.2" r="2.7" fill="#3505af"/>
<circle cx="1329.9" cy="105.5" r="2.7" fill="#3204af"/>
<circle cx="1329.9" cy="107.7" r="2.7" fill="#3304af"/>
<circle cx="1331.3" cy="83.6" r="2.7" fill="#3405af"/>
<circle cx="1331.3" cy="85.8" r="2.7" fill="#3405af"/>
<circle cx="1331.3" cy="87.9" r="2.7" fill="#3304af"/>
<circle cx="1331.3" cy="90.1" r="2.7" fill="#3103af"/>
<circle cx="1331.3" cy="92.3" r="2.7" fill="#3204af"/>
<circle cx="1331.3" cy="94.4" r="2.7" fill="#3103af"/>
<circle cx="1331.3" cy="96.6" r="2.7" fill="#3204af"/>
<circle cx="1331.3" cy="98.8" r="2.7" fill="#3405af"/>
<circle cx="1331.3" cy="100.9" r="2.7" fill="#3404af"/>
<circle cx="1331.3" cy="103.1" r="2.7" fill="#3304af"/>
<circle cx="1331.3" cy="105.3" r="2.7" fill="#3404af"/>
<circle cx="1331.3" cy="107.4" r="2.7" fill="#3304af"/>
<circle cx="1332.7" cy="83.9" r="2.7" fill="#3304af"/>
<circle cx="1332.7" cy="86.0" r="2.7" fill="#3304af"/>
<circle cx="1332.7" cy="88.1" r="2.7" fill="#3304af"/>
<circle cx="1332.7" cy="90.2" r="2.7" fill="#3304af"/>
<circle cx="1332.7" cy="92.4" r="2.7" fill="#3304af"/>
<circle cx="1332.7" cy="94.5" r="2.7" fill="#3505af"/>
<circle cx="1332.7" cy="96.6" r="2.7" fill="#3505af"/>
<circle cx="1332.7" cy="98.7" r="2.7" fill="#3505af"/>
<circle cx="1332.7" cy="100.8" r="2.7" fill="#3304af"/>
<circle cx="1332.7" cy="102.9" r="2.7" fill="#3505af"/>
<circle cx="1332.7" cy="105.0" r="2.7" fill="#3505af"/>
<circle cx="1332.7" cy="107.2" r="2.7" fill="#3204af"/>
<circle cx="1334.1" cy="84.3" r="2.7" fill="#3505af"/>
<circle cx="1334.1" cy="86.5" r="2.7" fill="#3103af"/>
<circle cx="1334.1" cy="88.8" r="2.7" fill="#3404af"/>
<circle cx="1334.1" cy="91.0" r="2.7" fill="#3304af"/>
<circle cx="1334.1" cy="93.3" r="2.7" fill="#3405af"/>
<circle cx="1334.1" cy="95.5" r="2.7" fill="#3505af"/>
<circle cx="1334.1" cy="97.8" r="2.7" fill="#3505af"/>
<circle cx="1334.1" cy="100.0" r="2.7" fill="#3505af"/>
<circle cx="1334.1" cy="102.3" r="2.7" fill="#3304af"/>
<circle cx="1334.1" cy="104.5" r="2.7" fill="#3103af"/>
<circle cx="1334.1" cy="106.8" r="2.7" fill="#3103af"/>
<circle cx="1335.5" cy="84.7" r="2.7" fill="#3505af"/>
<circle cx="1335.5" cy="86.9" r="2.7" fill="#3204af"/>
<circle cx="1335.5" cy="89.0" r="2.7" fill="#3204af"/>
<circle cx="1335.5" cy="91.2" r="2.7" fill="#3203af"/>
<circle cx="1335.5" cy="93.4" r="2.7" fill="#3304af"/>
<circle cx="1335.5" cy="95.5" r="2.7" fill="#3204af"/>
<circle cx="1335.5" cy="97.7" r="2.7" fill="#3405af"/>
<circle cx="1335.5" cy="99.9" r="2.7" fill="#3204af"/>
<circle cx="1335.5" cy="102.0" r="2.7" fill="#3304af"/>
<circle cx="1335.5" cy="104.2" r="2.7" fill="#3505af"/>
<circle cx="1335.5" cy="106.4" r="2.7" fill="#3304af"/>
<circle cx="1336.9" cy="85.2" r="2.7" fill="#3204af"/>
<circle cx="1336.9" cy="87.5" r="2.7" fill="#3304af"/>
<circle cx="1336.9" cy="89.8" r="2.7" fill="#3204af"/>
<circle cx="1336.9" cy="92.1" r="2.7" fill="#3103af"/>
<circle cx="1336.9" cy="94.4" r="2.7" fill="#3404af"/>
<circle cx="1336.9" cy="96.7" r="2.7" fill="#3204af"/>
<circle cx="1336.9" cy="99.0" r="2.7" fill="#3505af"/>
<circle cx="1336.9" cy="101.3" r="2.7" fill="#3204af"/>
<circle cx="1336.9" cy="103.5" r="2.7" fill="#3103af"/>
<circle cx="1336.9" cy="105.8" r="2.7" fill="#3304af"/>
<circle cx="1338.3" cy="85.8" r="2.7" fill="#3304af"/>
<circle cx="1338.3" cy="88.0" r="2.7" fill="#3204af"/>
<circle cx="1338.3" cy="90.1" r="2.7" fill="#3304af"/>
<circle cx="1338.3" cy="92.3" r="2.7" fill="#3404af"/>
<circle cx="1338.3" cy="94.5" r="2.7" fill="#3505af"/>
<circle cx="1338.3" cy="96.6" r="2.7" fill="#3505af"/>
<circle cx="1338.3" cy="98.8" r="2.7" fill="#3404af"/>
<circle cx="1338.3" cy="100.9" r="2.7" fill="#3505af"/>
<circle cx="1338.3" cy="103.1" r="2.7" fill="#3203af"/>
<circle cx="1338.3" cy="105.2" r="2.7" fill="#3405af"/>
<circle cx="1339.7" cy="86.5" r="2.7" fill="#3505af"/>
<circle cx="1339.7" cy="88.7" r="2.7" fill="#3304af"/>
<circle cx="1339.7" cy="91.0" r="2.7" fill="#3204af"/>
<circle cx="1339.7" cy="93.3" r="2.7" fill="#3204af"/>
<circle cx="1339.7" cy="95.5" r="2.7" fill="#3204af"/>
<circle cx="1339.7" cy="97.8" r="2.7" fill="#3304af"/>
<circle cx="1339.7" cy="100.1" r="2.7" fill="#3304af"/>
<circle cx="1339.7" cy="102.3" r="2.7" fill="#3204af"/>
<circle cx="1339.7" cy="104.6" r="2.7" fill="#3505af"/>
<circle cx="1341.1" cy="87.2" r="2.7" fill="#3505af"/>
<circle cx="1341.1" cy="89.3" r="2.7" fill="#3204af"/>
<circle cx="1341.1" cy="91.4" r="2.7" fill="#3404af"/>
<circle cx="1341.1" cy="93.5" r="2.7" fill="#3304af"/>
<circle cx="1341.1" cy="95.5" r="2.7" fill="#3304af"/>
<circle cx="1341.1" cy="97.6" r="2.7" fill="#3304af"/>
<circle cx="1341.1" cy="99.7" r="2.7" fill="#3304af"/>
<circle cx="1341.1" cy="101.8" r="2.7" fill="#3505af"/>
<circle cx="1341.1" cy="103.8" r="2.7" fill="#3505af"/>
<circle cx="1342.5" cy="88.0" r="2.7" fill="#3204af"/>
<circle cx="1342.5" cy="90.2" r="2.7" fill="#3304af"/>
<circle cx="1342.5" cy="92.3" r="2.7" fill="#3103af"/>
<circle cx="1342.5" cy="94.5" r="2.7" fill="#3304af"/>
<circle cx="1342.5" cy="96.6" r="2.7" fill="#3204af"/>
<circle cx="1342.5" cy="98.7" r="2.7" fill="#3204af"/>
<circle cx="1342.5" cy="100.9" r="2.7" fill="#3505af"/>
<circle cx="1342.5" cy="103.0" r="2.7" fill="#3304af"/>
<circle cx="1343.9" cy="88.9" r="2.7" fill="#3204af"/>
<circle cx="1343.9" cy="91.1" r="2.7" fill="#3204af"/>
<circle cx="1343.9" cy="93.3" r="2.7" fill="#3404af"/>
<circle cx="1343.9" cy="95.5" r="2.7" fill="#3505af"/>
<circle cx="1343.9" cy="97.7" r="2.7" fill="#3505af"/>
<circle cx="1343.9" cy="100.0" r="2.7" fill="#3405af"/>
<circle cx="1343.9" cy="102.2" r="2.7" fill="#3405af"/>
<circle cx="1345.3" cy="89.8" r="2.7" fill="#3204af"/>
<circle cx="1345.3" cy="92.1" r="2.7" fill="#3204af"/>
<circle cx="1345.3" cy="94.4" r="2.7" fill="#3405af"/>
<circle cx="1345.3" cy="96.7" r="2.7" fill="#3404af"/>
<circle cx="1345.3" cy="98.9" r="2.7" fill="#3204af"/>
<circle cx="1345.3" cy="101.2" r="2.7" fill="#3204af"/>
<circle cx="1346.7" cy="90.8" r="2.7" fill="#3103af"/>
<circle cx="1346.7" cy="92.7" r="2.7" fill="#3405af"/>
<circle cx="1346.7" cy="94.6" r="2.7" fill="#3304af"/>
<circle cx="1346.7" cy="96.5" r="2.7" fill="#3505af"/>
<circle cx="1346.7" cy="98.3" r="2.7" fill="#3505af"/>
<circle cx="1346.7" cy="100.2" r="2.7" fill="#3304af"/>
<circle cx="1348.1" cy="91.9" r="2.7" fill="#3304af"/>
<circle cx="1348.1" cy="93.7" r="2.7" fill="#3204af"/>
<circle cx="1348.1" cy="95.5" r="2.7" fill="#3404af"/>
<circle cx="1348.1" cy="97.3" r="2.7" fill="#3505af"/>
<circle cx="1348.1" cy="99.1" r="2.7" fill="#3103af"/>
<circle cx="1349.5" cy="93.1" r="2.7" fill="#3304af"/>
<circle cx="1349.5" cy="94.7" r="2.7" fill="#3405af"/>
<circle cx="1349.5" cy="96.4" r="2.7" fill="#3203af"/>
<circle cx="1349.5" cy="98.0" r="2.7" fill="#3404af"/>
<circle cx="1350.9" cy="94.3" r="2.7" fill="#3204af"/>
<circle cx="1350.9" cy="95.5" r="2.7" fill="#3404af"/>
<circle cx="1350.9" cy="96.8" r="2.7" fill="#3505af"/>
<circle cx="1192.2" cy="127.6" r="2.7" fill="#3a07b0"/>
<circle cx="1249.8" cy="130.0" r="2.7" fill="#3103af"/>
<circle cx="1229.6" cy="128.6" r="2.7" fill="#3405af"/>
<circle cx="1266.8" cy="126.5" r="2.7" fill="#3d07b1"/>
<circle cx="1297.2" cy="129.9" r="2.7" fill="#3e07b1"/>
<circle cx="1234.2" cy="125.2" r="2.7" fill="#3003ae"/>
<circle cx="1207.2" cy="127.8" r="2.7" fill="#4007b1"/>
<circle cx="1235.8" cy="133.5" r="2.7" fill="#2f02ae"/>
<circle cx="1236.2" cy="121.6" r="2.7" fill="#3605af"/>
<circle cx="1301.0" cy="129.7" r="2.7" fill="#3907b0"/>
<circle cx="1212.3" cy="127.3" r="2.7" fill="#4007b1"/>
<circle cx="1261.5" cy="129.0" r="2.7" fill="#3c07b0"/>
<circle cx="1246.2" cy="127.6" r="2.7" fill="#3304af"/>
<circle cx="1210.6" cy="127.5" r="2.7" fill="#3c07b0"/>
<circle cx="1239.7" cy="116.5" r="2.7" fill="#2e02ae"/>
<circle cx="1241.4" cy="120.9" r="2.7" fill="#3103af"/>
<circle cx="1237.8" cy="122.6" r="2.7" fill="#3605af"/>
<circle cx="1264.9" cy="127.6" r="2.7" fill="#3505af"/>
<circle cx="1244.4" cy="130.4" r="2.7" fill="#3605af"/>
<circle cx="1239.3" cy="126.3" r="2.7" fill="#3706af"/>
<circle cx="1285.1" cy="128.3" r="2.7" fill="#a21b96"/>
<circle cx="1297.4" cy="125.2" r="2.7" fill="#3d07b1"/>
<circle cx="1297.4" cy="127.6" r="2.7" fill="#3907b0"/>
<circle cx="1271.8" cy="128.7" r="2.7" fill="#4608b2"/>
<circle cx="1241.5" cy="127.6" r="2.7" fill="#3204af"/>
<circle cx="1229.4" cy="126.5" r="2.7" fill="#3405af"/>
<circle cx="1298.9" cy="128.5" r="2.7" fill="#3605af"/>
<circle cx="1299.2" cy="130.3" r="2.7" fill="#3907b0"/>
<circle cx="1232.7" cy="127.6" r="2.7" fill="#3304af"/>
<circle cx="1241.4" cy="123.1" r="2.7" fill="#3304af"/>
<circle cx="1198.7" cy="127.6" r="2.7" fill="#4708b2"/>
<circle cx="1268.1" cy="126.3" r="2.7" fill="#3f07b1"/>
<circle cx="1241.1" cy="134.2" r="2.7" fill="#3605af"/>
<circle cx="1238.1" cy="120.1" r="2.7" fill="#3204af"/>
<circle cx="1243.2" cy="123.3" r="2.7" fill="#3003ae"/>
<circle cx="1278.6" cy="126.7" r="2.7" fill="#5509b4"/>
<circle cx="1275.2" cy="128.5" r="2.7" fill="#3a07b0"/>
<circle cx="1254.9" cy="127.6" r="2.7" fill="#3505af"/>
<circle cx="1298.8" cy="126.7" r="2.7" fill="#3706b0"/>
<circle cx="1242.9" cy="131.8" r="2.7" fill="#2f02ae"/>
<circle cx="1239.4" cy="131.3" r="2.7" fill="#3605af"/>
<circle cx="1237.8" cy="137.5" r="2.7" fill="#3103af"/>
<circle cx="1241.0" cy="136.4" r="2.7" fill="#3605af"/>
<circle cx="1300.6" cy="127.6" r="2.7" fill="#3d07b0"/>
<circle cx="1247.7" cy="124.8" r="2.7" fill="#3605af"/>
<circle cx="1219.1" cy="127.7" r="2.7" fill="#3e07b1"/>
<circle cx="1227.7" cy="128.6" r="2.7" fill="#3e07b1"/>
<circle cx="1273.7" cy="126.5" r="2.7" fill="#4107b1"/>
<circle cx="1270.0" cy="126.4" r="2.7" fill="#3806b0"/>
<circle cx="1220.9" cy="127.1" r="2.7" fill="#4007b1"/>
<circle cx="1239.4" cy="118.9" r="2.7" fill="#3003ae"/>
<circle cx="1263.3" cy="128.8" r="2.7" fill="#3b07b0"/>
<circle cx="1232.6" cy="125.1" r="2.7" fill="#3304af"/>
<circle cx="1203.8" cy="127.4" r="2.7" fill="#4808b2"/>
<circle cx="1236.0" cy="135.9" r="2.7" fill="#3003ae"/>
<circle cx="1247.9" cy="128.5" r="2.7" fill="#3404af"/>
<circle cx="1224.4" cy="126.9" r="2.7" fill="#3806b0"/>
<circle cx="1258.2" cy="126.0" r="2.7" fill="#3505af"/>
<circle cx="1253.1" cy="127.6" r="2.7" fill="#3806b0"/>
<circle cx="1280.4" cy="126.8" r="2.7" fill="#8712aa"/>
<circle cx="1226.0" cy="128.3" r="2.7" fill="#3b07b0"/>
<circle cx="1215.7" cy="127.4" r="2.7" fill="#4208b1"/>
<circle cx="1256.6" cy="127.6" r="2.7" fill="#3907b0"/>
<circle cx="1298.7" cy="124.9" r="2.7" fill="#4107b1"/>
<circle cx="1222.3" cy="127.0" r="2.7" fill="#3a07b0"/>
<circle cx="1242.7" cy="129.7" r="2.7" fill="#3204af"/>
<circle cx="1271.6" cy="126.4" r="2.7" fill="#4408b2"/>
<circle cx="1234.3" cy="127.6" r="2.7" fill="#3003ae"/>
<circle cx="1286.8" cy="126.9" r="2.7" fill="#a21b96"/>
<circle cx="1256.3" cy="129.1" r="2.7" fill="#3304af"/>
<circle cx="1280.1" cy="128.3" r="2.7" fill="#8010b0"/>
<circle cx="1235.8" cy="138.3" r="2.7" fill="#3706af"/>
<circle cx="1254.8" cy="125.2" r="2.7" fill="#3103ae"/>
<circle cx="1278.6" cy="128.4" r="2.7" fill="#5b0ab5"/>
<circle cx="1275.0" cy="126.6" r="2.7" fill="#4308b2"/>
<circle cx="1236.4" cy="116.8" r="2.7" fill="#3706af"/>
<circle cx="1244.4" cy="126.6" r="2.7" fill="#3605af"/>
<circle cx="1239.4" cy="123.9" r="2.7" fill="#3605af"/>
<circle cx="1244.5" cy="124.7" r="2.7" fill="#3706af"/>
<circle cx="1238.1" cy="115.1" r="2.7" fill="#3605af"/>
<circle cx="1244.5" cy="128.5" r="2.7" fill="#3404af"/>
<circle cx="1237.9" cy="130.1" r="2.7" fill="#3103ae"/>
<circle cx="1268.4" cy="128.8" r="2.7" fill="#4308b1"/>
<circle cx="1235.8" cy="119.2" r="2.7" fill="#3605af"/>
<circle cx="1234.3" cy="120.3" r="2.7" fill="#3605af"/>
<circle cx="1253.2" cy="129.7" r="2.7" fill="#3405af"/>
<circle cx="1256.4" cy="126.1" r="2.7" fill="#3605af"/>
<circle cx="1249.6" cy="127.6" r="2.7" fill="#3806b0"/>
<circle cx="1251.6" cy="126.7" r="2.7" fill="#3806b0"/>
<circle cx="1236.2" cy="124.0" r="2.7" fill="#3404af"/>
<circle cx="1239.2" cy="136.2" r="2.7" fill="#3304af"/>
<circle cx="1237.6" cy="117.6" r="2.7" fill="#3304af"/>
<circle cx="1241.3" cy="129.8" r="2.7" fill="#2f03ae"/>
<circle cx="1217.4" cy="127.8" r="2.7" fill="#3b07b0"/>
<circle cx="1222.4" cy="128.2" r="2.7" fill="#3e07b1"/>
<circle cx="1258.4" cy="127.6" r="2.7" fill="#3a07b0"/>
<circle cx="1231.2" cy="129.0" r="2.7" fill="#3706af"/>
<circle cx="1235.8" cy="131.1" r="2.7" fill="#3003ae"/>
<circle cx="1234.5" cy="122.7" r="2.7" fill="#2e02ae"/>
<circle cx="1230.9" cy="126.1" r="2.7" fill="#3505af"/>
<circle cx="1248.3" cy="126.6" r="2.7" fill="#3204af"/>
<circle cx="1264.8" cy="126.2" r="2.7" fill="#3e07b1"/>
<circle cx="1295.6" cy="127.6" r="2.7" fill="#3806b0"/>
<circle cx="1259.7" cy="126.4" r="2.7" fill="#3505af"/>
<circle cx="1200.4" cy="127.8" r="2.7" fill="#4a08b3"/>
<circle cx="1302.3" cy="129.0" r="2.7" fill="#3907b0"/>
<circle cx="1227.9" cy="126.6" r="2.7" fill="#3605af"/>
<circle cx="1241.0" cy="132.0" r="2.7" fill="#3304af"/>
<circle cx="1249.5" cy="125.2" r="2.7" fill="#3706af"/>
<circle cx="1246.2" cy="125.2" r="2.7" fill="#3203af"/>
<circle cx="1205.5" cy="127.7" r="2.7" fill="#4908b3"/>
<circle cx="1238.0" cy="125.1" r="2.7" fill="#3304af"/>
<circle cx="1251.6" cy="130.1" r="2.7" fill="#3204af"/>
<circle cx="1253.0" cy="125.5" r="2.7" fill="#3605af"/>
<circle cx="1285.6" cy="126.9" r="2.7" fill="#b1208b"/>
<circle cx="1234.7" cy="134.8" r="2.7" fill="#3204af"/>
<circle cx="1258.3" cy="129.1" r="2.7" fill="#3806b0"/>
<circle cx="1300.6" cy="125.4" r="2.7" fill="#4107b1"/>
<circle cx="1220.6" cy="128.1" r="2.7" fill="#4007b1"/>
<circle cx="1269.8" cy="128.7" r="2.7" fill="#3706b0"/>
<circle cx="1246.4" cy="129.9" r="2.7" fill="#3405af"/>
<circle cx="1224.0" cy="128.2" r="2.7" fill="#4408b2"/>
<circle cx="1293.7" cy="126.3" r="2.7" fill="#3c07b0"/>
<circle cx="1259.8" cy="128.7" r="2.7" fill="#3304af"/>
<circle cx="1225.7" cy="126.8" r="2.7" fill="#3906b0"/>
<circle cx="1232.5" cy="130.0" r="2.7" fill="#3605af"/>
<circle cx="1239.6" cy="138.6" r="2.7" fill="#3103af"/>
<circle cx="1243.0" cy="127.6" r="2.7" fill="#3204af"/>
<circle cx="1293.7" cy="128.8" r="2.7" fill="#3605af"/>
<circle cx="1239.3" cy="133.7" r="2.7" fill="#2f02ae"/>
<circle cx="1295.8" cy="129.1" r="2.7" fill="#4308b1"/>
<circle cx="1261.5" cy="126.1" r="2.7" fill="#3404af"/>
<circle cx="1241.3" cy="118.7" r="2.7" fill="#3304af"/>
<circle cx="1302.6" cy="126.1" r="2.7" fill="#3b07b0"/>
<circle cx="1263.6" cy="126.4" r="2.7" fill="#3907b0"/>
<circle cx="1239.5" cy="121.4" r="2.7" fill="#3706af"/>
<circle cx="1237.8" cy="132.6" r="2.7" fill="#3405af"/>
<circle cx="1273.3" cy="128.6" r="2.7" fill="#3c07b0"/>
<circle cx="1266.8" cy="128.6" r="2.7" fill="#3505af"/>
<circle cx="1243.0" cy="125.4" r="2.7" fill="#3404af"/>
<circle cx="1237.6" cy="135.0" r="2.7" fill="#3103af"/>
<circle cx="1251.1" cy="128.4" r="2.7" fill="#3204af"/>
<circle cx="1254.5" cy="129.9" r="2.7" fill="#3103af"/>
<circle cx="1238.0" cy="140.0" r="2.7" fill="#3103ae"/>
<circle cx="1248.2" cy="130.3" r="2.7" fill="#3304af"/>
<circle cx="1251.3" cy="125.0" r="2.7" fill="#3806b0"/>
<circle cx="1235.9" cy="128.8" r="2.7" fill="#2f02ae"/>
<circle cx="1302.3" cy="127.6" r="2.7" fill="#3a07b0"/>
<circle cx="1265.0" cy="128.9" r="2.7" fill="#3505af"/>
<circle cx="1261.7" cy="127.6" r="2.7" fill="#3505af"/>
<circle cx="1295.8" cy="126.1" r="2.7" fill="#3a07b0"/>
<circle cx="1234.5" cy="130.0" r="2.7" fill="#3003ae"/>
<circle cx="1287.0" cy="128.2" r="2.7" fill="#ad1e8e"/>
<circle cx="1241.5" cy="125.4" r="2.7" fill="#3405af"/>
<circle cx="1237.7" cy="127.6" r="2.7" fill="#3505af"/>
<circle cx="1231.2" cy="127.6" r="2.7" fill="#3806b0"/>
<circle cx="1234.4" cy="132.4" r="2.7" fill="#3203af"/>
<circle cx="1239.4" cy="128.8" r="2.7" fill="#3103ae"/>
<circle cx="1236.3" cy="126.4" r="2.7" fill="#2e02ae"/>
<circle cx="1299.0" cy="124.7" r="2.7" fill="#eb3c36"/>
<circle cx="1299.5" cy="130.5" r="2.7" fill="#eb3c36"/>
<circle cx="1307.5" cy="128.1" r="2.7" fill="#fb4c1d"/>
<circle cx="1309.0" cy="127.1" r="2.7" fill="#fc571a"/>
<circle cx="1313.2" cy="127.6" r="2.7" fill="#fd9f29"/>
<circle cx="1319.5" cy="127.6" r="2.7" fill="#4608b2"/>
<circle cx="1322.5" cy="127.3" r="2.7" fill="#4608b2"/>
<circle cx="1329.5" cy="127.6" r="2.7" fill="#4608b2"/>
<circle cx="1344.0" cy="127.6" r="2.7" fill="#4608b2"/>
<circle cx="1353.0" cy="127.6" r="2.7" fill="#a11b97"/>
<circle cx="1392.0" cy="127.6" r="2.7" fill="#a81d92"/>
<circle cx="1404.5" cy="127.6" r="2.7" fill="#a81d92"/>
<circle cx="1408.0" cy="127.6" r="2.7" fill="#af1f8d"/>
<circle cx="1437.0" cy="127.6" r="2.7" fill="#fa441e"/>
<circle cx="1440.0" cy="127.6" r="2.7" fill="#fb4c1d"/>
<circle cx="1241.1" cy="159.6" r="2.7" fill="#fe8b1e"/>
<circle cx="1259.7" cy="169.5" r="2.7" fill="#c12776"/>
<circle cx="1257.6" cy="159.6" r="2.7" fill="#d22f5d"/>
<circle cx="1252.8" cy="149.1" r="2.7" fill="#f54126"/>
<circle cx="1261.2" cy="170.8" r="2.7" fill="#b72284"/>
<circle cx="1256.0" cy="164.4" r="2.7" fill="#e43841"/>
<circle cx="1245.8" cy="152.1" r="2.7" fill="#fe8a1d"/>
<circle cx="1254.3" cy="170.2" r="2.7" fill="#ee3d32"/>
<circle cx="1273.2" cy="158.3" r="2.7" fill="#98189e"/>
<circle cx="1245.7" cy="157.1" r="2.7" fill="#fe8a1d"/>
<circle cx="1211.8" cy="160.2" r="2.7" fill="#ff7d15"/>
<circle cx="1251.1" cy="164.0" r="2.7" fill="#fc5a1a"/>
<circle cx="1249.5" cy="163.3" r="2.7" fill="#fe6d16"/>
<circle cx="1259.8" cy="154.6" r="2.7" fill="#d42f5b"/>
<circle cx="1247.8" cy="157.2" r="2.7" fill="#ff841a"/>
<circle cx="1271.4" cy="156.3" r="2.7" fill="#7e10b0"/>
<circle cx="1261.1" cy="150.9" r="2.7" fill="#b32089"/>
<circle cx="1245.7" cy="162.1" r="2.7" fill="#fe9322"/>
<circle cx="1247.5" cy="166.9" r="2.7" fill="#fe7116"/>
<circle cx="1254.7" cy="163.1" r="2.7" fill="#e93b39"/>
<circle cx="1269.6" cy="159.6" r="2.7" fill="#610bb4"/>
<circle cx="1256.3" cy="147.6" r="2.7" fill="#e6383f"/>
<circle cx="1267.9" cy="156.1" r="2.7" fill="#630bb4"/>
<circle cx="1264.9" cy="165.3" r="2.7" fill="#8b13a8"/>
<circle cx="1253.0" cy="151.4" r="2.7" fill="#f84322"/>
<circle cx="1272.9" cy="160.8" r="2.7" fill="#a11a97"/>
<circle cx="1229.0" cy="159.4" r="2.7" fill="#fc581a"/>
<circle cx="1268.2" cy="167.7" r="2.7" fill="#760eb1"/>
<circle cx="1252.5" cy="167.8" r="2.7" fill="#fa461e"/>
<circle cx="1242.5" cy="165.3" r="2.7" fill="#fe9624"/>
<circle cx="1266.5" cy="159.6" r="2.7" fill="#6c0cb3"/>
<circle cx="1262.9" cy="147.9" r="2.7" fill="#a31b95"/>
<circle cx="1242.8" cy="160.7" r="2.7" fill="#fe8a1d"/>
<circle cx="1261.4" cy="148.4" r="2.7" fill="#aa1e90"/>
<circle cx="1242.5" cy="158.4" r="2.7" fill="#fe871b"/>
<circle cx="1251.3" cy="152.9" r="2.7" fill="#fb4a1d"/>
<circle cx="1259.5" cy="172.0" r="2.7" fill="#c42870"/>
<circle cx="1259.3" cy="149.7" r="2.7" fill="#c82a6c"/>
<circle cx="1246.3" cy="154.6" r="2.7" fill="#ff8218"/>
<circle cx="1270.0" cy="155.2" r="2.7" fill="#6a0cb3"/>
<circle cx="1264.6" cy="158.4" r="2.7" fill="#8512ac"/>
<circle cx="1258.2" cy="150.2" r="2.7" fill="#e03549"/>
<circle cx="1283.6" cy="159.0" r="2.7" fill="#a81d91"/>
<circle cx="1259.5" cy="162.1" r="2.7" fill="#cb2b67"/>
<circle cx="1266.6" cy="169.5" r="2.7" fill="#6b0cb3"/>
<circle cx="1236.0" cy="159.0" r="2.7" fill="#fc5d19"/>
<circle cx="1269.9" cy="153.0" r="2.7" fill="#5509b4"/>
<circle cx="1263.3" cy="166.6" r="2.7" fill="#a61c93"/>
<circle cx="1249.6" cy="160.8" r="2.7" fill="#fc5c1a"/>
<circle cx="1258.1" cy="147.8" r="2.7" fill="#d32f5c"/>
<circle cx="1262.9" cy="168.9" r="2.7" fill="#a81d91"/>
<circle cx="1254.3" cy="165.5" r="2.7" fill="#ef3e2f"/>
<circle cx="1256.4" cy="152.4" r="2.7" fill="#e83a3b"/>
<circle cx="1230.7" cy="159.5" r="2.7" fill="#fc561b"/>
<circle cx="1257.7" cy="169.0" r="2.7" fill="#e43743"/>
<circle cx="1256.3" cy="169.2" r="2.7" fill="#de344b"/>
<circle cx="1237.5" cy="158.4" r="2.7" fill="#fe7016"/>
<circle cx="1261.4" cy="168.3" r="2.7" fill="#b1208b"/>
<circle cx="1257.9" cy="164.3" r="2.7" fill="#d73156"/>
<circle cx="1238.9" cy="158.6" r="2.7" fill="#fe9423"/>
<circle cx="1275.2" cy="158.9" r="2.7" fill="#9517a0"/>
<circle cx="1240.7" cy="161.8" r="2.7" fill="#fe9322"/>
<circle cx="1213.6" cy="160.1" r="2.7" fill="#ff8219"/>
<circle cx="1268.2" cy="163.1" r="2.7" fill="#730eb2"/>
<circle cx="1269.7" cy="166.2" r="2.7" fill="#660cb3"/>
<circle cx="1293.4" cy="160.0" r="2.7" fill="#8d14a6"/>
<circle cx="1241.1" cy="164.0" r="2.7" fill="#fe9a26"/>
<circle cx="1256.3" cy="166.8" r="2.7" fill="#f03e2f"/>
<circle cx="1264.6" cy="153.9" r="2.7" fill="#8712aa"/>
<circle cx="1261.3" cy="153.4" r="2.7" fill="#b92381"/>
<circle cx="1263.2" cy="164.3" r="2.7" fill="#ab1e8f"/>
<circle cx="1266.6" cy="167.0" r="2.7" fill="#750eb1"/>
<circle cx="1276.4" cy="160.3" r="2.7" fill="#af1f8d"/>
<circle cx="1244.3" cy="161.7" r="2.7" fill="#ff851a"/>
<circle cx="1212.1" cy="159.0" r="2.7" fill="#ff7515"/>
<circle cx="1263.1" cy="171.3" r="2.7" fill="#a21b96"/>
<circle cx="1244.2" cy="163.9" r="2.7" fill="#fe8f20"/>
<circle cx="1259.8" cy="159.6" r="2.7" fill="#d12e5f"/>
<circle cx="1257.9" cy="171.3" r="2.7" fill="#e03548"/>
<circle cx="1256.1" cy="159.6" r="2.7" fill="#ec3c34"/>
<circle cx="1259.8" cy="147.2" r="2.7" fill="#d83155"/>
<circle cx="1227.3" cy="159.4" r="2.7" fill="#fd6318"/>
<circle cx="1251.0" cy="150.7" r="2.7" fill="#fb531b"/>
<circle cx="1261.2" cy="160.8" r="2.7" fill="#aa1d90"/>
<circle cx="1265.0" cy="156.1" r="2.7" fill="#8c14a7"/>
<circle cx="1195.0" cy="159.7" r="2.7" fill="#ff8219"/>
<circle cx="1262.9" cy="161.9" r="2.7" fill="#9c199b"/>
<circle cx="1268.0" cy="160.8" r="2.7" fill="#610bb4"/>
<circle cx="1270.0" cy="161.8" r="2.7" fill="#640bb4"/>
<circle cx="1293.4" cy="159.1" r="2.7" fill="#8c14a7"/>
<circle cx="1275.0" cy="160.3" r="2.7" fill="#a71c93"/>
<circle cx="1218.8" cy="159.7" r="2.7" fill="#fd6318"/>
<circle cx="1210.2" cy="160.2" r="2.7" fill="#ff7615"/>
<circle cx="1264.6" cy="169.9" r="2.7" fill="#8311ae"/>
<circle cx="1261.3" cy="163.3" r="2.7" fill="#c42871"/>
<circle cx="1261.2" cy="155.9" r="2.7" fill="#b32089"/>
<circle cx="1254.7" cy="160.8" r="2.7" fill="#eb3b37"/>
<circle cx="1263.1" cy="159.6" r="2.7" fill="#a51c94"/>
<circle cx="1271.4" cy="160.7" r="2.7" fill="#6d0db2"/>
<circle cx="1266.3" cy="152.2" r="2.7" fill="#7d0fb0"/>
<circle cx="1251.2" cy="159.6" r="2.7" fill="#fc541b"/>
<circle cx="1240.7" cy="155.2" r="2.7" fill="#fe881c"/>
<circle cx="1261.0" cy="165.8" r="2.7" fill="#ad1e8e"/>
<circle cx="1268.2" cy="165.4" r="2.7" fill="#610bb4"/>
<circle cx="1223.9" cy="159.5" r="2.7" fill="#fc5a1a"/>
<circle cx="1290.1" cy="160.1" r="2.7" fill="#a81d92"/>
<circle cx="1264.6" cy="151.6" r="2.7" fill="#8010b0"/>
<circle cx="1283.3" cy="160.2" r="2.7" fill="#a81d91"/>
<circle cx="1252.6" cy="153.7" r="2.7" fill="#fa491d"/>
<circle cx="1256.5" cy="154.8" r="2.7" fill="#ee3d31"/>
<circle cx="1239.0" cy="156.5" r="2.7" fill="#fe8b1e"/>
<circle cx="1240.6" cy="157.4" r="2.7" fill="#fe9624"/>
<circle cx="1251.1" cy="161.8" r="2.7" fill="#fc561b"/>
<circle cx="1205.2" cy="159.8" r="2.7" fill="#fe6c17"/>
<circle cx="1244.4" cy="157.4" r="2.7" fill="#fe9624"/>
<circle cx="1263.0" cy="150.2" r="2.7" fill="#ae1f8d"/>
<circle cx="1264.6" cy="149.3" r="2.7" fill="#8d14a6"/>
<circle cx="1254.4" cy="156.0" r="2.7" fill="#eb3c36"/>
<circle cx="1252.5" cy="165.4" r="2.7" fill="#fa451e"/>
<circle cx="1281.8" cy="160.2" r="2.7" fill="#9c199b"/>
<circle cx="1280.1" cy="160.2" r="2.7" fill="#a61c93"/>
<circle cx="1266.2" cy="162.1" r="2.7" fill="#790fb1"/>
<circle cx="1285.1" cy="159.0" r="2.7" fill="#99189d"/>
<circle cx="1263.3" cy="152.6" r="2.7" fill="#9517a0"/>
<circle cx="1245.8" cy="159.6" r="2.7" fill="#fe9021"/>
<circle cx="1253.0" cy="170.1" r="2.7" fill="#fb491d"/>
<circle cx="1271.6" cy="162.8" r="2.7" fill="#750eb1"/>
<circle cx="1244.6" cy="159.6" r="2.7" fill="#fe8d1f"/>
<circle cx="1237.5" cy="160.8" r="2.7" fill="#ff7a14"/>
<circle cx="1268.3" cy="151.4" r="2.7" fill="#630bb4"/>
<circle cx="1259.5" cy="167.0" r="2.7" fill="#d63058"/>
<circle cx="1261.0" cy="158.3" r="2.7" fill="#b92381"/>
<circle cx="1250.9" cy="168.5" r="2.7" fill="#fd6418"/>
<circle cx="1264.5" cy="163.0" r="2.7" fill="#7f10b0"/>
<circle cx="1200.1" cy="159.5" r="2.7" fill="#fe7016"/>
<circle cx="1242.5" cy="163.0" r="2.7" fill="#fe9020"/>
<circle cx="1239.5" cy="162.7" r="2.7" fill="#fe8e1f"/>
<circle cx="1280.0" cy="158.9" r="2.7" fill="#a51c94"/>
<circle cx="1264.5" cy="160.7" r="2.7" fill="#8813aa"/>
<circle cx="1242.8" cy="156.2" r="2.7" fill="#fe9423"/>
<circle cx="1268.2" cy="158.4" r="2.7" fill="#620bb4"/>
<circle cx="1244.0" cy="166.0" r="2.7" fill="#fe9121"/>
<circle cx="1257.9" cy="154.9" r="2.7" fill="#e33744"/>
<circle cx="1214.0" cy="159.1" r="2.7" fill="#fe7515"/>
<circle cx="1254.8" cy="158.4" r="2.7" fill="#f34029"/>
<circle cx="1246.0" cy="167.0" r="2.7" fill="#fe861b"/>
<circle cx="1217.1" cy="159.5" r="2.7" fill="#ff7b14"/>
<circle cx="1295.3" cy="159.6" r="2.7" fill="#8f15a4"/>
<circle cx="1258.1" cy="161.9" r="2.7" fill="#d4305a"/>
<circle cx="1252.7" cy="156.1" r="2.7" fill="#fa481d"/>
<circle cx="1244.4" cy="155.3" r="2.7" fill="#fe9423"/>
<circle cx="1249.6" cy="155.9" r="2.7" fill="#ff7814"/>
<circle cx="1259.3" cy="157.1" r="2.7" fill="#c32872"/>
<circle cx="1196.7" cy="159.7" r="2.7" fill="#ff7814"/>
<circle cx="1252.8" cy="163.1" r="2.7" fill="#fb4b1d"/>
<circle cx="1235.9" cy="160.2" r="2.7" fill="#ff7914"/>
<circle cx="1251.1" cy="157.4" r="2.7" fill="#fb4b1d"/>
<circle cx="1273.1" cy="159.6" r="2.7" fill="#9417a1"/>
<circle cx="1242.4" cy="153.9" r="2.7" fill="#fe9523"/>
<circle cx="1249.7" cy="168.3" r="2.7" fill="#fd6917"/>
<circle cx="1259.4" cy="152.2" r="2.7" fill="#cc2c66"/>
<circle cx="1244.0" cy="153.2" r="2.7" fill="#fe8e20"/>
<circle cx="1263.2" cy="157.3" r="2.7" fill="#a91d91"/>
<circle cx="1247.6" cy="154.7" r="2.7" fill="#ff7b15"/>
<circle cx="1290.3" cy="159.0" r="2.7" fill="#a21b96"/>
<circle cx="1251.0" cy="166.3" r="2.7" fill="#fb4c1c"/>
<circle cx="1250.9" cy="155.1" r="2.7" fill="#fc5e19"/>
<circle cx="1266.4" cy="154.6" r="2.7" fill="#8211ae"/>
<circle cx="1256.3" cy="171.6" r="2.7" fill="#df354a"/>
<circle cx="1252.8" cy="160.8" r="2.7" fill="#f54126"/>
<circle cx="1246.2" cy="164.6" r="2.7" fill="#fe9221"/>
<circle cx="1254.3" cy="153.7" r="2.7" fill="#f84321"/>
<circle cx="1247.7" cy="164.5" r="2.7" fill="#ff7914"/>
<circle cx="1249.3" cy="150.9" r="2.7" fill="#fd6917"/>
<circle cx="1257.8" cy="152.5" r="2.7" fill="#d53059"/>
<circle cx="1249.3" cy="165.8" r="2.7" fill="#fe6c17"/>
<circle cx="1207.2" cy="159.1" r="2.7" fill="#ff7c15"/>
<circle cx="1249.7" cy="158.3" r="2.7" fill="#fe6d16"/>
<circle cx="1300.4" cy="159.8" r="2.7" fill="#8c14a7"/>
<circle cx="1247.9" cy="159.6" r="2.7" fill="#fe7315"/>
<circle cx="1264.7" cy="167.6" r="2.7" fill="#8e14a5"/>
<circle cx="1276.4" cy="158.9" r="2.7" fill="#9e1a99"/>
<circle cx="1270.1" cy="164.0" r="2.7" fill="#5809b5"/>
<circle cx="1256.3" cy="162.0" r="2.7" fill="#ed3d32"/>
<circle cx="1254.2" cy="167.9" r="2.7" fill="#f44028"/>
<circle cx="1263.0" cy="154.9" r="2.7" fill="#a91d91"/>
<circle cx="1247.6" cy="162.0" r="2.7" fill="#ff7b15"/>
<circle cx="1220.5" cy="159.6" r="2.7" fill="#fd6817"/>
<circle cx="1297.0" cy="159.5" r="2.7" fill="#8d14a6"/>
<circle cx="1268.0" cy="153.8" r="2.7" fill="#5d0ab4"/>
<circle cx="1256.0" cy="157.2" r="2.7" fill="#ec3c35"/>
<circle cx="1266.3" cy="157.1" r="2.7" fill="#8211ae"/>
<circle cx="1222.2" cy="159.8" r="2.7" fill="#fc5a1a"/>
<circle cx="1201.8" cy="159.4" r="2.7" fill="#fe7315"/>
<circle cx="1271.4" cy="158.5" r="2.7" fill="#6e0db2"/>
<circle cx="1266.7" cy="164.5" r="2.7" fill="#730eb2"/>
<circle cx="1239.3" cy="160.6" r="2.7" fill="#fe8d1f"/>
<circle cx="1206.9" cy="160.1" r="2.7" fill="#fe7116"/>
<circle cx="1252.8" cy="158.4" r="2.7" fill="#f74223"/>
<circle cx="1285.1" cy="160.2" r="2.7" fill="#ab1e8f"/>
<circle cx="1258.0" cy="166.6" r="2.7" fill="#da3252"/>
<circle cx="1256.4" cy="150.0" r="2.7" fill="#e93b39"/>
<circle cx="1254.7" cy="148.9" r="2.7" fill="#ea3b38"/>
<circle cx="1266.1" cy="149.7" r="2.7" fill="#720db2"/>
<circle cx="1247.7" cy="152.3" r="2.7" fill="#ff7b14"/>
<circle cx="1259.4" cy="164.5" r="2.7" fill="#d53059"/>
<circle cx="1257.9" cy="157.2" r="2.7" fill="#d32f5c"/>
<circle cx="1249.7" cy="153.4" r="2.7" fill="#ff7615"/>
<circle cx="1269.7" cy="157.4" r="2.7" fill="#5609b5"/>
<circle cx="1281.8" cy="159.0" r="2.7" fill="#9e1a99"/>
<circle cx="1254.8" cy="151.3" r="2.7" fill="#f64224"/>
<circle cx="1210.2" cy="159.0" r="2.7" fill="#ff7814"/>
<circle cx="1314.0" cy="159.6" r="2.7" fill="#8010b0"/>
<circle cx="1341.5" cy="159.6" r="2.7" fill="#4f08b4"/>
<circle cx="1199.5" cy="191.6" r="2.7" fill="#8010b0"/>
<circle cx="1203.5" cy="191.6" r="2.7" fill="#8010b0"/>
<circle cx="1211.0" cy="191.6" r="2.7" fill="#8712ab"/>
<circle cx="1255.5" cy="189.4" r="2.7" fill="#d83154"/>
<circle cx="1258.9" cy="191.6" r="2.7" fill="#f2402b"/>
<circle cx="1260.6" cy="187.0" r="2.7" fill="#fc5b1a"/>
<circle cx="1240.3" cy="192.1" r="2.7" fill="#8b14a8"/>
<circle cx="1255.3" cy="193.8" r="2.7" fill="#e13646"/>
<circle cx="1233.3" cy="191.6" r="2.7" fill="#9517a0"/>
<circle cx="1255.3" cy="200.5" r="2.7" fill="#d93154"/>
<circle cx="1260.8" cy="196.3" r="2.7" fill="#f74223"/>
<circle cx="1263.9" cy="190.4" r="2.7" fill="#fc5c1a"/>
<circle cx="1257.3" cy="202.2" r="2.7" fill="#e43842"/>
<circle cx="1252.1" cy="192.6" r="2.7" fill="#bd257b"/>
<circle cx="1259.0" cy="194.1" r="2.7" fill="#f74322"/>
<circle cx="1255.3" cy="196.1" r="2.7" fill="#d93253"/>
<circle cx="1238.4" cy="191.2" r="2.7" fill="#4408b2"/>
<circle cx="1258.9" cy="186.7" r="2.7" fill="#f74223"/>
<circle cx="1253.7" cy="190.5" r="2.7" fill="#c02676"/>
<circle cx="1250.2" cy="190.6" r="2.7" fill="#c42870"/>
<circle cx="1252.0" cy="188.7" r="2.7" fill="#cb2b67"/>
<circle cx="1257.0" cy="188.1" r="2.7" fill="#db3350"/>
<circle cx="1221.4" cy="191.8" r="2.7" fill="#9015a4"/>
<circle cx="1257.0" cy="185.7" r="2.7" fill="#ea3b38"/>
<circle cx="1258.8" cy="179.3" r="2.7" fill="#fa451e"/>
<circle cx="1255.1" cy="191.6" r="2.7" fill="#da3251"/>
<circle cx="1228.2" cy="191.5" r="2.7" fill="#a21b96"/>
<circle cx="1253.5" cy="197.1" r="2.7" fill="#da3252"/>
<circle cx="1255.6" cy="185.0" r="2.7" fill="#d32f5c"/>
<circle cx="1265.6" cy="190.4" r="2.7" fill="#fe7116"/>
<circle cx="1257.3" cy="195.2" r="2.7" fill="#ec3c34"/>
<circle cx="1258.6" cy="201.5" r="2.7" fill="#e7393e"/>
<circle cx="1272.2" cy="192.1" r="2.7" fill="#fe6a17"/>
<circle cx="1260.5" cy="203.2" r="2.7" fill="#fa481d"/>
<circle cx="1274.0" cy="191.2" r="2.7" fill="#fd6418"/>
<circle cx="1262.1" cy="194.0" r="2.7" fill="#fc591a"/>
<circle cx="1231.6" cy="191.5" r="2.7" fill="#8813aa"/>
<circle cx="1277.5" cy="191.3" r="2.7" fill="#fd6817"/>
<circle cx="1267.4" cy="192.8" r="2.7" fill="#fc571b"/>
<circle cx="1282.6" cy="191.5" r="2.7" fill="#fd6418"/>
<circle cx="1263.8" cy="192.8" r="2.7" fill="#fe6e16"/>
<circle cx="1255.4" cy="187.2" r="2.7" fill="#e33743"/>
<circle cx="1274.0" cy="192.1" r="2.7" fill="#fe6d16"/>
<circle cx="1269.0" cy="192.2" r="2.7" fill="#fd6917"/>
<circle cx="1252.0" cy="194.5" r="2.7" fill="#b92381"/>
<circle cx="1260.4" cy="198.6" r="2.7" fill="#f84321"/>
<circle cx="1224.8" cy="191.7" r="2.7" fill="#8e15a5"/>
<circle cx="1260.6" cy="180.0" r="2.7" fill="#fb501c"/>
<circle cx="1265.7" cy="195.2" r="2.7" fill="#fb511c"/>
<circle cx="1262.0" cy="201.1" r="2.7" fill="#fe6a17"/>
<circle cx="1239.8" cy="191.1" r="2.7" fill="#7c0fb0"/>
<circle cx="1253.6" cy="186.2" r="2.7" fill="#cb2b67"/>
<circle cx="1218.0" cy="191.7" r="2.7" fill="#a41c94"/>
<circle cx="1229.9" cy="191.8" r="2.7" fill="#9517a0"/>
<circle cx="1263.6" cy="185.7" r="2.7" fill="#fc5c1a"/>
<circle cx="1272.2" cy="191.1" r="2.7" fill="#fb501c"/>
<circle cx="1261.9" cy="191.6" r="2.7" fill="#fc5c1a"/>
<circle cx="1269.0" cy="191.1" r="2.7" fill="#fe6e16"/>
<circle cx="1262.1" cy="198.8" r="2.7" fill="#fd6618"/>
<circle cx="1265.6" cy="188.0" r="2.7" fill="#fe7415"/>
<circle cx="1262.1" cy="189.2" r="2.7" fill="#fb4f1c"/>
<circle cx="1258.6" cy="196.5" r="2.7" fill="#ea3b38"/>
<circle cx="1280.9" cy="191.7" r="2.7" fill="#fb4a1d"/>
<circle cx="1259.0" cy="203.9" r="2.7" fill="#f2402a"/>
<circle cx="1258.8" cy="184.2" r="2.7" fill="#f94320"/>
<circle cx="1260.5" cy="193.9" r="2.7" fill="#f03f2e"/>
<circle cx="1260.6" cy="184.7" r="2.7" fill="#fa451e"/>
<circle cx="1250.4" cy="192.6" r="2.7" fill="#b2208a"/>
<circle cx="1262.1" cy="184.5" r="2.7" fill="#fd6817"/>
<circle cx="1262.4" cy="186.9" r="2.7" fill="#fd6817"/>
<circle cx="1257.4" cy="183.4" r="2.7" fill="#eb3c36"/>
<circle cx="1255.5" cy="198.3" r="2.7" fill="#e43743"/>
<circle cx="1262.2" cy="196.4" r="2.7" fill="#fc5d19"/>
<circle cx="1270.6" cy="191.1" r="2.7" fill="#fc551b"/>
<circle cx="1270.9" cy="192.1" r="2.7" fill="#fb531b"/>
<circle cx="1260.3" cy="191.6" r="2.7" fill="#f84321"/>
<circle cx="1223.1" cy="191.6" r="2.7" fill="#9517a0"/>
<circle cx="1256.8" cy="197.5" r="2.7" fill="#e83a3b"/>
<circle cx="1260.7" cy="189.3" r="2.7" fill="#fc561b"/>
<circle cx="1275.8" cy="191.4" r="2.7" fill="#fb4b1d"/>
<circle cx="1235.0" cy="191.8" r="2.7" fill="#5809b5"/>
<circle cx="1263.9" cy="188.0" r="2.7" fill="#fd5f19"/>
<circle cx="1260.4" cy="200.9" r="2.7" fill="#fc561b"/>
<circle cx="1253.6" cy="194.9" r="2.7" fill="#c92a6a"/>
<circle cx="1248.6" cy="192.2" r="2.7" fill="#98189d"/>
<circle cx="1257.1" cy="199.9" r="2.7" fill="#e53840"/>
<circle cx="1286.0" cy="191.9" r="2.7" fill="#fb4f1c"/>
<circle cx="1248.8" cy="191.0" r="2.7" fill="#a71c92"/>
<circle cx="1258.7" cy="189.2" r="2.7" fill="#e5383f"/>
<circle cx="1265.3" cy="192.8" r="2.7" fill="#fd6019"/>
<circle cx="1257.1" cy="192.8" r="2.7" fill="#e6393f"/>
<circle cx="1258.5" cy="199.0" r="2.7" fill="#f94320"/>
<circle cx="1253.4" cy="188.4" r="2.7" fill="#c5296f"/>
<circle cx="1279.2" cy="191.5" r="2.7" fill="#fc5c19"/>
<circle cx="1260.5" cy="182.4" r="2.7" fill="#f23f2c"/>
<circle cx="1253.5" cy="192.7" r="2.7" fill="#d63057"/>
<circle cx="1238.6" cy="192.1" r="2.7" fill="#4c08b3"/>
<circle cx="1267.5" cy="190.5" r="2.7" fill="#fb521b"/>
<circle cx="1262.2" cy="182.1" r="2.7" fill="#fa491d"/>
<circle cx="1264.1" cy="197.6" r="2.7" fill="#fd6618"/>
<circle cx="1255.2" cy="182.7" r="2.7" fill="#df354a"/>
<circle cx="1257.4" cy="181.0" r="2.7" fill="#de344b"/>
<circle cx="1263.8" cy="195.2" r="2.7" fill="#fe6b17"/>
<circle cx="1252.2" cy="190.6" r="2.7" fill="#b62285"/>
<circle cx="1258.8" cy="181.8" r="2.7" fill="#f13f2d"/>
<circle cx="1257.3" cy="190.4" r="2.7" fill="#e33743"/>
<circle cx="1226.5" cy="191.6" r="2.7" fill="#8b13a8"/>
<circle cx="1265.0" cy="190.6" r="2.7" fill="#fe9a26"/>
<circle cx="1266.0" cy="192.1" r="2.7" fill="#fe9121"/>
<circle cx="1147.0" cy="223.7" r="2.7" fill="#3204af"/>
<circle cx="1185.7" cy="223.7" r="2.7" fill="#5f0ab4"/>
<circle cx="1199.7" cy="223.7" r="2.7" fill="#790fb1"/>
<circle cx="1257.8" cy="214.2" r="2.7" fill="#fb4c1c"/>
<circle cx="1260.9" cy="227.0" r="2.7" fill="#fa471d"/>
<circle cx="1252.7" cy="222.4" r="2.7" fill="#d02e5f"/>
<circle cx="1262.9" cy="219.9" r="2.7" fill="#fd6717"/>
<circle cx="1221.9" cy="223.5" r="2.7" fill="#760eb1"/>
<circle cx="1252.3" cy="227.3" r="2.7" fill="#e83a3b"/>
<circle cx="1261.0" cy="229.2" r="2.7" fill="#fd6418"/>
<circle cx="1255.7" cy="215.4" r="2.7" fill="#e83a3b"/>
<circle cx="1254.4" cy="221.2" r="2.7" fill="#ea3b39"/>
<circle cx="1257.5" cy="228.4" r="2.7" fill="#fb4e1c"/>
<circle cx="1257.3" cy="216.6" r="2.7" fill="#f84322"/>
<circle cx="1252.6" cy="217.6" r="2.7" fill="#d42f5a"/>
<circle cx="1256.1" cy="227.2" r="2.7" fill="#f44127"/>
<circle cx="1237.0" cy="223.1" r="2.7" fill="#8913a9"/>
<circle cx="1242.4" cy="224.2" r="2.7" fill="#97179f"/>
<circle cx="1257.3" cy="218.9" r="2.7" fill="#ee3e31"/>
<circle cx="1215.1" cy="223.4" r="2.7" fill="#8010b0"/>
<circle cx="1255.8" cy="224.8" r="2.7" fill="#f74223"/>
<circle cx="1257.5" cy="211.9" r="2.7" fill="#fa451e"/>
<circle cx="1230.4" cy="223.8" r="2.7" fill="#7c0fb1"/>
<circle cx="1267.8" cy="223.1" r="2.7" fill="#fd6817"/>
<circle cx="1247.2" cy="224.3" r="2.7" fill="#9d199a"/>
<circle cx="1235.7" cy="224.1" r="2.7" fill="#780fb1"/>
<circle cx="1269.2" cy="223.2" r="2.7" fill="#fc561b"/>
<circle cx="1276.3" cy="223.5" r="2.7" fill="#fc581a"/>
<circle cx="1250.6" cy="219.8" r="2.7" fill="#c02676"/>
<circle cx="1261.2" cy="224.8" r="2.7" fill="#fb4d1c"/>
<circle cx="1211.7" cy="223.4" r="2.7" fill="#730eb2"/>
<circle cx="1210.0" cy="223.9" r="2.7" fill="#8c14a7"/>
<circle cx="1259.3" cy="230.9" r="2.7" fill="#fc5e19"/>
<circle cx="1242.6" cy="223.1" r="2.7" fill="#8110af"/>
<circle cx="1243.9" cy="223.1" r="2.7" fill="#a21b96"/>
<circle cx="1259.2" cy="223.7" r="2.7" fill="#f84321"/>
<circle cx="1247.3" cy="223.0" r="2.7" fill="#a21b96"/>
<circle cx="1259.4" cy="216.4" r="2.7" fill="#f44128"/>
<circle cx="1254.2" cy="223.7" r="2.7" fill="#ef3e2f"/>
<circle cx="1269.3" cy="224.1" r="2.7" fill="#fe6e16"/>
<circle cx="1257.7" cy="235.4" r="2.7" fill="#f74224"/>
<circle cx="1255.9" cy="220.1" r="2.7" fill="#fa441e"/>
<circle cx="1218.5" cy="223.7" r="2.7" fill="#7d10b0"/>
<circle cx="1262.4" cy="222.4" r="2.7" fill="#fd6618"/>
<circle cx="1274.6" cy="223.7" r="2.7" fill="#fb501c"/>
<circle cx="1255.8" cy="213.0" r="2.7" fill="#f84321"/>
<circle cx="1257.5" cy="226.0" r="2.7" fill="#f13f2d"/>
<circle cx="1260.8" cy="215.9" r="2.7" fill="#fd6318"/>
<circle cx="1257.7" cy="223.7" r="2.7" fill="#f74223"/>
<circle cx="1232.1" cy="223.4" r="2.7" fill="#7d0fb0"/>
<circle cx="1213.4" cy="223.4" r="2.7" fill="#8110b0"/>
<circle cx="1257.4" cy="233.1" r="2.7" fill="#f2402a"/>
<circle cx="1235.5" cy="223.2" r="2.7" fill="#7f10b0"/>
<circle cx="1254.2" cy="230.9" r="2.7" fill="#f2402b"/>
<circle cx="1251.0" cy="227.5" r="2.7" fill="#d73156"/>
<circle cx="1252.6" cy="229.7" r="2.7" fill="#e33743"/>
<circle cx="1252.6" cy="220.0" r="2.7" fill="#e5383f"/>
<circle cx="1259.3" cy="233.3" r="2.7" fill="#fc5f19"/>
<circle cx="1259.5" cy="218.8" r="2.7" fill="#f74322"/>
<circle cx="1264.5" cy="222.2" r="2.7" fill="#fc5d19"/>
<circle cx="1266.4" cy="222.8" r="2.7" fill="#fb4f1c"/>
<circle cx="1252.6" cy="224.9" r="2.7" fill="#d93253"/>
<circle cx="1255.8" cy="231.9" r="2.7" fill="#e5383f"/>
<circle cx="1251.1" cy="223.7" r="2.7" fill="#d32f5b"/>
<circle cx="1262.6" cy="227.4" r="2.7" fill="#fd6717"/>
<circle cx="1259.5" cy="228.5" r="2.7" fill="#fa481d"/>
<circle cx="1260.7" cy="220.3" r="2.7" fill="#fb4a1d"/>
<circle cx="1254.0" cy="213.9" r="2.7" fill="#ef3e2f"/>
<circle cx="1237.4" cy="224.2" r="2.7" fill="#8d14a6"/>
<circle cx="1256.0" cy="234.3" r="2.7" fill="#f84321"/>
<circle cx="1257.8" cy="221.3" r="2.7" fill="#f64224"/>
<circle cx="1272.9" cy="223.4" r="2.7" fill="#fc561b"/>
<circle cx="1264.6" cy="225.1" r="2.7" fill="#fd6219"/>
<circle cx="1257.7" cy="230.7" r="2.7" fill="#f3402a"/>
<circle cx="1261.0" cy="231.4" r="2.7" fill="#fb521b"/>
<circle cx="1254.5" cy="216.4" r="2.7" fill="#f13f2c"/>
<circle cx="1250.7" cy="221.7" r="2.7" fill="#d93253"/>
<circle cx="1278.0" cy="223.9" r="2.7" fill="#fc5b1a"/>
<circle cx="1256.2" cy="229.6" r="2.7" fill="#f84322"/>
<circle cx="1254.4" cy="226.1" r="2.7" fill="#f03f2e"/>
<circle cx="1261.3" cy="222.5" r="2.7" fill="#fc551b"/>
<circle cx="1279.7" cy="223.8" r="2.7" fill="#fb4f1c"/>
<circle cx="1262.7" cy="224.9" r="2.7" fill="#fe7315"/>
<circle cx="1249.0" cy="224.7" r="2.7" fill="#a91d91"/>
<circle cx="1264.4" cy="223.7" r="2.7" fill="#fd6817"/>
<circle cx="1254.1" cy="228.5" r="2.7" fill="#f3402a"/>
<circle cx="1271.2" cy="223.4" r="2.7" fill="#fc5f19"/>
<circle cx="1228.7" cy="223.6" r="2.7" fill="#8e14a5"/>
<circle cx="1259.2" cy="221.2" r="2.7" fill="#fc5e19"/>
<circle cx="1250.8" cy="225.6" r="2.7" fill="#ca2b69"/>
<circle cx="1244.0" cy="224.2" r="2.7" fill="#a51c94"/>
<circle cx="1255.9" cy="217.7" r="2.7" fill="#e93b39"/>
<circle cx="1259.5" cy="226.1" r="2.7" fill="#fb501c"/>
<circle cx="1225.3" cy="223.7" r="2.7" fill="#9015a4"/>
<circle cx="1259.5" cy="214.0" r="2.7" fill="#f64225"/>
<circle cx="1260.8" cy="218.1" r="2.7" fill="#fc581a"/>
<circle cx="1249.2" cy="222.6" r="2.7" fill="#aa1d90"/>
<circle cx="1254.0" cy="233.4" r="2.7" fill="#f3402a"/>
<circle cx="1254.3" cy="218.8" r="2.7" fill="#ef3e2f"/>
<circle cx="1266.3" cy="224.5" r="2.7" fill="#fd6717"/>
<circle cx="1256.0" cy="222.5" r="2.7" fill="#f54126"/>
<circle cx="1268.0" cy="224.2" r="2.7" fill="#fd6717"/>
<circle cx="1267.0" cy="223.7" r="2.7" fill="#fe9121"/>
<circle cx="1309.5" cy="223.7" r="2.7" fill="#fc571a"/>
<circle cx="1213.6" cy="255.7" r="2.7" fill="#3404af"/>
<circle cx="1235.6" cy="255.9" r="2.7" fill="#3907b0"/>
<circle cx="1256.1" cy="256.9" r="2.7" fill="#720db2"/>
<circle cx="1257.9" cy="258.0" r="2.7" fill="#97179e"/>
<circle cx="1248.9" cy="258.7" r="2.7" fill="#4007b1"/>
<circle cx="1255.9" cy="259.4" r="2.7" fill="#6a0cb3"/>
<circle cx="1257.6" cy="262.7" r="2.7" fill="#8411ad"/>
<circle cx="1244.1" cy="255.1" r="2.7" fill="#3906b0"/>
<circle cx="1264.3" cy="255.1" r="2.7" fill="#d22e5e"/>
<circle cx="1252.6" cy="266.2" r="2.7" fill="#4a08b3"/>
<circle cx="1256.1" cy="264.4" r="2.7" fill="#6d0db2"/>
<circle cx="1261.1" cy="254.9" r="2.7" fill="#a81d92"/>
<circle cx="1260.9" cy="256.5" r="2.7" fill="#bc247d"/>
<circle cx="1256.0" cy="254.4" r="2.7" fill="#710db2"/>
<circle cx="1252.6" cy="261.5" r="2.7" fill="#5109b4"/>
<circle cx="1238.8" cy="255.2" r="2.7" fill="#3103ae"/>
<circle cx="1252.5" cy="263.9" r="2.7" fill="#5008b4"/>
<circle cx="1256.1" cy="252.0" r="2.7" fill="#780fb1"/>
<circle cx="1250.9" cy="249.3" r="2.7" fill="#3d07b0"/>
<circle cx="1273.0" cy="255.9" r="2.7" fill="#a81d92"/>
<circle cx="1257.9" cy="260.3" r="2.7" fill="#8813aa"/>
<circle cx="1249.4" cy="252.7" r="2.7" fill="#3d07b1"/>
<circle cx="1255.8" cy="261.9" r="2.7" fill="#770eb1"/>
<circle cx="1254.1" cy="261.9" r="2.7" fill="#650bb3"/>
<circle cx="1250.8" cy="257.8" r="2.7" fill="#5109b4"/>
<circle cx="1252.9" cy="254.5" r="2.7" fill="#4908b3"/>
<circle cx="1247.3" cy="255.0" r="2.7" fill="#4808b2"/>
<circle cx="1254.1" cy="249.5" r="2.7" fill="#5209b4"/>
<circle cx="1254.4" cy="259.4" r="2.7" fill="#660bb3"/>
<circle cx="1257.6" cy="251.0" r="2.7" fill="#9416a1"/>
<circle cx="1259.3" cy="251.8" r="2.7" fill="#a51c94"/>
<circle cx="1254.5" cy="254.4" r="2.7" fill="#4e08b3"/>
<circle cx="1251.2" cy="251.4" r="2.7" fill="#5109b4"/>
<circle cx="1257.7" cy="253.4" r="2.7" fill="#7a0fb1"/>
<circle cx="1259.7" cy="253.8" r="2.7" fill="#9517a0"/>
<circle cx="1249.2" cy="254.7" r="2.7" fill="#4d08b3"/>
<circle cx="1252.5" cy="249.8" r="2.7" fill="#4007b1"/>
<circle cx="1240.6" cy="256.2" r="2.7" fill="#3907b0"/>
<circle cx="1252.4" cy="252.2" r="2.7" fill="#4908b2"/>
<circle cx="1254.5" cy="256.9" r="2.7" fill="#670cb3"/>
<circle cx="1242.3" cy="255.1" r="2.7" fill="#4007b1"/>
<circle cx="1254.1" cy="247.0" r="2.7" fill="#610bb4"/>
<circle cx="1276.4" cy="255.8" r="2.7" fill="#a61c93"/>
<circle cx="1259.5" cy="259.5" r="2.7" fill="#9416a1"/>
<circle cx="1223.7" cy="255.5" r="2.7" fill="#3907b0"/>
<circle cx="1255.7" cy="266.9" r="2.7" fill="#760eb1"/>
<circle cx="1241.0" cy="255.2" r="2.7" fill="#3505af"/>
<circle cx="1256.0" cy="249.5" r="2.7" fill="#7b0fb1"/>
<circle cx="1245.5" cy="256.3" r="2.7" fill="#3103ae"/>
<circle cx="1250.9" cy="255.7" r="2.7" fill="#4d08b3"/>
<circle cx="1252.3" cy="259.2" r="2.7" fill="#4808b2"/>
<circle cx="1254.5" cy="244.5" r="2.7" fill="#610bb4"/>
<circle cx="1252.7" cy="256.9" r="2.7" fill="#5709b5"/>
<circle cx="1264.7" cy="256.2" r="2.7" fill="#db3251"/>
<circle cx="1254.5" cy="251.9" r="2.7" fill="#5008b4"/>
<circle cx="1254.5" cy="266.9" r="2.7" fill="#4e08b3"/>
<circle cx="1244.3" cy="256.2" r="2.7" fill="#3405af"/>
<circle cx="1263.1" cy="256.3" r="2.7" fill="#b92381"/>
<circle cx="1262.5" cy="255.1" r="2.7" fill="#d12e5f"/>
<circle cx="1228.8" cy="255.9" r="2.7" fill="#2f03ae"/>
<circle cx="1259.4" cy="257.6" r="2.7" fill="#a91d91"/>
<circle cx="1225.4" cy="255.9" r="2.7" fill="#3304af"/>
<circle cx="1259.3" cy="255.7" r="2.7" fill="#aa1d90"/>
<circle cx="1271.3" cy="255.9" r="2.7" fill="#9f1a98"/>
<circle cx="1250.9" cy="253.6" r="2.7" fill="#3b07b0"/>
<circle cx="1242.5" cy="256.2" r="2.7" fill="#3c07b0"/>
<circle cx="1252.5" cy="247.5" r="2.7" fill="#5a09b5"/>
<circle cx="1232.2" cy="255.5" r="2.7" fill="#3505af"/>
<circle cx="1250.9" cy="259.9" r="2.7" fill="#4a08b3"/>
<circle cx="1256.1" cy="244.5" r="2.7" fill="#730eb2"/>
<circle cx="1222.0" cy="255.6" r="2.7" fill="#3c07b0"/>
<circle cx="1250.7" cy="262.0" r="2.7" fill="#3a07b0"/>
<circle cx="1266.4" cy="256.2" r="2.7" fill="#ce2d62"/>
<circle cx="1238.9" cy="256.1" r="2.7" fill="#3003ae"/>
<circle cx="1254.5" cy="264.4" r="2.7" fill="#5609b5"/>
<circle cx="1257.6" cy="255.7" r="2.7" fill="#8110af"/>
<circle cx="1245.8" cy="255.1" r="2.7" fill="#4208b1"/>
<circle cx="1247.3" cy="256.3" r="2.7" fill="#3a07b0"/>
<circle cx="1266.2" cy="255.2" r="2.7" fill="#c02677"/>
<circle cx="1274.7" cy="255.9" r="2.7" fill="#ad1e8e"/>
<circle cx="1252.8" cy="245.1" r="2.7" fill="#4508b2"/>
<circle cx="1255.7" cy="247.0" r="2.7" fill="#6a0cb3"/>
<circle cx="1249.3" cy="256.7" r="2.7" fill="#4208b1"/>
<circle cx="1257.6" cy="248.7" r="2.7" fill="#9316a1"/>
<circle cx="1237.3" cy="255.5" r="2.7" fill="#3204af"/>
<circle cx="1285.5" cy="255.7" r="2.7" fill="#9416a1"/>
<circle cx="1293.0" cy="255.7" r="2.7" fill="#c32873"/>
<circle cx="1303.0" cy="255.7" r="2.7" fill="#b2208a"/>
<circle cx="1384.7" cy="255.7" r="2.7" fill="#fc5b1a"/>
<circle cx="1216.7" cy="287.7" r="2.7" fill="#4007b1"/>
<circle cx="1255.7" cy="285.4" r="2.7" fill="#9c199a"/>
<circle cx="1265.6" cy="288.2" r="2.7" fill="#dc334f"/>
<circle cx="1253.5" cy="276.3" r="2.7" fill="#8913a9"/>
<circle cx="1277.6" cy="287.9" r="2.7" fill="#a91d91"/>
<circle cx="1255.6" cy="292.4" r="2.7" fill="#8a13a8"/>
<circle cx="1250.1" cy="283.3" r="2.7" fill="#5e0ab4"/>
<circle cx="1252.4" cy="288.9" r="2.7" fill="#7f10b0"/>
<circle cx="1252.3" cy="293.5" r="2.7" fill="#8211ae"/>
<circle cx="1263.9" cy="288.3" r="2.7" fill="#d63057"/>
<circle cx="1267.3" cy="288.2" r="2.7" fill="#dd344d"/>
<circle cx="1253.6" cy="285.4" r="2.7" fill="#8211ae"/>
<circle cx="1257.2" cy="295.1" r="2.7" fill="#ac1e8f"/>
<circle cx="1252.1" cy="291.2" r="2.7" fill="#7e10b0"/>
<circle cx="1259.2" cy="282.6" r="2.7" fill="#bc257c"/>
<circle cx="1268.9" cy="288.2" r="2.7" fill="#ad1f8d"/>
<circle cx="1257.4" cy="277.9" r="2.7" fill="#a91d91"/>
<circle cx="1255.8" cy="290.1" r="2.7" fill="#99189d"/>
<circle cx="1248.9" cy="288.6" r="2.7" fill="#6a0cb3"/>
<circle cx="1255.8" cy="294.7" r="2.7" fill="#8e15a5"/>
<circle cx="1236.8" cy="288.0" r="2.7" fill="#3a07b0"/>
<circle cx="1255.5" cy="287.7" r="2.7" fill="#8913a9"/>
<circle cx="1275.9" cy="288.0" r="2.7" fill="#9416a1"/>
<circle cx="1250.1" cy="285.5" r="2.7" fill="#750eb1"/>
<circle cx="1259.1" cy="290.8" r="2.7" fill="#ca2b69"/>
<circle cx="1258.9" cy="292.8" r="2.7" fill="#b82382"/>
<circle cx="1255.8" cy="299.4" r="2.7" fill="#8812aa"/>
<circle cx="1258.8" cy="286.7" r="2.7" fill="#c42870"/>
<circle cx="1255.5" cy="278.3" r="2.7" fill="#9f1a99"/>
<circle cx="1251.8" cy="284.3" r="2.7" fill="#760eb1"/>
<circle cx="1279.3" cy="287.6" r="2.7" fill="#a91d91"/>
<circle cx="1233.4" cy="287.8" r="2.7" fill="#3806b0"/>
<circle cx="1270.8" cy="287.6" r="2.7" fill="#a31b95"/>
<circle cx="1253.7" cy="280.9" r="2.7" fill="#9216a2"/>
<circle cx="1250.1" cy="292.1" r="2.7" fill="#720eb2"/>
<circle cx="1255.4" cy="297.1" r="2.7" fill="#9015a4"/>
<circle cx="1257.3" cy="297.5" r="2.7" fill="#a51c94"/>
<circle cx="1253.5" cy="299.1" r="2.7" fill="#8d14a6"/>
<circle cx="1257.3" cy="282.8" r="2.7" fill="#98189d"/>
<circle cx="1257.3" cy="290.2" r="2.7" fill="#a61c93"/>
<circle cx="1260.4" cy="289.3" r="2.7" fill="#d22f5d"/>
<circle cx="1252.0" cy="295.7" r="2.7" fill="#8411ad"/>
<circle cx="1252.3" cy="282.0" r="2.7" fill="#8612ac"/>
<circle cx="1259.1" cy="284.7" r="2.7" fill="#b62285"/>
<circle cx="1256.9" cy="292.6" r="2.7" fill="#96179f"/>
<circle cx="1253.7" cy="278.6" r="2.7" fill="#8913a9"/>
<circle cx="1251.9" cy="286.6" r="2.7" fill="#6f0db2"/>
<circle cx="1241.9" cy="287.6" r="2.7" fill="#4208b1"/>
<circle cx="1272.5" cy="287.9" r="2.7" fill="#b82381"/>
<circle cx="1265.9" cy="287.2" r="2.7" fill="#db3251"/>
<circle cx="1267.1" cy="287.2" r="2.7" fill="#c92b69"/>
<circle cx="1253.5" cy="290.0" r="2.7" fill="#9316a1"/>
<circle cx="1253.5" cy="287.7" r="2.7" fill="#7c0fb0"/>
<circle cx="1262.0" cy="288.3" r="2.7" fill="#d32f5c"/>
<circle cx="1250.5" cy="287.7" r="2.7" fill="#620bb4"/>
<circle cx="1269.0" cy="287.3" r="2.7" fill="#b32188"/>
<circle cx="1260.4" cy="286.1" r="2.7" fill="#d42f5b"/>
<circle cx="1248.7" cy="286.8" r="2.7" fill="#5809b5"/>
<circle cx="1253.5" cy="283.2" r="2.7" fill="#9115a3"/>
<circle cx="1247.2" cy="287.1" r="2.7" fill="#4d08b3"/>
<circle cx="1253.8" cy="296.8" r="2.7" fill="#7e10b0"/>
<circle cx="1257.3" cy="280.3" r="2.7" fill="#aa1d90"/>
<circle cx="1255.6" cy="280.7" r="2.7" fill="#9a189c"/>
<circle cx="1253.8" cy="292.3" r="2.7" fill="#8211ae"/>
<circle cx="1264.1" cy="287.1" r="2.7" fill="#de344c"/>
<circle cx="1252.0" cy="279.7" r="2.7" fill="#6e0db2"/>
<circle cx="1262.4" cy="287.1" r="2.7" fill="#e83a3c"/>
<circle cx="1258.7" cy="288.7" r="2.7" fill="#ce2d63"/>
<circle cx="1260.8" cy="287.7" r="2.7" fill="#ca2b68"/>
<circle cx="1240.2" cy="287.6" r="2.7" fill="#4908b3"/>
<circle cx="1255.3" cy="283.0" r="2.7" fill="#9e1a99"/>
<circle cx="1253.5" cy="294.5" r="2.7" fill="#7b0fb1"/>
<circle cx="1256.9" cy="285.3" r="2.7" fill="#96179f"/>
<circle cx="1257.1" cy="287.7" r="2.7" fill="#96179f"/>
<circle cx="1250.6" cy="289.9" r="2.7" fill="#780fb1"/>
<circle cx="1246.9" cy="288.3" r="2.7" fill="#650bb3"/>
<circle cx="1230.0" cy="288.0" r="2.7" fill="#4308b2"/>
<circle cx="1255.8" cy="276.0" r="2.7" fill="#a41b95"/>
<circle cx="1273.5" cy="287.7" r="2.7" fill="#ff7d16"/>
<circle cx="1275.0" cy="288.0" r="2.7" fill="#fe7215"/>
<circle cx="1291.0" cy="287.7" r="2.7" fill="#d32f5b"/>
<circle cx="1295.5" cy="287.7" r="2.7" fill="#dc334e"/>
<circle cx="1310.0" cy="287.7" r="2.7" fill="#f54126"/>
<circle cx="1212.5" cy="319.7" r="2.7" fill="#bc247c"/>
<circle cx="1230.0" cy="319.7" r="2.7" fill="#c32873"/>
<circle cx="1281.9" cy="319.6" r="2.7" fill="#3304af"/>
<circle cx="1256.3" cy="307.5" r="2.7" fill="#2e02ae"/>
<circle cx="1258.1" cy="322.1" r="2.7" fill="#3404af"/>
<circle cx="1254.9" cy="325.4" r="2.7" fill="#3404af"/>
<circle cx="1256.6" cy="332.0" r="2.7" fill="#3606af"/>
<circle cx="1251.2" cy="322.4" r="2.7" fill="#690cb3"/>
<circle cx="1248.2" cy="318.4" r="2.7" fill="#bd257a"/>
<circle cx="1256.1" cy="312.4" r="2.7" fill="#3003ae"/>
<circle cx="1259.9" cy="322.1" r="2.7" fill="#3405af"/>
<circle cx="1249.9" cy="318.9" r="2.7" fill="#9e1a99"/>
<circle cx="1259.9" cy="317.4" r="2.7" fill="#3505af"/>
<circle cx="1254.9" cy="327.6" r="2.7" fill="#3706af"/>
<circle cx="1258.2" cy="326.8" r="2.7" fill="#3204af"/>
<circle cx="1252.9" cy="321.6" r="2.7" fill="#3204af"/>
<circle cx="1256.4" cy="324.6" r="2.7" fill="#2f02ae"/>
<circle cx="1275.0" cy="319.1" r="2.7" fill="#3304af"/>
<circle cx="1243.0" cy="318.8" r="2.7" fill="#dc334f"/>
<circle cx="1252.7" cy="315.9" r="2.7" fill="#3103af"/>
<circle cx="1273.4" cy="319.0" r="2.7" fill="#2e02ae"/>
<circle cx="1254.5" cy="314.1" r="2.7" fill="#3304af"/>
<circle cx="1266.8" cy="318.7" r="2.7" fill="#2e02ae"/>
<circle cx="1246.0" cy="318.4" r="2.7" fill="#cb2b67"/>
<circle cx="1256.3" cy="314.8" r="2.7" fill="#3706af"/>
<circle cx="1254.5" cy="309.6" r="2.7" fill="#2f02ae"/>
<circle cx="1256.6" cy="309.9" r="2.7" fill="#2f02ae"/>
<circle cx="1257.9" cy="319.7" r="2.7" fill="#3103af"/>
<circle cx="1249.4" cy="322.4" r="2.7" fill="#a51c94"/>
<circle cx="1253.0" cy="323.5" r="2.7" fill="#3405af"/>
<circle cx="1239.5" cy="319.2" r="2.7" fill="#dc334f"/>
<circle cx="1264.7" cy="318.6" r="2.7" fill="#3405af"/>
<circle cx="1280.2" cy="319.8" r="2.7" fill="#3304af"/>
<circle cx="1254.7" cy="323.1" r="2.7" fill="#3203af"/>
<circle cx="1256.2" cy="327.1" r="2.7" fill="#3404af"/>
<circle cx="1264.8" cy="320.9" r="2.7" fill="#3304af"/>
<circle cx="1256.6" cy="317.3" r="2.7" fill="#3204af"/>
<circle cx="1257.8" cy="324.5" r="2.7" fill="#3405af"/>
<circle cx="1261.7" cy="320.9" r="2.7" fill="#3003ae"/>
<circle cx="1252.7" cy="319.7" r="2.7" fill="#3304af"/>
<circle cx="1249.9" cy="320.6" r="2.7" fill="#a01a97"/>
<circle cx="1278.5" cy="319.9" r="2.7" fill="#3405af"/>
<circle cx="1263.0" cy="319.7" r="2.7" fill="#3103af"/>
<circle cx="1254.4" cy="318.6" r="2.7" fill="#3003ae"/>
<circle cx="1241.2" cy="319.0" r="2.7" fill="#dc334f"/>
<circle cx="1251.1" cy="318.9" r="2.7" fill="#6f0db2"/>
<circle cx="1255.0" cy="311.9" r="2.7" fill="#2f03ae"/>
<circle cx="1244.7" cy="320.9" r="2.7" fill="#d22f5d"/>
<circle cx="1246.0" cy="321.1" r="2.7" fill="#d93253"/>
<circle cx="1256.5" cy="329.6" r="2.7" fill="#3505af"/>
<circle cx="1263.2" cy="318.5" r="2.7" fill="#3605af"/>
<circle cx="1243.0" cy="320.7" r="2.7" fill="#d93154"/>
<circle cx="1258.1" cy="315.0" r="2.7" fill="#2f03ae"/>
<circle cx="1273.4" cy="320.5" r="2.7" fill="#3505af"/>
<circle cx="1261.3" cy="318.6" r="2.7" fill="#3605af"/>
<circle cx="1257.8" cy="312.6" r="2.7" fill="#3605af"/>
<circle cx="1256.6" cy="322.2" r="2.7" fill="#3404af"/>
<circle cx="1249.6" cy="317.1" r="2.7" fill="#9e1a99"/>
<circle cx="1276.5" cy="319.2" r="2.7" fill="#3304af"/>
<circle cx="1248.0" cy="319.7" r="2.7" fill="#b62285"/>
<circle cx="1246.2" cy="319.7" r="2.7" fill="#cd2c64"/>
<circle cx="1263.5" cy="321.0" r="2.7" fill="#3605af"/>
<circle cx="1248.2" cy="321.1" r="2.7" fill="#ba247f"/>
<circle cx="1256.4" cy="319.7" r="2.7" fill="#3505af"/>
<circle cx="1275.1" cy="320.4" r="2.7" fill="#2e02ae"/>
<circle cx="1251.2" cy="320.6" r="2.7" fill="#630bb4"/>
<circle cx="1236.0" cy="319.5" r="2.7" fill="#c02677"/>
<circle cx="1276.6" cy="320.3" r="2.7" fill="#3003ae"/>
<circle cx="1239.2" cy="320.3" r="2.7" fill="#db3350"/>
<circle cx="1254.5" cy="320.9" r="2.7" fill="#3304af"/>
<circle cx="1258.2" cy="317.4" r="2.7" fill="#3003ae"/>
<circle cx="1266.4" cy="320.8" r="2.7" fill="#2f03ae"/>
<circle cx="1237.7" cy="319.7" r="2.7" fill="#c92a6a"/>
<circle cx="1252.8" cy="317.8" r="2.7" fill="#3505af"/>
<circle cx="1241.3" cy="320.5" r="2.7" fill="#e83a3c"/>
<circle cx="1259.5" cy="319.7" r="2.7" fill="#3204af"/>
<circle cx="1244.3" cy="318.6" r="2.7" fill="#dc334f"/>
<circle cx="1251.6" cy="317.1" r="2.7" fill="#640bb3"/>
<circle cx="1254.7" cy="316.4" r="2.7" fill="#3605af"/>
<circle cx="1254.6" cy="329.8" r="2.7" fill="#3605af"/>
<circle cx="1233.5" cy="319.7" r="2.7" fill="#fda82e"/>
<circle cx="1251.2" cy="346.1" r="2.7" fill="#3304af"/>
<circle cx="1258.1" cy="354.1" r="2.7" fill="#5d0ab4"/>
<circle cx="1249.4" cy="357.7" r="2.7" fill="#3304af"/>
<circle cx="1263.3" cy="350.8" r="2.7" fill="#ab1e8f"/>
<circle cx="1252.9" cy="351.8" r="2.7" fill="#3103ae"/>
<circle cx="1252.9" cy="356.4" r="2.7" fill="#3103ae"/>
<circle cx="1249.5" cy="355.3" r="2.7" fill="#2e02ae"/>
<circle cx="1253.3" cy="358.7" r="2.7" fill="#3505af"/>
<circle cx="1254.6" cy="351.8" r="2.7" fill="#3605af"/>
<circle cx="1256.7" cy="348.6" r="2.7" fill="#4308b1"/>
<circle cx="1268.5" cy="352.2" r="2.7" fill="#e13647"/>
<circle cx="1258.3" cy="349.4" r="2.7" fill="#5909b5"/>
<circle cx="1254.7" cy="356.2" r="2.7" fill="#3605af"/>
<circle cx="1253.1" cy="361.0" r="2.7" fill="#2e02ae"/>
<circle cx="1248.0" cy="353.9" r="2.7" fill="#2e02ae"/>
<circle cx="1249.5" cy="353.0" r="2.7" fill="#3204af"/>
<circle cx="1260.1" cy="351.8" r="2.7" fill="#6f0db2"/>
<circle cx="1249.7" cy="348.2" r="2.7" fill="#3204af"/>
<circle cx="1249.8" cy="350.6" r="2.7" fill="#2e02ae"/>
<circle cx="1247.9" cy="349.6" r="2.7" fill="#3103af"/>
<circle cx="1248.0" cy="351.8" r="2.7" fill="#2e02ae"/>
<circle cx="1242.8" cy="351.8" r="2.7" fill="#2e02ae"/>
<circle cx="1271.7" cy="351.7" r="2.7" fill="#f44028"/>
<circle cx="1253.0" cy="363.3" r="2.7" fill="#3204af"/>
<circle cx="1254.4" cy="345.1" r="2.7" fill="#4208b1"/>
<circle cx="1253.1" cy="349.5" r="2.7" fill="#2e02ae"/>
<circle cx="1256.3" cy="350.7" r="2.7" fill="#5008b4"/>
<circle cx="1254.9" cy="347.3" r="2.7" fill="#3605af"/>
<circle cx="1251.4" cy="341.6" r="2.7" fill="#3505af"/>
<circle cx="1251.1" cy="359.7" r="2.7" fill="#3103af"/>
<circle cx="1253.1" cy="354.1" r="2.7" fill="#3304af"/>
<circle cx="1261.5" cy="350.8" r="2.7" fill="#98189e"/>
<circle cx="1256.2" cy="352.8" r="2.7" fill="#4408b2"/>
<circle cx="1249.5" cy="345.8" r="2.7" fill="#3204af"/>
<circle cx="1251.3" cy="352.9" r="2.7" fill="#2e02ae"/>
<circle cx="1253.2" cy="342.5" r="2.7" fill="#2e02ae"/>
<circle cx="1252.7" cy="344.8" r="2.7" fill="#3003ae"/>
<circle cx="1268.6" cy="351.3" r="2.7" fill="#de344b"/>
<circle cx="1254.6" cy="358.4" r="2.7" fill="#3605af"/>
<circle cx="1251.6" cy="355.1" r="2.7" fill="#3405af"/>
<circle cx="1253.1" cy="340.2" r="2.7" fill="#3103af"/>
<circle cx="1251.1" cy="350.6" r="2.7" fill="#2e02ae"/>
<circle cx="1256.1" cy="355.0" r="2.7" fill="#4508b2"/>
<circle cx="1263.0" cy="352.7" r="2.7" fill="#a11a97"/>
<circle cx="1251.3" cy="357.4" r="2.7" fill="#2e02ae"/>
<circle cx="1257.9" cy="351.8" r="2.7" fill="#650bb3"/>
<circle cx="1246.2" cy="350.6" r="2.7" fill="#2e02ae"/>
<circle cx="1254.9" cy="354.0" r="2.7" fill="#3e07b1"/>
<circle cx="1251.0" cy="348.4" r="2.7" fill="#3204af"/>
<circle cx="1259.6" cy="349.4" r="2.7" fill="#720db2"/>
<circle cx="1259.7" cy="354.1" r="2.7" fill="#7b0fb1"/>
<circle cx="1264.8" cy="352.5" r="2.7" fill="#b82381"/>
<circle cx="1251.3" cy="361.9" r="2.7" fill="#3003ae"/>
<circle cx="1254.7" cy="349.6" r="2.7" fill="#3b07b0"/>
<circle cx="1251.5" cy="343.9" r="2.7" fill="#2f03ae"/>
<circle cx="1264.7" cy="351.1" r="2.7" fill="#c42871"/>
<circle cx="1237.7" cy="352.0" r="2.7" fill="#3404af"/>
<circle cx="1261.6" cy="352.7" r="2.7" fill="#8a13a8"/>
<circle cx="1246.3" cy="352.9" r="2.7" fill="#2f02ae"/>
<circle cx="1253.0" cy="347.1" r="2.7" fill="#2f02ae"/>
<circle cx="1275.2" cy="351.8" r="2.7" fill="#fda82e"/>
<circle cx="1385.0" cy="351.8" r="2.7" fill="#fe6b17"/>
<circle cx="1261.9" cy="384.9" r="2.7" fill="#fc5f19"/>
<circle cx="1258.5" cy="381.5" r="2.7" fill="#fd6318"/>
<circle cx="1256.9" cy="378.9" r="2.7" fill="#f64224"/>
<circle cx="1255.2" cy="372.6" r="2.7" fill="#de344b"/>
<circle cx="1256.6" cy="371.5" r="2.7" fill="#f44127"/>
<circle cx="1249.7" cy="384.9" r="2.7" fill="#5109b4"/>
<circle cx="1253.7" cy="389.4" r="2.7" fill="#9316a1"/>
<circle cx="1251.7" cy="385.0" r="2.7" fill="#3b07b0"/>
<circle cx="1257.0" cy="386.3" r="2.7" fill="#fc581a"/>
<circle cx="1238.1" cy="383.5" r="2.7" fill="#3304af"/>
<circle cx="1258.5" cy="376.9" r="2.7" fill="#fd6618"/>
<circle cx="1249.7" cy="382.7" r="2.7" fill="#4208b1"/>
<circle cx="1261.9" cy="387.0" r="2.7" fill="#fd6618"/>
<circle cx="1256.6" cy="396.1" r="2.7" fill="#fc571a"/>
<circle cx="1261.9" cy="380.6" r="2.7" fill="#fe7415"/>
<circle cx="1256.6" cy="376.4" r="2.7" fill="#fb501c"/>
<circle cx="1253.5" cy="384.9" r="2.7" fill="#8511ad"/>
<circle cx="1245.0" cy="383.3" r="2.7" fill="#3906b0"/>
<circle cx="1236.4" cy="384.0" r="2.7" fill="#3d07b1"/>
<circle cx="1253.5" cy="382.7" r="2.7" fill="#8712aa"/>
<circle cx="1250.3" cy="380.5" r="2.7" fill="#4f08b4"/>
<circle cx="1241.5" cy="383.9" r="2.7" fill="#3a07b0"/>
<circle cx="1249.8" cy="387.1" r="2.7" fill="#3b07b0"/>
<circle cx="1246.5" cy="384.3" r="2.7" fill="#3a07b0"/>
<circle cx="1248.4" cy="383.2" r="2.7" fill="#3b07b0"/>
<circle cx="1258.3" cy="393.0" r="2.7" fill="#fc581a"/>
<circle cx="1263.6" cy="383.3" r="2.7" fill="#fc5b1a"/>
<circle cx="1256.8" cy="391.2" r="2.7" fill="#f64224"/>
<circle cx="1260.2" cy="388.4" r="2.7" fill="#fc5b1a"/>
<circle cx="1253.3" cy="380.4" r="2.7" fill="#a11b97"/>
<circle cx="1248.5" cy="384.4" r="2.7" fill="#4208b1"/>
<circle cx="1239.8" cy="384.0" r="2.7" fill="#3204af"/>
<circle cx="1254.8" cy="385.0" r="2.7" fill="#d53059"/>
<circle cx="1256.6" cy="388.7" r="2.7" fill="#fb541b"/>
<circle cx="1256.5" cy="383.8" r="2.7" fill="#fb531b"/>
<circle cx="1270.4" cy="383.9" r="2.7" fill="#fc561b"/>
<circle cx="1260.3" cy="379.2" r="2.7" fill="#ff7c15"/>
<circle cx="1253.5" cy="378.2" r="2.7" fill="#8411ad"/>
<circle cx="1252.0" cy="377.7" r="2.7" fill="#4e08b3"/>
<circle cx="1251.5" cy="389.9" r="2.7" fill="#4308b1"/>
<circle cx="1260.2" cy="376.9" r="2.7" fill="#fd6618"/>
<circle cx="1258.6" cy="374.6" r="2.7" fill="#fb541b"/>
<circle cx="1255.2" cy="392.5" r="2.7" fill="#da3252"/>
<circle cx="1272.1" cy="383.8" r="2.7" fill="#f84321"/>
<circle cx="1254.9" cy="377.6" r="2.7" fill="#d42f5b"/>
<circle cx="1255.2" cy="380.1" r="2.7" fill="#ea3b37"/>
<circle cx="1253.4" cy="373.7" r="2.7" fill="#9b199c"/>
<circle cx="1258.7" cy="388.4" r="2.7" fill="#fd6518"/>
<circle cx="1255.3" cy="375.1" r="2.7" fill="#eb3c36"/>
<circle cx="1260.0" cy="381.5" r="2.7" fill="#ff7714"/>
<circle cx="1251.9" cy="380.1" r="2.7" fill="#4e08b3"/>
<circle cx="1253.6" cy="393.9" r="2.7" fill="#8211ae"/>
<circle cx="1260.3" cy="390.7" r="2.7" fill="#fc5b1a"/>
<circle cx="1253.7" cy="391.6" r="2.7" fill="#9216a2"/>
<circle cx="1258.7" cy="386.1" r="2.7" fill="#fe7116"/>
<circle cx="1260.1" cy="386.1" r="2.7" fill="#fe6e16"/>
<circle cx="1255.3" cy="390.0" r="2.7" fill="#e6393e"/>
<circle cx="1234.7" cy="383.8" r="2.7" fill="#3706b0"/>
<circle cx="1260.1" cy="383.8" r="2.7" fill="#fd6718"/>
<circle cx="1258.4" cy="390.7" r="2.7" fill="#fc5c1a"/>
<circle cx="1258.5" cy="383.8" r="2.7" fill="#fb501c"/>
<circle cx="1246.8" cy="383.3" r="2.7" fill="#4107b1"/>
<circle cx="1244.9" cy="384.3" r="2.7" fill="#3a07b0"/>
<circle cx="1254.9" cy="382.6" r="2.7" fill="#e33744"/>
<circle cx="1253.2" cy="376.0" r="2.7" fill="#9c199a"/>
<circle cx="1263.5" cy="384.3" r="2.7" fill="#fd6119"/>
<circle cx="1268.7" cy="383.7" r="2.7" fill="#fd6418"/>
<circle cx="1256.8" cy="374.0" r="2.7" fill="#f13f2c"/>
<circle cx="1253.4" cy="387.2" r="2.7" fill="#8d14a6"/>
<circle cx="1255.1" cy="395.0" r="2.7" fill="#d83155"/>
<circle cx="1273.8" cy="383.8" r="2.7" fill="#fb4f1c"/>
<circle cx="1256.6" cy="381.3" r="2.7" fill="#fb4e1c"/>
<circle cx="1251.7" cy="382.6" r="2.7" fill="#4808b2"/>
<circle cx="1233.0" cy="384.0" r="2.7" fill="#4208b1"/>
<circle cx="1262.1" cy="382.7" r="2.7" fill="#fe6b17"/>
<circle cx="1251.5" cy="387.5" r="2.7" fill="#5809b5"/>
<circle cx="1255.1" cy="387.5" r="2.7" fill="#eb3c36"/>
<circle cx="1258.3" cy="379.2" r="2.7" fill="#fe7016"/>
<circle cx="1257.0" cy="393.6" r="2.7" fill="#f64224"/>
<circle cx="1281.0" cy="383.8" r="2.7" fill="#fe6b17"/>
<circle cx="1285.0" cy="383.8" r="2.7" fill="#fe6b17"/>
<circle cx="1289.5" cy="383.8" r="2.7" fill="#fe6b17"/>
<circle cx="1215.5" cy="415.8" r="2.7" fill="#3404af"/>
<circle cx="1222.0" cy="415.8" r="2.7" fill="#3605af"/>
<circle cx="1253.9" cy="415.8" r="2.7" fill="#e03548"/>
<circle cx="1230.0" cy="415.6" r="2.7" fill="#7d0fb0"/>
<circle cx="1257.5" cy="404.2" r="2.7" fill="#fa441e"/>
<circle cx="1260.8" cy="415.8" r="2.7" fill="#fd6a17"/>
<circle cx="1257.0" cy="418.2" r="2.7" fill="#f74224"/>
<circle cx="1253.9" cy="413.4" r="2.7" fill="#d5305a"/>
<circle cx="1250.1" cy="414.5" r="2.7" fill="#c6296e"/>
<circle cx="1258.8" cy="424.1" r="2.7" fill="#fd6917"/>
<circle cx="1259.0" cy="419.4" r="2.7" fill="#fd6718"/>
<circle cx="1235.1" cy="416.0" r="2.7" fill="#6b0cb3"/>
<circle cx="1259.1" cy="412.3" r="2.7" fill="#fb531b"/>
<circle cx="1258.6" cy="409.9" r="2.7" fill="#fc551b"/>
<circle cx="1255.8" cy="427.5" r="2.7" fill="#f54126"/>
<circle cx="1233.4" cy="416.0" r="2.7" fill="#720eb2"/>
<circle cx="1257.2" cy="422.8" r="2.7" fill="#fc561b"/>
<circle cx="1255.7" cy="422.8" r="2.7" fill="#e6393f"/>
<circle cx="1243.4" cy="415.4" r="2.7" fill="#8311ae"/>
<circle cx="1255.3" cy="413.5" r="2.7" fill="#ef3e2f"/>
<circle cx="1254.1" cy="418.3" r="2.7" fill="#e6393e"/>
<circle cx="1267.4" cy="416.1" r="2.7" fill="#fd6418"/>
<circle cx="1252.2" cy="420.9" r="2.7" fill="#da3251"/>
<circle cx="1257.4" cy="420.5" r="2.7" fill="#fa491d"/>
<circle cx="1250.6" cy="417.1" r="2.7" fill="#cb2b67"/>
<circle cx="1253.8" cy="405.9" r="2.7" fill="#d42f5a"/>
<circle cx="1248.7" cy="416.4" r="2.7" fill="#a91d91"/>
<circle cx="1260.7" cy="419.8" r="2.7" fill="#ff841a"/>
<circle cx="1255.4" cy="404.2" r="2.7" fill="#ea3b38"/>
<circle cx="1252.3" cy="416.8" r="2.7" fill="#c12775"/>
<circle cx="1258.9" cy="414.7" r="2.7" fill="#fd6019"/>
<circle cx="1260.7" cy="411.8" r="2.7" fill="#ff851a"/>
<circle cx="1257.2" cy="413.5" r="2.7" fill="#fb4e1c"/>
<circle cx="1255.5" cy="425.1" r="2.7" fill="#ec3c35"/>
<circle cx="1253.7" cy="423.3" r="2.7" fill="#e6393e"/>
<circle cx="1257.4" cy="425.2" r="2.7" fill="#ee3d32"/>
<circle cx="1263.7" cy="415.3" r="2.7" fill="#fd6418"/>
<circle cx="1258.9" cy="417.0" r="2.7" fill="#fe6d16"/>
<circle cx="1262.5" cy="415.1" r="2.7" fill="#ff8319"/>
<circle cx="1252.1" cy="418.9" r="2.7" fill="#c12775"/>
<circle cx="1252.2" cy="410.8" r="2.7" fill="#d22e5d"/>
<circle cx="1264.2" cy="416.4" r="2.7" fill="#ff851a"/>
<circle cx="1257.2" cy="427.5" r="2.7" fill="#f64224"/>
<circle cx="1255.3" cy="408.9" r="2.7" fill="#f64224"/>
<circle cx="1257.1" cy="411.2" r="2.7" fill="#f44127"/>
<circle cx="1252.3" cy="414.8" r="2.7" fill="#d63058"/>
<circle cx="1258.8" cy="421.7" r="2.7" fill="#fd6718"/>
<circle cx="1238.5" cy="415.6" r="2.7" fill="#700db2"/>
<circle cx="1256.9" cy="415.8" r="2.7" fill="#fa491d"/>
<circle cx="1253.8" cy="410.9" r="2.7" fill="#e03548"/>
<circle cx="1255.3" cy="411.2" r="2.7" fill="#f9441f"/>
<circle cx="1253.6" cy="425.7" r="2.7" fill="#dd334e"/>
<circle cx="1243.5" cy="416.3" r="2.7" fill="#a11a97"/>
<circle cx="1252.2" cy="412.8" r="2.7" fill="#e23646"/>
<circle cx="1262.2" cy="416.6" r="2.7" fill="#ff7615"/>
<circle cx="1270.8" cy="415.9" r="2.7" fill="#ff7d16"/>
<circle cx="1255.6" cy="420.5" r="2.7" fill="#ec3c34"/>
<circle cx="1254.1" cy="420.8" r="2.7" fill="#ea3b37"/>
<circle cx="1257.2" cy="408.8" r="2.7" fill="#ee3d32"/>
<circle cx="1241.9" cy="415.9" r="2.7" fill="#7b0fb1"/>
<circle cx="1259.1" cy="407.6" r="2.7" fill="#fc571a"/>
<circle cx="1253.5" cy="408.4" r="2.7" fill="#e93a3a"/>
<circle cx="1257.4" cy="406.5" r="2.7" fill="#ed3d33"/>
<circle cx="1260.3" cy="413.8" r="2.7" fill="#ff8018"/>
<circle cx="1250.6" cy="415.8" r="2.7" fill="#b2208a"/>
<circle cx="1269.1" cy="416.0" r="2.7" fill="#ff7a14"/>
<circle cx="1248.6" cy="415.2" r="2.7" fill="#a61c93"/>
<circle cx="1255.5" cy="418.2" r="2.7" fill="#e5383f"/>
<circle cx="1255.6" cy="415.8" r="2.7" fill="#dc334f"/>
<circle cx="1272.5" cy="416.0" r="2.7" fill="#fd6418"/>
<circle cx="1260.7" cy="417.8" r="2.7" fill="#ff8118"/>
<circle cx="1255.5" cy="406.5" r="2.7" fill="#f94320"/>
<circle cx="1280.0" cy="415.8" r="2.7" fill="#fc5b1a"/>
<circle cx="1288.0" cy="415.8" r="2.7" fill="#fc5b1a"/>
<circle cx="1219.0" cy="447.9" r="2.7" fill="#ff7d16"/>
<circle cx="1230.5" cy="447.9" r="2.7" fill="#fe7215"/>
<circle cx="1266.3" cy="448.4" r="2.7" fill="#700db2"/>
<circle cx="1254.5" cy="455.3" r="2.7" fill="#c32773"/>
<circle cx="1256.0" cy="458.0" r="2.7" fill="#ad1e8e"/>
<circle cx="1276.7" cy="447.6" r="2.7" fill="#760eb1"/>
<circle cx="1253.2" cy="444.4" r="2.7" fill="#fb4b1d"/>
<circle cx="1254.4" cy="457.8" r="2.7" fill="#b01f8b"/>
<circle cx="1261.7" cy="448.5" r="2.7" fill="#8311ae"/>
<circle cx="1257.7" cy="445.8" r="2.7" fill="#9416a1"/>
<circle cx="1264.7" cy="447.3" r="2.7" fill="#680cb3"/>
<circle cx="1264.5" cy="448.4" r="2.7" fill="#7f10b0"/>
<circle cx="1256.5" cy="453.5" r="2.7" fill="#9b199c"/>
<circle cx="1259.7" cy="446.6" r="2.7" fill="#8813aa"/>
<circle cx="1252.7" cy="449.0" r="2.7" fill="#f44028"/>
<circle cx="1254.5" cy="450.3" r="2.7" fill="#ba247e"/>
<circle cx="1251.0" cy="443.3" r="2.7" fill="#ec3c35"/>
<circle cx="1256.4" cy="444.5" r="2.7" fill="#8a13a8"/>
<circle cx="1259.5" cy="449.1" r="2.7" fill="#7c0fb0"/>
<circle cx="1256.3" cy="442.2" r="2.7" fill="#a21b96"/>
<circle cx="1256.1" cy="439.9" r="2.7" fill="#97179f"/>
<circle cx="1241.0" cy="447.8" r="2.7" fill="#fc5d19"/>
<circle cx="1253.0" cy="453.6" r="2.7" fill="#ed3c34"/>
<circle cx="1253.0" cy="458.2" r="2.7" fill="#f74322"/>
<circle cx="1275.0" cy="447.7" r="2.7" fill="#8211ae"/>
<circle cx="1258.3" cy="441.6" r="2.7" fill="#6b0cb3"/>
<circle cx="1256.3" cy="455.8" r="2.7" fill="#9617a0"/>
<circle cx="1254.3" cy="442.9" r="2.7" fill="#aa1e90"/>
<circle cx="1251.3" cy="450.1" r="2.7" fill="#f13f2d"/>
<circle cx="1256.1" cy="446.7" r="2.7" fill="#ab1e90"/>
<circle cx="1254.6" cy="435.4" r="2.7" fill="#d02d60"/>
<circle cx="1263.4" cy="447.3" r="2.7" fill="#8913a9"/>
<circle cx="1247.6" cy="448.3" r="2.7" fill="#f74224"/>
<circle cx="1253.0" cy="451.3" r="2.7" fill="#fb4e1c"/>
<circle cx="1253.0" cy="439.8" r="2.7" fill="#f23f2b"/>
<circle cx="1251.5" cy="452.4" r="2.7" fill="#eb3b37"/>
<circle cx="1246.1" cy="447.7" r="2.7" fill="#fd6119"/>
<circle cx="1251.1" cy="454.7" r="2.7" fill="#fc581a"/>
<circle cx="1252.7" cy="446.7" r="2.7" fill="#e7393d"/>
<circle cx="1278.4" cy="447.6" r="2.7" fill="#660cb3"/>
<circle cx="1271.6" cy="448.0" r="2.7" fill="#690cb3"/>
<circle cx="1244.4" cy="448.0" r="2.7" fill="#fa461e"/>
<circle cx="1257.9" cy="452.0" r="2.7" fill="#6c0db2"/>
<circle cx="1251.1" cy="445.6" r="2.7" fill="#eb3c36"/>
<circle cx="1242.7" cy="447.8" r="2.7" fill="#fc541b"/>
<circle cx="1256.2" cy="451.3" r="2.7" fill="#a31b95"/>
<circle cx="1263.2" cy="448.4" r="2.7" fill="#8d14a6"/>
<circle cx="1257.8" cy="447.9" r="2.7" fill="#750eb1"/>
<circle cx="1254.8" cy="437.9" r="2.7" fill="#c12775"/>
<circle cx="1261.2" cy="447.2" r="2.7" fill="#8010b0"/>
<circle cx="1258.2" cy="454.1" r="2.7" fill="#6c0db2"/>
<circle cx="1251.3" cy="441.1" r="2.7" fill="#fb501c"/>
<circle cx="1249.2" cy="449.1" r="2.7" fill="#fb4c1d"/>
<circle cx="1254.3" cy="445.4" r="2.7" fill="#bd257a"/>
<circle cx="1256.2" cy="437.7" r="2.7" fill="#9a189c"/>
<circle cx="1247.6" cy="447.4" r="2.7" fill="#f34029"/>
<circle cx="1252.7" cy="442.1" r="2.7" fill="#f34029"/>
<circle cx="1254.6" cy="440.4" r="2.7" fill="#d22e5d"/>
<circle cx="1258.2" cy="449.9" r="2.7" fill="#8c14a7"/>
<circle cx="1254.4" cy="460.3" r="2.7" fill="#ce2d62"/>
<circle cx="1254.6" cy="447.9" r="2.7" fill="#bb247d"/>
<circle cx="1256.0" cy="449.0" r="2.7" fill="#a91d91"/>
<circle cx="1249.6" cy="446.6" r="2.7" fill="#fb501c"/>
<circle cx="1273.3" cy="447.9" r="2.7" fill="#710db2"/>
<circle cx="1252.9" cy="437.5" r="2.7" fill="#eb3c36"/>
<circle cx="1266.3" cy="447.4" r="2.7" fill="#790fb1"/>
<circle cx="1269.9" cy="447.7" r="2.7" fill="#7b0fb1"/>
<circle cx="1258.3" cy="443.7" r="2.7" fill="#740eb2"/>
<circle cx="1251.0" cy="447.9" r="2.7" fill="#fa471d"/>
<circle cx="1254.4" cy="452.8" r="2.7" fill="#d42f5a"/>
<circle cx="1253.2" cy="455.9" r="2.7" fill="#e03648"/>
<circle cx="1249.5" cy="447.9" r="2.7" fill="#f54127"/>
<circle cx="1251.0" cy="447.9" r="2.7" fill="#fe9a26"/>
<circle cx="1285.7" cy="447.9" r="2.7" fill="#5f0ab4"/>
<circle cx="1248.8" cy="481.2" r="2.7" fill="#3304af"/>
<circle cx="1254.2" cy="485.6" r="2.7" fill="#3d07b1"/>
<circle cx="1252.2" cy="477.6" r="2.7" fill="#3505af"/>
<circle cx="1252.4" cy="479.9" r="2.7" fill="#3907b0"/>
<circle cx="1255.5" cy="491.6" r="2.7" fill="#3605af"/>
<circle cx="1240.4" cy="479.9" r="2.7" fill="#3906b0"/>
<circle cx="1257.4" cy="477.6" r="2.7" fill="#4708b2"/>
<circle cx="1265.9" cy="480.9" r="2.7" fill="#ba247f"/>
<circle cx="1257.2" cy="475.3" r="2.7" fill="#3a07b0"/>
<circle cx="1264.3" cy="481.1" r="2.7" fill="#a21b96"/>
<circle cx="1272.7" cy="480.0" r="2.7" fill="#fc551b"/>
<circle cx="1253.9" cy="490.2" r="2.7" fill="#3806b0"/>
<circle cx="1258.9" cy="477.0" r="2.7" fill="#4c08b3"/>
<circle cx="1257.6" cy="473.0" r="2.7" fill="#3f07b1"/>
<circle cx="1242.1" cy="480.2" r="2.7" fill="#3806b0"/>
<circle cx="1253.9" cy="469.6" r="2.7" fill="#3a07b0"/>
<circle cx="1250.7" cy="480.8" r="2.7" fill="#3a07b0"/>
<circle cx="1258.9" cy="480.8" r="2.7" fill="#4f08b3"/>
<circle cx="1271.3" cy="479.3" r="2.7" fill="#ec3c35"/>
<circle cx="1267.6" cy="480.7" r="2.7" fill="#c52870"/>
<circle cx="1262.2" cy="481.2" r="2.7" fill="#7b0fb1"/>
<circle cx="1261.0" cy="479.0" r="2.7" fill="#5509b5"/>
<circle cx="1254.0" cy="483.3" r="2.7" fill="#3907b0"/>
<circle cx="1243.8" cy="479.4" r="2.7" fill="#3404af"/>
<circle cx="1255.5" cy="470.6" r="2.7" fill="#3806b0"/>
<circle cx="1253.9" cy="487.9" r="2.7" fill="#3c07b0"/>
<circle cx="1243.6" cy="480.4" r="2.7" fill="#3706b0"/>
<circle cx="1260.8" cy="477.4" r="2.7" fill="#620bb4"/>
<circle cx="1254.2" cy="471.9" r="2.7" fill="#3f07b1"/>
<circle cx="1255.4" cy="486.9" r="2.7" fill="#3e07b1"/>
<circle cx="1257.4" cy="470.7" r="2.7" fill="#3907b0"/>
<circle cx="1259.1" cy="478.9" r="2.7" fill="#4608b2"/>
<circle cx="1257.2" cy="489.1" r="2.7" fill="#3806b0"/>
<circle cx="1269.3" cy="479.2" r="2.7" fill="#e33744"/>
<circle cx="1247.2" cy="478.9" r="2.7" fill="#3b07b0"/>
<circle cx="1257.6" cy="484.5" r="2.7" fill="#4308b1"/>
<circle cx="1252.5" cy="482.1" r="2.7" fill="#3906b0"/>
<circle cx="1255.8" cy="484.6" r="2.7" fill="#3907b0"/>
<circle cx="1255.5" cy="482.2" r="2.7" fill="#3d07b1"/>
<circle cx="1255.5" cy="489.2" r="2.7" fill="#3605af"/>
<circle cx="1254.0" cy="474.2" r="2.7" fill="#3b07b0"/>
<circle cx="1262.3" cy="478.6" r="2.7" fill="#7f10b0"/>
<circle cx="1253.9" cy="481.0" r="2.7" fill="#3706b0"/>
<circle cx="1252.5" cy="475.4" r="2.7" fill="#3304af"/>
<circle cx="1250.6" cy="482.5" r="2.7" fill="#3706af"/>
<circle cx="1255.6" cy="479.9" r="2.7" fill="#3706b0"/>
<circle cx="1264.1" cy="478.7" r="2.7" fill="#a21b96"/>
<circle cx="1267.6" cy="479.1" r="2.7" fill="#d32f5c"/>
<circle cx="1248.6" cy="478.5" r="2.7" fill="#3605af"/>
<circle cx="1255.9" cy="472.9" r="2.7" fill="#3605af"/>
<circle cx="1261.0" cy="482.4" r="2.7" fill="#5509b4"/>
<circle cx="1265.7" cy="478.9" r="2.7" fill="#bc247c"/>
<circle cx="1247.3" cy="480.8" r="2.7" fill="#3706b0"/>
<circle cx="1250.7" cy="477.2" r="2.7" fill="#3605af"/>
<circle cx="1257.3" cy="482.2" r="2.7" fill="#3907b0"/>
<circle cx="1269.1" cy="480.6" r="2.7" fill="#e33744"/>
<circle cx="1255.7" cy="477.6" r="2.7" fill="#4308b1"/>
<circle cx="1253.9" cy="476.4" r="2.7" fill="#3706af"/>
<circle cx="1257.7" cy="479.9" r="2.7" fill="#4708b2"/>
<circle cx="1262.8" cy="479.9" r="2.7" fill="#8813aa"/>
<circle cx="1252.3" cy="484.4" r="2.7" fill="#3304af"/>
<circle cx="1255.8" cy="468.2" r="2.7" fill="#3706b0"/>
<circle cx="1255.5" cy="475.2" r="2.7" fill="#3906b0"/>
<circle cx="1259.3" cy="482.7" r="2.7" fill="#4608b2"/>
<circle cx="1260.8" cy="480.7" r="2.7" fill="#5d0ab4"/>
<circle cx="1274.4" cy="479.8" r="2.7" fill="#fd6518"/>
<circle cx="1257.2" cy="486.8" r="2.7" fill="#3b07b0"/>
<circle cx="1253.7" cy="478.7" r="2.7" fill="#3906b0"/>
<circle cx="1271.3" cy="480.4" r="2.7" fill="#f84322"/>
<circle cx="1250.5" cy="479.0" r="2.7" fill="#3605af"/>
<circle cx="1249.0" cy="479.9" r="2.7" fill="#3204af"/>
<circle cx="1238.7" cy="479.9" r="2.7" fill="#3706b0"/>
<circle cx="1277.0" cy="479.9" r="2.7" fill="#fda82e"/>
<circle cx="1285.0" cy="479.9" r="2.7" fill="#8a13a8"/>
<circle cx="1292.5" cy="479.9" r="2.7" fill="#8010b0"/>
<circle cx="1254.3" cy="523.2" r="2.7" fill="#9316a2"/>
<circle cx="1255.7" cy="506.9" r="2.7" fill="#b72284"/>
<circle cx="1242.1" cy="512.1" r="2.7" fill="#4708b2"/>
<circle cx="1254.2" cy="510.7" r="2.7" fill="#8010b0"/>
<circle cx="1254.0" cy="500.7" r="2.7" fill="#8712ab"/>
<circle cx="1271.0" cy="512.1" r="2.7" fill="#fb531b"/>
<circle cx="1269.4" cy="512.4" r="2.7" fill="#fb531b"/>
<circle cx="1252.6" cy="517.9" r="2.7" fill="#4708b2"/>
<circle cx="1267.8" cy="512.5" r="2.7" fill="#f64225"/>
<circle cx="1252.1" cy="522.7" r="2.7" fill="#600ab4"/>
<circle cx="1237.0" cy="511.7" r="2.7" fill="#4208b1"/>
<circle cx="1238.7" cy="511.8" r="2.7" fill="#4308b2"/>
<circle cx="1254.1" cy="515.7" r="2.7" fill="#9517a0"/>
<circle cx="1253.8" cy="503.2" r="2.7" fill="#8913a9"/>
<circle cx="1260.7" cy="511.9" r="2.7" fill="#fb4a1d"/>
<circle cx="1252.3" cy="501.1" r="2.7" fill="#5709b5"/>
<circle cx="1257.6" cy="513.0" r="2.7" fill="#fa481d"/>
<circle cx="1252.4" cy="508.3" r="2.7" fill="#5809b5"/>
<circle cx="1252.1" cy="503.5" r="2.7" fill="#4808b2"/>
<circle cx="1252.4" cy="520.3" r="2.7" fill="#4d08b3"/>
<circle cx="1255.8" cy="514.4" r="2.7" fill="#c6296d"/>
<circle cx="1261.0" cy="510.3" r="2.7" fill="#fa491d"/>
<circle cx="1249.0" cy="510.7" r="2.7" fill="#5109b4"/>
<circle cx="1247.0" cy="510.9" r="2.7" fill="#4f08b4"/>
<circle cx="1247.2" cy="513.0" r="2.7" fill="#4c08b3"/>
<circle cx="1262.7" cy="510.7" r="2.7" fill="#fb511c"/>
<circle cx="1264.0" cy="512.9" r="2.7" fill="#fb521b"/>
<circle cx="1250.5" cy="519.0" r="2.7" fill="#3e07b1"/>
<circle cx="1257.3" cy="508.7" r="2.7" fill="#f3402a"/>
<circle cx="1253.9" cy="518.2" r="2.7" fill="#97179e"/>
<circle cx="1250.7" cy="504.8" r="2.7" fill="#5008b4"/>
<circle cx="1252.0" cy="515.5" r="2.7" fill="#630bb4"/>
<circle cx="1264.4" cy="511.0" r="2.7" fill="#fc591a"/>
<circle cx="1253.8" cy="520.7" r="2.7" fill="#8612ac"/>
<circle cx="1250.9" cy="514.3" r="2.7" fill="#5309b4"/>
<circle cx="1254.1" cy="505.7" r="2.7" fill="#9316a2"/>
<circle cx="1250.5" cy="509.6" r="2.7" fill="#4007b1"/>
<circle cx="1260.9" cy="513.5" r="2.7" fill="#fc541b"/>
<circle cx="1250.7" cy="516.7" r="2.7" fill="#5008b4"/>
<circle cx="1269.1" cy="511.5" r="2.7" fill="#f64225"/>
<circle cx="1257.2" cy="515.1" r="2.7" fill="#ec3c35"/>
<circle cx="1254.1" cy="513.2" r="2.7" fill="#8110b0"/>
<circle cx="1253.8" cy="508.2" r="2.7" fill="#8b14a7"/>
<circle cx="1258.9" cy="514.0" r="2.7" fill="#fa491d"/>
<circle cx="1248.8" cy="513.2" r="2.7" fill="#4708b2"/>
<circle cx="1259.1" cy="509.8" r="2.7" fill="#f64125"/>
<circle cx="1252.4" cy="510.7" r="2.7" fill="#5609b5"/>
<circle cx="1250.9" cy="511.9" r="2.7" fill="#5209b4"/>
<circle cx="1259.0" cy="511.9" r="2.7" fill="#f34029"/>
<circle cx="1267.4" cy="511.3" r="2.7" fill="#fa491d"/>
<circle cx="1257.3" cy="510.9" r="2.7" fill="#f9441f"/>
<circle cx="1255.6" cy="511.9" r="2.7" fill="#d63058"/>
<circle cx="1255.8" cy="516.9" r="2.7" fill="#d42f5b"/>
<circle cx="1265.7" cy="512.7" r="2.7" fill="#fc591a"/>
<circle cx="1255.4" cy="509.4" r="2.7" fill="#c02677"/>
<circle cx="1250.4" cy="507.2" r="2.7" fill="#4208b1"/>
<circle cx="1265.7" cy="511.1" r="2.7" fill="#fc5a1a"/>
<circle cx="1262.4" cy="513.1" r="2.7" fill="#f54126"/>
<circle cx="1252.6" cy="505.9" r="2.7" fill="#4908b2"/>
<circle cx="1252.1" cy="513.1" r="2.7" fill="#5f0ab4"/>
<circle cx="1278.5" cy="511.9" r="2.7" fill="#fa441e"/>
<defs><linearGradient id="cb" x1="0" y1="1" x2="0" y2="0">
<stop offset="0.0" stop-color="#2e02ae"/>
<stop offset="0.08" stop-color="#3a07b0"/>
<stop offset="0.18" stop-color="#5809b5"/>
<stop offset="0.3" stop-color="#8010b0"/>
<stop offset="0.45" stop-color="#b2208a"/>
<stop offset="0.57" stop-color="#da3252"/>
<stop offset="0.7" stop-color="#fa441e"/>
<stop offset="0.84" stop-color="#ff7a14"/>
<stop offset="1.0" stop-color="#fda82e"/>
</linearGradient></defs>
<rect x="1498.4" y="220.4" width="6.7" height="133.8" fill="url(#cb)"/>
<text x="1511.6" y="224.6" font-size="10.6" fill="#1a1a1a" text-anchor="start" font-weight="normal" >High</text>
<text x="1511.6" y="358.6" font-size="10.6" fill="#1a1a1a" text-anchor="start" font-weight="normal" >Low</text>
<text transform="translate(1492.2,287.5) rotate(-90)" font-size="13" fill="#1a1a1a" text-anchor="middle">Feature value</text>
</g>
</svg>
</body></html>
